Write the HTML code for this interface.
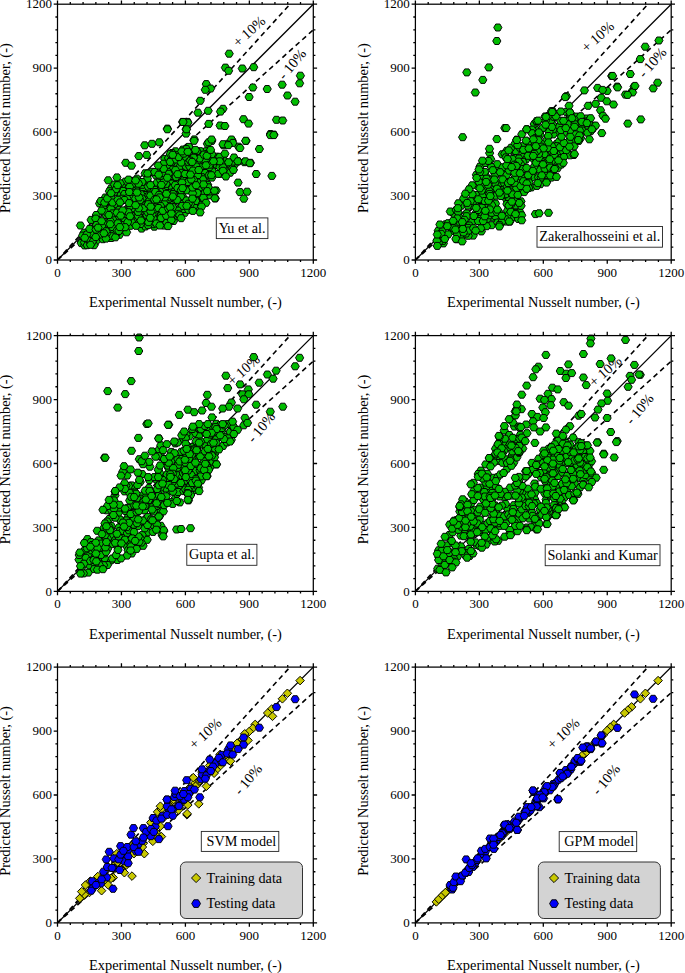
<!DOCTYPE html><html><head><meta charset="utf-8"><title>Predicted vs Experimental Nusselt number</title>
<style>html,body{margin:0;padding:0;background:#fff}svg{display:block}.t{font-family:"Liberation Serif",serif;font-size:13.0px;fill:#000}.l{font-family:"Liberation Serif",serif;font-size:14.4px;fill:#000}.b{font-family:"Liberation Serif",serif;font-size:14.2px;fill:#000}.g polygon{fill:#00bc00;stroke:#000;stroke-width:.95}.y polygon{fill:#c8c800;stroke:#000;stroke-width:.95}.u polygon{fill:#0000fa;stroke:#000;stroke-width:.95}</style></head><body>
<svg width="685" height="973" viewBox="0 0 685 973">
<rect width="685" height="973" fill="#fff"/>
<defs>
<clipPath id="c0"><rect x="57.5" y="4.2" width="255.8" height="255.8"/></clipPath>
<clipPath id="c1"><rect x="415.4" y="4.2" width="255.8" height="255.8"/></clipPath>
<clipPath id="c2"><rect x="57.5" y="335.6" width="255.8" height="255.8"/></clipPath>
<clipPath id="c3"><rect x="415.4" y="335.6" width="255.8" height="255.8"/></clipPath>
<clipPath id="c4"><rect x="57.5" y="667.1" width="255.8" height="255.8"/></clipPath>
<clipPath id="c5"><rect x="415.4" y="667.1" width="255.8" height="255.8"/></clipPath>
</defs>
<g>
<g clip-path="url(#c0)">
<line x1="57.5" y1="260.0" x2="313.3" y2="4.2" stroke="#000" stroke-width="1.3"/>
<line x1="57.5" y1="260.0" x2="290.0" y2="4.2" stroke="#000" stroke-width="1.6" stroke-dasharray="5.1 3.8"/>
<line x1="57.5" y1="260.0" x2="313.3" y2="29.8" stroke="#000" stroke-width="1.6" stroke-dasharray="5.1 3.8"/>
</g>
<text transform="translate(252.3 35.0) rotate(-42)" text-anchor="middle" class="l">+ 10%</text>
<text transform="translate(295.7 67.4) rotate(-50)" text-anchor="middle" class="l">- 10%</text>
<g class="g">
<polygon points="113.2,202.3 115.2,198.8 119.3,198.8 121.4,202.3 119.3,205.8 115.2,205.8"/>
<polygon points="133.6,208.4 135.6,204.9 139.8,204.9 141.8,208.4 139.8,211.9 135.6,211.9"/>
<polygon points="173.2,153.4 175.2,149.9 179.4,149.9 181.4,153.4 179.4,156.9 175.2,156.9"/>
<polygon points="205.8,195.4 207.8,191.9 212.0,191.9 214.0,195.4 212.0,198.9 207.8,198.9"/>
<polygon points="175.2,162.1 177.2,158.6 181.4,158.6 183.4,162.1 181.4,165.6 177.2,165.6"/>
<polygon points="157.3,222.5 159.3,219.0 163.5,219.0 165.5,222.5 163.5,226.0 159.3,226.0"/>
<polygon points="180.2,153.3 182.2,149.8 186.4,149.8 188.4,153.3 186.4,156.8 182.2,156.8"/>
<polygon points="193.7,207.1 195.8,203.6 199.9,203.6 201.9,207.1 199.9,210.6 195.8,210.6"/>
<polygon points="137.5,228.6 139.5,225.1 143.7,225.1 145.7,228.6 143.7,232.1 139.5,232.1"/>
<polygon points="212.3,156.7 214.3,153.2 218.5,153.2 220.5,156.7 218.5,160.2 214.3,160.2"/>
<polygon points="173.3,177.5 175.3,174.0 179.5,174.0 181.5,177.5 179.5,181.0 175.3,181.0"/>
<polygon points="154.8,186.1 156.8,182.6 161.0,182.6 163.0,186.1 161.0,189.6 156.8,189.6"/>
<polygon points="130.6,206.5 132.6,203.0 136.8,203.0 138.8,206.5 136.8,210.0 132.6,210.0"/>
<polygon points="180.2,163.4 182.2,159.9 186.4,159.9 188.4,163.4 186.4,166.9 182.2,166.9"/>
<polygon points="186.8,168.3 188.8,164.8 193.0,164.8 195.0,168.3 193.0,171.8 188.8,171.8"/>
<polygon points="90.0,228.5 92.0,225.0 96.1,225.0 98.2,228.5 96.1,232.0 92.0,232.0"/>
<polygon points="121.8,225.3 123.9,221.8 128.0,221.8 130.0,225.3 128.0,228.8 123.9,228.8"/>
<polygon points="171.4,151.3 173.4,147.8 177.6,147.8 179.6,151.3 177.6,154.8 173.4,154.8"/>
<polygon points="187.5,180.5 189.5,177.0 193.7,177.0 195.7,180.5 193.7,184.0 189.5,184.0"/>
<polygon points="106.9,188.4 109.0,184.9 113.0,184.9 115.1,188.4 113.0,191.9 109.0,191.9"/>
<polygon points="170.8,162.7 172.8,159.2 177.0,159.2 179.0,162.7 177.0,166.2 172.8,166.2"/>
<polygon points="82.9,235.4 85.0,231.9 89.0,231.9 91.1,235.4 89.0,238.9 85.0,238.9"/>
<polygon points="147.6,199.9 149.6,196.4 153.8,196.4 155.8,199.9 153.8,203.4 149.6,203.4"/>
<polygon points="176.0,207.6 178.0,204.1 182.2,204.1 184.2,207.6 182.2,211.1 178.0,211.1"/>
<polygon points="162.9,210.1 164.9,206.6 169.1,206.6 171.1,210.1 169.1,213.6 164.9,213.6"/>
<polygon points="143.1,220.3 145.1,216.8 149.2,216.8 151.3,220.3 149.2,223.8 145.1,223.8"/>
<polygon points="140.6,206.0 142.6,202.5 146.8,202.5 148.8,206.0 146.8,209.5 142.6,209.5"/>
<polygon points="173.4,194.4 175.4,190.9 179.6,190.9 181.6,194.4 179.6,197.9 175.4,197.9"/>
<polygon points="181.5,182.7 183.5,179.2 187.7,179.2 189.7,182.7 187.7,186.2 183.5,186.2"/>
<polygon points="115.2,193.3 117.2,189.8 121.3,189.8 123.4,193.3 121.3,196.8 117.2,196.8"/>
<polygon points="168.1,179.4 170.1,175.9 174.2,175.9 176.3,179.4 174.2,182.9 170.1,182.9"/>
<polygon points="132.7,178.7 134.8,175.2 138.9,175.2 140.9,178.7 138.9,182.2 134.8,182.2"/>
<polygon points="122.8,185.3 124.9,181.8 129.0,181.8 131.0,185.3 129.0,188.8 124.9,188.8"/>
<polygon points="164.4,221.8 166.4,218.3 170.6,218.3 172.6,221.8 170.6,225.3 166.4,225.3"/>
<polygon points="200.7,171.1 202.8,167.6 206.9,167.6 208.9,171.1 206.9,174.6 202.8,174.6"/>
<polygon points="105.3,191.2 107.4,187.7 111.5,187.7 113.5,191.2 111.5,194.7 107.4,194.7"/>
<polygon points="184.4,157.1 186.4,153.6 190.6,153.6 192.6,157.1 190.6,160.6 186.4,160.6"/>
<polygon points="126.2,180.8 128.2,177.3 132.4,177.3 134.4,180.8 132.4,184.3 128.2,184.3"/>
<polygon points="205.3,191.5 207.3,188.0 211.5,188.0 213.5,191.5 211.5,195.0 207.3,195.0"/>
<polygon points="208.7,164.0 210.8,160.5 214.9,160.5 216.9,164.0 214.9,167.5 210.8,167.5"/>
<polygon points="128.4,213.2 130.4,209.7 134.6,209.7 136.6,213.2 134.6,216.7 130.4,216.7"/>
<polygon points="158.3,166.2 160.3,162.7 164.5,162.7 166.5,166.2 164.5,169.7 160.3,169.7"/>
<polygon points="201.1,182.0 203.1,178.5 207.2,178.5 209.3,182.0 207.2,185.5 203.1,185.5"/>
<polygon points="199.2,174.4 201.2,170.9 205.4,170.9 207.4,174.4 205.4,177.9 201.2,177.9"/>
<polygon points="129.9,189.3 131.9,185.8 136.1,185.8 138.1,189.3 136.1,192.8 131.9,192.8"/>
<polygon points="141.3,188.6 143.3,185.1 147.5,185.1 149.5,188.6 147.5,192.1 143.3,192.1"/>
<polygon points="218.8,162.7 220.8,159.2 225.0,159.2 227.0,162.7 225.0,166.2 220.8,166.2"/>
<polygon points="77.1,243.1 79.2,239.6 83.2,239.6 85.3,243.1 83.2,246.6 79.2,246.6"/>
<polygon points="219.8,169.4 221.8,165.9 226.0,165.9 228.0,169.4 226.0,172.9 221.8,172.9"/>
<polygon points="178.9,199.8 180.9,196.3 185.1,196.3 187.1,199.8 185.1,203.3 180.9,203.3"/>
<polygon points="121.1,181.6 123.2,178.1 127.2,178.1 129.3,181.6 127.2,185.1 123.2,185.1"/>
<polygon points="167.4,176.0 169.4,172.5 173.6,172.5 175.6,176.0 173.6,179.5 169.4,179.5"/>
<polygon points="201.7,151.3 203.8,147.8 207.9,147.8 209.9,151.3 207.9,154.8 203.8,154.8"/>
<polygon points="171.1,181.6 173.1,178.1 177.2,178.1 179.3,181.6 177.2,185.1 173.1,185.1"/>
<polygon points="115.4,234.8 117.5,231.3 121.5,231.3 123.6,234.8 121.5,238.3 117.5,238.3"/>
<polygon points="150.2,226.7 152.2,223.2 156.4,223.2 158.4,226.7 156.4,230.2 152.2,230.2"/>
<polygon points="102.8,227.6 104.9,224.1 109.0,224.1 111.0,227.6 109.0,231.1 104.9,231.1"/>
<polygon points="117.9,200.6 120.0,197.1 124.0,197.1 126.1,200.6 124.0,204.1 120.0,204.1"/>
<polygon points="141.8,195.0 143.8,191.5 148.0,191.5 150.0,195.0 148.0,198.5 143.8,198.5"/>
<polygon points="130.7,212.8 132.8,209.3 136.9,209.3 138.9,212.8 136.9,216.3 132.8,216.3"/>
<polygon points="167.1,183.6 169.1,180.1 173.2,180.1 175.3,183.6 173.2,187.1 169.1,187.1"/>
<polygon points="95.5,203.5 97.5,200.0 101.6,200.0 103.7,203.5 101.6,207.0 97.5,207.0"/>
<polygon points="187.1,185.6 189.1,182.1 193.2,182.1 195.3,185.6 193.2,189.1 189.1,189.1"/>
<polygon points="197.4,185.6 199.4,182.1 203.6,182.1 205.6,185.6 203.6,189.1 199.4,189.1"/>
<polygon points="143.1,184.8 145.1,181.3 149.2,181.3 151.3,184.8 149.2,188.3 145.1,188.3"/>
<polygon points="153.1,218.5 155.1,215.0 159.2,215.0 161.3,218.5 159.2,222.0 155.1,222.0"/>
<polygon points="141.4,217.6 143.4,214.1 147.6,214.1 149.6,217.6 147.6,221.1 143.4,221.1"/>
<polygon points="147.7,171.8 149.8,168.3 153.9,168.3 155.9,171.8 153.9,175.3 149.8,175.3"/>
<polygon points="159.3,217.8 161.3,214.3 165.5,214.3 167.5,217.8 165.5,221.3 161.3,221.3"/>
<polygon points="116.9,194.1 119.0,190.6 123.0,190.6 125.1,194.1 123.0,197.6 119.0,197.6"/>
<polygon points="95.4,229.8 97.5,226.3 101.5,226.3 103.6,229.8 101.5,233.3 97.5,233.3"/>
<polygon points="189.9,204.3 191.9,200.8 196.1,200.8 198.1,204.3 196.1,207.8 191.9,207.8"/>
<polygon points="196.2,151.2 198.2,147.7 202.4,147.7 204.4,151.2 202.4,154.7 198.2,154.7"/>
<polygon points="212.6,165.0 214.6,161.5 218.8,161.5 220.8,165.0 218.8,168.5 214.6,168.5"/>
<polygon points="80.0,232.7 82.0,229.2 86.1,229.2 88.2,232.7 86.1,236.2 82.0,236.2"/>
<polygon points="95.1,233.0 97.2,229.5 101.2,229.5 103.3,233.0 101.2,236.5 97.2,236.5"/>
<polygon points="195.1,199.0 197.1,195.5 201.2,195.5 203.3,199.0 201.2,202.5 197.1,202.5"/>
<polygon points="187.0,157.6 189.0,154.1 193.2,154.1 195.2,157.6 193.2,161.1 189.0,161.1"/>
<polygon points="115.0,209.7 117.0,206.2 121.1,206.2 123.2,209.7 121.1,213.2 117.0,213.2"/>
<polygon points="192.9,187.0 194.9,183.5 199.1,183.5 201.1,187.0 199.1,190.5 194.9,190.5"/>
<polygon points="133.2,187.2 135.2,183.7 139.4,183.7 141.4,187.2 139.4,190.7 135.2,190.7"/>
<polygon points="192.0,163.1 194.0,159.6 198.2,159.6 200.2,163.1 198.2,166.6 194.0,166.6"/>
<polygon points="151.2,212.4 153.2,208.9 157.4,208.9 159.4,212.4 157.4,215.9 153.2,215.9"/>
<polygon points="215.2,162.0 217.2,158.5 221.4,158.5 223.4,162.0 221.4,165.5 217.2,165.5"/>
<polygon points="91.2,223.2 93.2,219.7 97.3,219.7 99.4,223.2 97.3,226.7 93.2,226.7"/>
<polygon points="107.2,206.6 109.2,203.1 113.3,203.1 115.4,206.6 113.3,210.1 109.2,210.1"/>
<polygon points="122.1,218.8 124.2,215.3 128.2,215.3 130.3,218.8 128.2,222.3 124.2,222.3"/>
<polygon points="166.8,174.0 168.8,170.5 173.0,170.5 175.0,174.0 173.0,177.5 168.8,177.5"/>
<polygon points="150.5,185.8 152.5,182.3 156.7,182.3 158.7,185.8 156.7,189.3 152.5,189.3"/>
<polygon points="126.2,225.8 128.2,222.3 132.4,222.3 134.4,225.8 132.4,229.3 128.2,229.3"/>
<polygon points="150.6,207.9 152.6,204.4 156.8,204.4 158.8,207.9 156.8,211.4 152.6,211.4"/>
<polygon points="150.8,220.4 152.8,216.9 157.0,216.9 159.0,220.4 157.0,223.9 152.8,223.9"/>
<polygon points="112.7,220.1 114.8,216.6 118.8,216.6 120.9,220.1 118.8,223.6 114.8,223.6"/>
<polygon points="208.5,171.5 210.5,168.0 214.7,168.0 216.7,171.5 214.7,175.0 210.5,175.0"/>
<polygon points="105.3,218.7 107.4,215.2 111.5,215.2 113.5,218.7 111.5,222.2 107.4,222.2"/>
<polygon points="124.8,190.0 126.9,186.5 131.0,186.5 133.0,190.0 131.0,193.5 126.9,193.5"/>
<polygon points="189.1,155.5 191.1,152.0 195.2,152.0 197.3,155.5 195.2,159.0 191.1,159.0"/>
<polygon points="90.7,231.9 92.8,228.4 96.8,228.4 98.9,231.9 96.8,235.4 92.8,235.4"/>
<polygon points="166.1,215.7 168.1,212.2 172.2,212.2 174.3,215.7 172.2,219.2 168.1,219.2"/>
<polygon points="143.8,196.4 145.8,192.9 150.0,192.9 152.0,196.4 150.0,199.9 145.8,199.9"/>
<polygon points="160.6,158.9 162.6,155.4 166.8,155.4 168.8,158.9 166.8,162.4 162.6,162.4"/>
<polygon points="118.9,214.7 121.0,211.2 125.0,211.2 127.1,214.7 125.0,218.2 121.0,218.2"/>
<polygon points="93.8,237.4 95.9,233.9 100.0,233.9 102.0,237.4 100.0,240.9 95.9,240.9"/>
<polygon points="122.1,215.8 124.2,212.3 128.2,212.3 130.3,215.8 128.2,219.3 124.2,219.3"/>
<polygon points="117.4,223.8 119.5,220.3 123.5,220.3 125.6,223.8 123.5,227.3 119.5,227.3"/>
<polygon points="152.8,182.7 154.8,179.2 159.0,179.2 161.0,182.7 159.0,186.2 154.8,186.2"/>
<polygon points="164.0,165.3 166.0,161.8 170.2,161.8 172.2,165.3 170.2,168.8 166.0,168.8"/>
<polygon points="176.3,211.2 178.3,207.7 182.5,207.7 184.5,211.2 182.5,214.7 178.3,214.7"/>
<polygon points="104.1,237.7 106.2,234.2 110.2,234.2 112.3,237.7 110.2,241.2 106.2,241.2"/>
<polygon points="177.8,159.3 179.8,155.8 184.0,155.8 186.0,159.3 184.0,162.8 179.8,162.8"/>
<polygon points="220.5,161.2 222.5,157.7 226.7,157.7 228.7,161.2 226.7,164.7 222.5,164.7"/>
<polygon points="127.6,220.3 129.6,216.8 133.8,216.8 135.8,220.3 133.8,223.8 129.6,223.8"/>
<polygon points="168.8,203.4 170.8,199.9 175.0,199.9 177.0,203.4 175.0,206.9 170.8,206.9"/>
<polygon points="176.5,193.5 178.5,190.0 182.7,190.0 184.7,193.5 182.7,197.0 178.5,197.0"/>
<polygon points="87.0,219.9 89.0,216.4 93.1,216.4 95.2,219.9 93.1,223.4 89.0,223.4"/>
<polygon points="193.1,202.2 195.1,198.7 199.2,198.7 201.3,202.2 199.2,205.7 195.1,205.7"/>
<polygon points="190.8,183.4 192.8,179.9 197.0,179.9 199.0,183.4 197.0,186.9 192.8,186.9"/>
<polygon points="117.5,185.9 119.5,182.4 123.6,182.4 125.7,185.9 123.6,189.4 119.5,189.4"/>
<polygon points="154.4,172.0 156.4,168.5 160.6,168.5 162.6,172.0 160.6,175.5 156.4,175.5"/>
<polygon points="195.3,182.9 197.3,179.4 201.5,179.4 203.5,182.9 201.5,186.4 197.3,186.4"/>
<polygon points="127.8,187.9 129.8,184.4 134.0,184.4 136.0,187.9 134.0,191.4 129.8,191.4"/>
<polygon points="160.1,225.6 162.1,222.1 166.2,222.1 168.3,225.6 166.2,229.1 162.1,229.1"/>
<polygon points="140.8,222.7 142.8,219.2 147.0,219.2 149.0,222.7 147.0,226.2 142.8,226.2"/>
<polygon points="167.9,161.7 169.9,158.2 174.1,158.2 176.1,161.7 174.1,165.2 169.9,165.2"/>
<polygon points="158.0,204.8 160.0,201.3 164.2,201.3 166.2,204.8 164.2,208.3 160.0,208.3"/>
<polygon points="161.9,206.3 163.9,202.8 168.1,202.8 170.1,206.3 168.1,209.8 163.9,209.8"/>
<polygon points="182.6,177.3 184.6,173.8 188.8,173.8 190.8,177.3 188.8,180.8 184.6,180.8"/>
<polygon points="169.4,221.0 171.4,217.5 175.6,217.5 177.6,221.0 175.6,224.5 171.4,224.5"/>
<polygon points="178.8,197.0 180.8,193.5 185.0,193.5 187.0,197.0 185.0,200.5 180.8,200.5"/>
<polygon points="157.4,193.8 159.4,190.3 163.6,190.3 165.6,193.8 163.6,197.3 159.4,197.3"/>
<polygon points="106.3,200.8 108.4,197.3 112.5,197.3 114.5,200.8 112.5,204.3 108.4,204.3"/>
<polygon points="183.8,160.4 185.8,156.9 190.0,156.9 192.0,160.4 190.0,163.9 185.8,163.9"/>
<polygon points="193.5,196.3 195.5,192.8 199.7,192.8 201.7,196.3 199.7,199.8 195.5,199.8"/>
<polygon points="101.2,197.5 103.2,194.0 107.3,194.0 109.4,197.5 107.3,201.0 103.2,201.0"/>
<polygon points="184.5,201.6 186.5,198.1 190.7,198.1 192.7,201.6 190.7,205.1 186.5,205.1"/>
<polygon points="141.7,213.1 143.8,209.6 147.9,209.6 149.9,213.1 147.9,216.6 143.8,216.6"/>
<polygon points="123.5,194.2 125.5,190.7 129.7,190.7 131.7,194.2 129.7,197.7 125.5,197.7"/>
<polygon points="133.7,200.8 135.8,197.3 139.9,197.3 141.9,200.8 139.9,204.3 135.8,204.3"/>
<polygon points="168.6,169.6 170.6,166.1 174.8,166.1 176.8,169.6 174.8,173.1 170.6,173.1"/>
<polygon points="197.5,161.4 199.5,157.9 203.7,157.9 205.7,161.4 203.7,164.9 199.5,164.9"/>
<polygon points="145.7,188.4 147.8,184.9 151.9,184.9 153.9,188.4 151.9,191.9 147.8,191.9"/>
<polygon points="185.2,151.9 187.2,148.4 191.4,148.4 193.4,151.9 191.4,155.4 187.2,155.4"/>
<polygon points="138.7,187.2 140.8,183.7 144.9,183.7 146.9,187.2 144.9,190.7 140.8,190.7"/>
<polygon points="80.5,245.4 82.5,241.9 86.6,241.9 88.7,245.4 86.6,248.9 82.5,248.9"/>
<polygon points="188.9,174.8 190.9,171.3 195.1,171.3 197.1,174.8 195.1,178.3 190.9,178.3"/>
<polygon points="198.3,194.3 200.3,190.8 204.5,190.8 206.5,194.3 204.5,197.8 200.3,197.8"/>
<polygon points="215.7,167.2 217.8,163.7 221.9,163.7 223.9,167.2 221.9,170.7 217.8,170.7"/>
<polygon points="123.5,208.7 125.5,205.2 129.7,205.2 131.7,208.7 129.7,212.2 125.5,212.2"/>
<polygon points="128.1,216.2 130.1,212.7 134.2,212.7 136.3,216.2 134.2,219.7 130.1,219.7"/>
<polygon points="220.0,164.6 222.0,161.1 226.2,161.1 228.2,164.6 226.2,168.1 222.0,168.1"/>
<polygon points="197.0,195.8 199.0,192.3 203.2,192.3 205.2,195.8 203.2,199.3 199.0,199.3"/>
<polygon points="187.9,208.6 189.9,205.1 194.1,205.1 196.1,208.6 194.1,212.1 189.9,212.1"/>
<polygon points="186.3,149.1 188.3,145.6 192.5,145.6 194.5,149.1 192.5,152.6 188.3,152.6"/>
<polygon points="148.6,224.2 150.6,220.7 154.8,220.7 156.8,224.2 154.8,227.7 150.6,227.7"/>
<polygon points="181.2,156.6 183.2,153.1 187.4,153.1 189.4,156.6 187.4,160.1 183.2,160.1"/>
<polygon points="113.0,232.9 115.0,229.4 119.1,229.4 121.2,232.9 119.1,236.4 115.0,236.4"/>
<polygon points="128.0,184.5 130.0,181.0 134.2,181.0 136.2,184.5 134.2,188.0 130.0,188.0"/>
<polygon points="164.4,158.0 166.4,154.5 170.6,154.5 172.6,158.0 170.6,161.5 166.4,161.5"/>
<polygon points="100.0,212.6 102.0,209.1 106.1,209.1 108.2,212.6 106.1,216.1 102.0,216.1"/>
<polygon points="110.4,204.2 112.5,200.7 116.5,200.7 118.6,204.2 116.5,207.7 112.5,207.7"/>
<polygon points="141.3,226.5 143.3,223.0 147.5,223.0 149.5,226.5 147.5,230.0 143.3,230.0"/>
<polygon points="204.1,158.2 206.1,154.7 210.2,154.7 212.3,158.2 210.2,161.7 206.1,161.7"/>
<polygon points="107.2,238.0 109.2,234.5 113.3,234.5 115.4,238.0 113.3,241.5 109.2,241.5"/>
<polygon points="110.8,231.5 112.9,228.0 117.0,228.0 119.0,231.5 117.0,235.0 112.9,235.0"/>
<polygon points="171.6,212.3 173.6,208.8 177.8,208.8 179.8,212.3 177.8,215.8 173.6,215.8"/>
<polygon points="129.9,208.3 131.9,204.8 136.1,204.8 138.1,208.3 136.1,211.8 131.9,211.8"/>
<polygon points="202.4,167.8 204.4,164.3 208.6,164.3 210.6,167.8 208.6,171.3 204.4,171.3"/>
<polygon points="159.8,194.1 161.8,190.6 166.0,190.6 168.0,194.1 166.0,197.6 161.8,197.6"/>
<polygon points="129.9,196.2 131.9,192.7 136.1,192.7 138.1,196.2 136.1,199.7 131.9,199.7"/>
<polygon points="190.1,189.9 192.1,186.4 196.2,186.4 198.3,189.9 196.2,193.4 192.1,193.4"/>
<polygon points="159.2,189.5 161.2,186.0 165.4,186.0 167.4,189.5 165.4,193.0 161.2,193.0"/>
<polygon points="196.0,188.3 198.0,184.8 202.2,184.8 204.2,188.3 202.2,191.8 198.0,191.8"/>
<polygon points="188.1,176.8 190.1,173.3 194.2,173.3 196.3,176.8 194.2,180.3 190.1,180.3"/>
<polygon points="156.7,212.0 158.8,208.5 162.9,208.5 164.9,212.0 162.9,215.5 158.8,215.5"/>
<polygon points="119.0,190.9 121.0,187.4 125.1,187.4 127.2,190.9 125.1,194.4 121.0,194.4"/>
<polygon points="129.7,222.5 131.8,219.0 135.9,219.0 137.9,222.5 135.9,226.0 131.8,226.0"/>
<polygon points="191.9,176.1 193.9,172.6 198.1,172.6 200.1,176.1 198.1,179.6 193.9,179.6"/>
<polygon points="100.0,224.7 102.0,221.2 106.1,221.2 108.2,224.7 106.1,228.2 102.0,228.2"/>
<polygon points="157.7,202.1 159.8,198.6 163.9,198.6 165.9,202.1 163.9,205.6 159.8,205.6"/>
<polygon points="120.5,194.0 122.5,190.5 126.6,190.5 128.7,194.0 126.6,197.5 122.5,197.5"/>
<polygon points="96.7,201.0 98.8,197.5 102.8,197.5 104.9,201.0 102.8,204.5 98.8,204.5"/>
<polygon points="159.3,163.7 161.3,160.2 165.5,160.2 167.5,163.7 165.5,167.2 161.3,167.2"/>
<polygon points="195.5,194.3 197.5,190.8 201.7,190.8 203.7,194.3 201.7,197.8 197.5,197.8"/>
<polygon points="143.2,181.3 145.2,177.8 149.4,177.8 151.4,181.3 149.4,184.8 145.2,184.8"/>
<polygon points="114.6,228.7 116.7,225.2 120.8,225.2 122.8,228.7 120.8,232.2 116.7,232.2"/>
<polygon points="141.1,173.3 143.1,169.8 147.2,169.8 149.3,173.3 147.2,176.8 143.1,176.8"/>
<polygon points="173.4,215.7 175.4,212.2 179.6,212.2 181.6,215.7 179.6,219.2 175.4,219.2"/>
<polygon points="161.7,175.3 163.8,171.8 167.9,171.8 169.9,175.3 167.9,178.8 163.8,178.8"/>
<polygon points="140.5,199.7 142.5,196.2 146.7,196.2 148.7,199.7 146.7,203.2 142.5,203.2"/>
<polygon points="161.0,188.4 163.0,184.9 167.2,184.9 169.2,188.4 167.2,191.9 163.0,191.9"/>
<polygon points="130.8,193.2 132.8,189.7 137.0,189.7 139.0,193.2 137.0,196.7 132.8,196.7"/>
<polygon points="200.6,193.0 202.6,189.5 206.8,189.5 208.8,193.0 206.8,196.5 202.6,196.5"/>
<polygon points="224.8,162.6 226.8,159.1 231.0,159.1 233.0,162.6 231.0,166.1 226.8,166.1"/>
<polygon points="125.1,200.1 127.1,196.6 131.2,196.6 133.3,200.1 131.2,203.6 127.1,203.6"/>
<polygon points="165.2,202.9 167.2,199.4 171.4,199.4 173.4,202.9 171.4,206.4 167.2,206.4"/>
<polygon points="151.8,175.3 153.8,171.8 158.0,171.8 160.0,175.3 158.0,178.8 153.8,178.8"/>
<polygon points="92.2,215.0 94.2,211.5 98.3,211.5 100.4,215.0 98.3,218.5 94.2,218.5"/>
<polygon points="175.9,166.7 177.9,163.2 182.1,163.2 184.1,166.7 182.1,170.2 177.9,170.2"/>
<polygon points="125.5,186.8 127.5,183.3 131.7,183.3 133.7,186.8 131.7,190.3 127.5,190.3"/>
<polygon points="98.7,239.2 100.8,235.7 104.8,235.7 106.9,239.2 104.8,242.7 100.8,242.7"/>
<polygon points="180.7,212.8 182.8,209.3 186.9,209.3 188.9,212.8 186.9,216.3 182.8,216.3"/>
<polygon points="193.9,164.7 195.9,161.2 200.1,161.2 202.1,164.7 200.1,168.2 195.9,168.2"/>
<polygon points="105.7,230.8 107.8,227.3 111.8,227.3 113.9,230.8 111.8,234.3 107.8,234.3"/>
<polygon points="197.3,204.8 199.3,201.3 203.5,201.3 205.5,204.8 203.5,208.3 199.3,208.3"/>
<polygon points="144.8,201.3 146.8,197.8 151.0,197.8 153.0,201.3 151.0,204.8 146.8,204.8"/>
<polygon points="205.2,167.2 207.2,163.7 211.4,163.7 213.4,167.2 211.4,170.7 207.2,170.7"/>
<polygon points="211.4,158.4 213.4,154.9 217.6,154.9 219.6,158.4 217.6,161.9 213.4,161.9"/>
<polygon points="78.5,235.6 80.5,232.1 84.6,232.1 86.7,235.6 84.6,239.1 80.5,239.1"/>
<polygon points="182.4,200.4 184.4,196.9 188.6,196.9 190.6,200.4 188.6,203.9 184.4,203.9"/>
<polygon points="194.9,156.2 196.9,152.7 201.1,152.7 203.1,156.2 201.1,159.7 196.9,159.7"/>
<polygon points="160.0,191.8 162.0,188.3 166.2,188.3 168.2,191.8 166.2,195.3 162.0,195.3"/>
<polygon points="99.0,208.1 101.0,204.6 105.1,204.6 107.2,208.1 105.1,211.6 101.0,211.6"/>
<polygon points="126.3,198.5 128.3,195.0 132.5,195.0 134.5,198.5 132.5,202.0 128.3,202.0"/>
<polygon points="153.8,221.5 155.8,218.0 160.0,218.0 162.0,221.5 160.0,225.0 155.8,225.0"/>
<polygon points="146.4,195.5 148.4,192.0 152.6,192.0 154.6,195.5 152.6,199.0 148.4,199.0"/>
<polygon points="144.7,209.8 146.8,206.3 150.9,206.3 152.9,209.8 150.9,213.3 146.8,213.3"/>
<polygon points="85.5,234.0 87.5,230.5 91.6,230.5 93.7,234.0 91.6,237.5 87.5,237.5"/>
<polygon points="186.4,183.7 188.4,180.2 192.6,180.2 194.6,183.7 192.6,187.2 188.4,187.2"/>
<polygon points="122.9,198.4 125.0,194.9 129.1,194.9 131.1,198.4 129.1,201.9 125.0,201.9"/>
<polygon points="138.1,184.8 140.1,181.3 144.2,181.3 146.3,184.8 144.2,188.3 140.1,188.3"/>
<polygon points="110.4,184.6 112.5,181.1 116.5,181.1 118.6,184.6 116.5,188.1 112.5,188.1"/>
<polygon points="181.9,159.1 183.9,155.6 188.1,155.6 190.1,159.1 188.1,162.6 183.9,162.6"/>
<polygon points="155.5,190.9 157.5,187.4 161.7,187.4 163.7,190.9 161.7,194.4 157.5,194.4"/>
<polygon points="150.6,189.8 152.6,186.3 156.8,186.3 158.8,189.8 156.8,193.3 152.6,193.3"/>
<polygon points="80.4,242.3 82.5,238.8 86.5,238.8 88.6,242.3 86.5,245.8 82.5,245.8"/>
<polygon points="159.8,175.8 161.8,172.3 166.0,172.3 168.0,175.8 166.0,179.3 161.8,179.3"/>
<polygon points="143.3,178.6 145.3,175.1 149.5,175.1 151.5,178.6 149.5,182.1 145.3,182.1"/>
<polygon points="106.3,235.8 108.4,232.3 112.5,232.3 114.5,235.8 112.5,239.3 108.4,239.3"/>
<polygon points="205.2,152.5 207.2,149.0 211.4,149.0 213.4,152.5 211.4,156.0 207.2,156.0"/>
<polygon points="117.1,217.6 119.2,214.1 123.2,214.1 125.3,217.6 123.2,221.1 119.2,221.1"/>
<polygon points="110.4,191.9 112.5,188.4 116.5,188.4 118.6,191.9 116.5,195.4 112.5,195.4"/>
<polygon points="163.7,171.8 165.8,168.3 169.9,168.3 171.9,171.8 169.9,175.3 165.8,175.3"/>
<polygon points="184.6,168.7 186.6,165.2 190.8,165.2 192.8,168.7 190.8,172.2 186.6,172.2"/>
<polygon points="180.1,209.0 182.1,205.5 186.2,205.5 188.3,209.0 186.2,212.5 182.1,212.5"/>
<polygon points="103.5,223.5 105.5,220.0 109.6,220.0 111.7,223.5 109.6,227.0 105.5,227.0"/>
<polygon points="137.3,201.9 139.3,198.4 143.5,198.4 145.5,201.9 143.5,205.4 139.3,205.4"/>
<polygon points="168.8,210.9 170.8,207.4 175.0,207.4 177.0,210.9 175.0,214.4 170.8,214.4"/>
<polygon points="152.2,205.9 154.2,202.4 158.4,202.4 160.4,205.9 158.4,209.4 154.2,209.4"/>
<polygon points="182.4,169.4 184.4,165.9 188.6,165.9 190.6,169.4 188.6,172.9 184.4,172.9"/>
<polygon points="189.7,206.3 191.8,202.8 195.9,202.8 197.9,206.3 195.9,209.8 191.8,209.8"/>
<polygon points="150.4,204.7 152.4,201.2 156.6,201.2 158.6,204.7 156.6,208.2 152.4,208.2"/>
<polygon points="115.0,218.0 117.0,214.5 121.1,214.5 123.2,218.0 121.1,221.5 117.0,221.5"/>
<polygon points="163.4,186.1 165.4,182.6 169.6,182.6 171.6,186.1 169.6,189.6 165.4,189.6"/>
<polygon points="107.5,198.3 109.5,194.8 113.6,194.8 115.7,198.3 113.6,201.8 109.5,201.8"/>
<polygon points="143.5,173.5 145.5,170.0 149.7,170.0 151.7,173.5 149.7,177.0 145.5,177.0"/>
<polygon points="225.3,165.7 227.3,162.2 231.5,162.2 233.5,165.7 231.5,169.2 227.3,169.2"/>
<polygon points="164.8,198.9 166.8,195.4 171.0,195.4 173.0,198.9 171.0,202.4 166.8,202.4"/>
<polygon points="91.6,218.6 93.7,215.1 97.8,215.1 99.8,218.6 97.8,222.1 93.7,222.1"/>
<polygon points="192.5,169.7 194.5,166.2 198.7,166.2 200.7,169.7 198.7,173.2 194.5,173.2"/>
<polygon points="101.9,214.9 104.0,211.4 108.0,211.4 110.1,214.9 108.0,218.4 104.0,218.4"/>
<polygon points="118.0,198.7 120.0,195.2 124.1,195.2 126.2,198.7 124.1,202.2 120.0,202.2"/>
<polygon points="191.6,198.2 193.6,194.7 197.8,194.7 199.8,198.2 197.8,201.7 193.6,201.7"/>
<polygon points="182.7,190.4 184.8,186.9 188.9,186.9 190.9,190.4 188.9,193.9 184.8,193.9"/>
<polygon points="200.8,173.0 202.8,169.5 207.0,169.5 209.0,173.0 207.0,176.5 202.8,176.5"/>
<polygon points="102.6,212.2 104.7,208.7 108.8,208.7 110.8,212.2 108.8,215.7 104.7,215.7"/>
<polygon points="109.0,224.2 111.0,220.7 115.1,220.7 117.2,224.2 115.1,227.7 111.0,227.7"/>
<polygon points="162.5,222.9 164.5,219.4 168.7,219.4 170.7,222.9 168.7,226.4 164.5,226.4"/>
<polygon points="218.9,167.4 220.9,163.9 225.1,163.9 227.1,167.4 225.1,170.9 220.9,170.9"/>
<polygon points="190.8,196.2 192.8,192.7 197.0,192.7 199.0,196.2 197.0,199.7 192.8,199.7"/>
<polygon points="160.5,215.0 162.5,211.5 166.7,211.5 168.7,215.0 166.7,218.5 162.5,218.5"/>
<polygon points="97.5,210.6 99.5,207.1 103.6,207.1 105.7,210.6 103.6,214.1 99.5,214.1"/>
<polygon points="213.2,160.8 215.2,157.3 219.4,157.3 221.4,160.8 219.4,164.3 215.2,164.3"/>
<polygon points="170.9,173.6 172.9,170.1 177.1,170.1 179.1,173.6 177.1,177.1 172.9,177.1"/>
<polygon points="184.8,146.9 186.8,143.4 191.0,143.4 193.0,146.9 191.0,150.4 186.8,150.4"/>
<polygon points="119.9,218.1 122.0,214.6 126.0,214.6 128.1,218.1 126.0,221.6 122.0,221.6"/>
<polygon points="156.5,180.2 158.5,176.7 162.7,176.7 164.7,180.2 162.7,183.7 158.5,183.7"/>
<polygon points="200.5,186.4 202.5,182.9 206.7,182.9 208.7,186.4 206.7,189.9 202.5,189.9"/>
<polygon points="179.6,180.1 181.6,176.6 185.8,176.6 187.8,180.1 185.8,183.6 181.6,183.6"/>
<polygon points="111.9,189.2 114.0,185.7 118.0,185.7 120.1,189.2 118.0,192.7 114.0,192.7"/>
<polygon points="164.4,173.8 166.4,170.3 170.6,170.3 172.6,173.8 170.6,177.3 166.4,177.3"/>
<polygon points="199.3,197.8 201.3,194.3 205.5,194.3 207.5,197.8 205.5,201.3 201.3,201.3"/>
<polygon points="91.8,241.4 93.9,237.9 98.0,237.9 100.0,241.4 98.0,244.9 93.9,244.9"/>
<polygon points="166.4,210.4 168.4,206.9 172.6,206.9 174.6,210.4 172.6,213.9 168.4,213.9"/>
<polygon points="231.0,163.9 233.0,160.4 237.2,160.4 239.2,163.9 237.2,167.4 233.0,167.4"/>
<polygon points="150.6,172.0 152.6,168.5 156.8,168.5 158.8,172.0 156.8,175.5 152.6,175.5"/>
<polygon points="90.0,245.2 92.0,241.7 96.1,241.7 98.2,245.2 96.1,248.7 92.0,248.7"/>
<polygon points="83.1,245.2 85.2,241.7 89.2,241.7 91.3,245.2 89.2,248.7 85.2,248.7"/>
<polygon points="191.6,201.0 193.6,197.5 197.8,197.5 199.8,201.0 197.8,204.5 193.6,204.5"/>
<polygon points="173.9,155.2 175.9,151.7 180.1,151.7 182.1,155.2 180.1,158.7 175.9,158.7"/>
<polygon points="186.4,204.0 188.4,200.5 192.6,200.5 194.6,204.0 192.6,207.5 188.4,207.5"/>
<polygon points="136.8,194.3 138.8,190.8 143.0,190.8 145.0,194.3 143.0,197.8 138.8,197.8"/>
<polygon points="123.6,222.1 125.7,218.6 129.8,218.6 131.8,222.1 129.8,225.6 125.7,225.6"/>
<polygon points="116.1,183.3 118.2,179.8 122.2,179.8 124.3,183.3 122.2,186.8 118.2,186.8"/>
<polygon points="106.8,208.6 108.9,205.1 113.0,205.1 115.0,208.6 113.0,212.1 108.9,212.1"/>
<polygon points="92.4,225.0 94.5,221.5 98.5,221.5 100.6,225.0 98.5,228.5 94.5,228.5"/>
<polygon points="97.7,226.1 99.8,222.6 103.8,222.6 105.9,226.1 103.8,229.6 99.8,229.6"/>
<polygon points="215.5,159.2 217.5,155.7 221.7,155.7 223.7,159.2 221.7,162.7 217.5,162.7"/>
<polygon points="125.2,192.0 127.3,188.5 131.4,188.5 133.4,192.0 131.4,195.5 127.3,195.5"/>
<polygon points="220.0,172.7 222.0,169.2 226.2,169.2 228.2,172.7 226.2,176.2 222.0,176.2"/>
<polygon points="89.6,237.4 91.7,233.9 95.8,233.9 97.8,237.4 95.8,240.9 91.7,240.9"/>
<polygon points="160.3,204.0 162.3,200.5 166.5,200.5 168.5,204.0 166.5,207.5 162.3,207.5"/>
<polygon points="138.0,198.6 140.0,195.1 144.2,195.1 146.2,198.6 144.2,202.1 140.0,202.1"/>
<polygon points="122.5,232.3 124.5,228.8 128.7,228.8 130.7,232.3 128.7,235.8 124.5,235.8"/>
<polygon points="203.2,153.9 205.2,150.4 209.4,150.4 211.4,153.9 209.4,157.4 205.2,157.4"/>
<polygon points="216.3,173.8 218.3,170.3 222.5,170.3 224.5,173.8 222.5,177.3 218.3,177.3"/>
<polygon points="124.5,214.7 126.5,211.2 130.7,211.2 132.7,214.7 130.7,218.2 126.5,218.2"/>
<polygon points="138.0,182.0 140.0,178.5 144.2,178.5 146.2,182.0 144.2,185.5 140.0,185.5"/>
<polygon points="144.1,225.2 146.1,221.7 150.2,221.7 152.3,225.2 150.2,228.7 146.1,228.7"/>
<polygon points="102.7,233.3 104.8,229.8 108.8,229.8 110.9,233.3 108.8,236.8 104.8,236.8"/>
<polygon points="134.4,183.7 136.4,180.2 140.6,180.2 142.6,183.7 140.6,187.2 136.4,187.2"/>
<polygon points="153.1,192.9 155.1,189.4 159.2,189.4 161.3,192.9 159.2,196.4 155.1,196.4"/>
<polygon points="94.1,235.2 96.2,231.7 100.2,231.7 102.3,235.2 100.2,238.7 96.2,238.7"/>
<polygon points="193.2,192.9 195.2,189.4 199.4,189.4 201.4,192.9 199.4,196.4 195.2,196.4"/>
<polygon points="204.8,175.4 206.8,171.9 211.0,171.9 213.0,175.4 211.0,178.9 206.8,178.9"/>
<polygon points="178.8,149.6 180.8,146.1 185.0,146.1 187.0,149.6 185.0,153.1 180.8,153.1"/>
<polygon points="109.0,219.9 111.0,216.4 115.1,216.4 117.2,219.9 115.1,223.4 111.0,223.4"/>
<polygon points="226.4,168.9 228.4,165.4 232.6,165.4 234.6,168.9 232.6,172.4 228.4,172.4"/>
<polygon points="167.2,159.8 169.2,156.3 173.4,156.3 175.4,159.8 173.4,163.3 169.2,163.3"/>
<polygon points="157.1,215.1 159.1,211.6 163.2,211.6 165.3,215.1 163.2,218.6 159.1,218.6"/>
<polygon points="97.5,221.2 99.5,217.7 103.6,217.7 105.7,221.2 103.6,224.7 99.5,224.7"/>
<polygon points="101.9,238.6 104.0,235.1 108.0,235.1 110.1,238.6 108.0,242.1 104.0,242.1"/>
<polygon points="144.1,186.6 146.1,183.1 150.2,183.1 152.3,186.6 150.2,190.1 146.1,190.1"/>
<polygon points="156.9,218.1 158.9,214.6 163.1,214.6 165.1,218.1 163.1,221.6 158.9,221.6"/>
<polygon points="168.3,188.1 170.3,184.6 174.5,184.6 176.5,188.1 174.5,191.6 170.3,191.6"/>
<polygon points="171.9,197.3 173.9,193.8 178.1,193.8 180.1,197.3 178.1,200.8 173.9,200.8"/>
<polygon points="157.3,196.9 159.3,193.4 163.5,193.4 165.5,196.9 163.5,200.4 159.3,200.4"/>
<polygon points="197.9,177.2 199.9,173.7 204.1,173.7 206.1,177.2 204.1,180.7 199.9,180.7"/>
<polygon points="207.7,154.2 209.8,150.7 213.9,150.7 215.9,154.2 213.9,157.7 209.8,157.7"/>
<polygon points="151.4,192.0 153.4,188.5 157.6,188.5 159.6,192.0 157.6,195.5 153.4,195.5"/>
<polygon points="146.7,204.5 148.8,201.0 152.9,201.0 154.9,204.5 152.9,208.0 148.8,208.0"/>
<polygon points="121.2,214.1 123.2,210.6 127.3,210.6 129.4,214.1 127.3,217.6 123.2,217.6"/>
<polygon points="198.6,179.3 200.6,175.8 204.8,175.8 206.8,179.3 204.8,182.8 200.6,182.8"/>
<polygon points="121.7,210.6 123.8,207.1 127.8,207.1 129.9,210.6 127.8,214.1 123.8,214.1"/>
<polygon points="166.8,197.4 168.8,193.9 173.0,193.9 175.0,197.4 173.0,200.9 168.8,200.9"/>
<polygon points="161.9,183.9 163.9,180.4 168.1,180.4 170.1,183.9 168.1,187.4 163.9,187.4"/>
<polygon points="159.4,182.2 161.4,178.7 165.6,178.7 167.6,182.2 165.6,185.7 161.4,185.7"/>
<polygon points="166.0,161.9 168.0,158.4 172.2,158.4 174.2,161.9 172.2,165.4 168.0,165.4"/>
<polygon points="85.3,240.8 87.4,237.3 91.5,237.3 93.5,240.8 91.5,244.3 87.4,244.3"/>
<polygon points="184.4,209.8 186.4,206.3 190.6,206.3 192.6,209.8 190.6,213.3 186.4,213.3"/>
<polygon points="142.8,215.2 144.8,211.7 149.0,211.7 151.0,215.2 149.0,218.7 144.8,218.7"/>
<polygon points="131.5,198.6 133.5,195.1 137.7,195.1 139.7,198.6 137.7,202.1 133.5,202.1"/>
<polygon points="171.4,170.1 173.4,166.6 177.6,166.6 179.6,170.1 177.6,173.6 173.4,173.6"/>
<polygon points="176.7,196.3 178.8,192.8 182.9,192.8 184.9,196.3 182.9,199.8 178.8,199.8"/>
<polygon points="101.9,231.3 104.0,227.8 108.0,227.8 110.1,231.3 108.0,234.8 104.0,234.8"/>
<polygon points="108.3,213.4 110.4,209.9 114.5,209.9 116.5,213.4 114.5,216.9 110.4,216.9"/>
<polygon points="134.9,204.0 136.9,200.5 141.1,200.5 143.1,204.0 141.1,207.5 136.9,207.5"/>
<polygon points="143.7,212.4 145.8,208.9 149.9,208.9 151.9,212.4 149.9,215.9 145.8,215.9"/>
<polygon points="156.3,175.9 158.3,172.4 162.5,172.4 164.5,175.9 162.5,179.4 158.3,179.4"/>
<polygon points="193.7,175.1 195.8,171.6 199.9,171.6 201.9,175.1 199.9,178.6 195.8,178.6"/>
<polygon points="106.4,221.4 108.5,217.9 112.5,217.9 114.6,221.4 112.5,224.9 108.5,224.9"/>
<polygon points="157.3,184.9 159.3,181.4 163.5,181.4 165.5,184.9 163.5,188.4 159.3,188.4"/>
<polygon points="167.5,192.6 169.5,189.1 173.7,189.1 175.7,192.6 173.7,196.1 169.5,196.1"/>
<polygon points="178.0,205.9 180.0,202.4 184.2,202.4 186.2,205.9 184.2,209.4 180.0,209.4"/>
<polygon points="172.2,159.5 174.2,156.0 178.4,156.0 180.4,159.5 178.4,163.0 174.2,163.0"/>
<polygon points="157.7,173.1 159.8,169.6 163.9,169.6 165.9,173.1 163.9,176.6 159.8,176.6"/>
<polygon points="135.9,200.2 137.9,196.7 142.1,196.7 144.1,200.2 142.1,203.7 137.9,203.7"/>
<polygon points="89.2,230.5 91.2,227.0 95.3,227.0 97.4,230.5 95.3,234.0 91.2,234.0"/>
<polygon points="195.7,158.5 197.8,155.0 201.9,155.0 203.9,158.5 201.9,162.0 197.8,162.0"/>
<polygon points="111.2,227.7 113.2,224.2 117.3,224.2 119.4,227.7 117.3,231.2 113.2,231.2"/>
<polygon points="108.4,227.0 110.5,223.5 114.5,223.5 116.6,227.0 114.5,230.5 110.5,230.5"/>
<polygon points="163.2,177.7 165.2,174.2 169.4,174.2 171.4,177.7 169.4,181.2 165.2,181.2"/>
<polygon points="112.9,212.6 115.0,209.1 119.0,209.1 121.1,212.6 119.0,216.1 115.0,216.1"/>
<polygon points="184.3,203.7 186.3,200.2 190.5,200.2 192.5,203.7 190.5,207.2 186.3,207.2"/>
<polygon points="111.3,237.3 113.4,233.8 117.5,233.8 119.5,237.3 117.5,240.8 113.4,240.8"/>
<polygon points="139.5,208.2 141.5,204.7 145.7,204.7 147.7,208.2 145.7,211.7 141.5,211.7"/>
<polygon points="113.0,230.4 115.0,226.9 119.1,226.9 121.2,230.4 119.1,233.9 115.0,233.9"/>
<polygon points="149.1,218.1 151.1,214.6 155.2,214.6 157.3,218.1 155.2,221.6 151.1,221.6"/>
<polygon points="168.0,153.0 170.0,149.5 174.2,149.5 176.2,153.0 174.2,156.5 170.0,156.5"/>
<polygon points="100.5,202.6 102.5,199.1 106.6,199.1 108.7,202.6 106.6,206.1 102.5,206.1"/>
<polygon points="125.9,205.9 128.0,202.4 132.1,202.4 134.1,205.9 132.1,209.4 128.0,209.4"/>
<polygon points="160.9,210.9 162.9,207.4 167.1,207.4 169.1,210.9 167.1,214.4 162.9,214.4"/>
<polygon points="182.0,166.7 184.0,163.2 188.2,163.2 190.2,166.7 188.2,170.2 184.0,170.2"/>
<polygon points="156.5,206.1 158.5,202.6 162.7,202.6 164.7,206.1 162.7,209.6 158.5,209.6"/>
<polygon points="148.1,214.2 150.1,210.7 154.2,210.7 156.3,214.2 154.2,217.7 150.1,217.7"/>
<polygon points="202.0,161.4 204.0,157.9 208.2,157.9 210.2,161.4 208.2,164.9 204.0,164.9"/>
<polygon points="134.0,218.8 136.0,215.3 140.2,215.3 142.2,218.8 140.2,222.3 136.0,222.3"/>
<polygon points="144.2,204.2 146.2,200.7 150.4,200.7 152.4,204.2 150.4,207.7 146.2,207.7"/>
<polygon points="135.0,197.4 137.0,193.9 141.2,193.9 143.2,197.4 141.2,200.9 137.0,200.9"/>
<polygon points="121.0,227.2 123.0,223.7 127.1,223.7 129.2,227.2 127.1,230.7 123.0,230.7"/>
<polygon points="150.4,199.8 152.4,196.3 156.6,196.3 158.6,199.8 156.6,203.3 152.4,203.3"/>
<polygon points="171.1,185.1 173.1,181.6 177.2,181.6 179.3,185.1 177.2,188.6 173.1,188.6"/>
<polygon points="184.7,164.8 186.8,161.3 190.9,161.3 192.9,164.8 190.9,168.3 186.8,168.3"/>
<polygon points="134.1,215.9 136.1,212.4 140.2,212.4 142.3,215.9 140.2,219.4 136.1,219.4"/>
<polygon points="173.6,210.6 175.6,207.1 179.8,207.1 181.8,210.6 179.8,214.1 175.6,214.1"/>
<polygon points="124.2,212.2 126.3,208.7 130.4,208.7 132.4,212.2 130.4,215.7 126.3,215.7"/>
<polygon points="152.3,223.5 154.3,220.0 158.5,220.0 160.5,223.5 158.5,227.0 154.3,227.0"/>
<polygon points="166.2,153.8 168.2,150.3 172.4,150.3 174.4,153.8 172.4,157.3 168.2,157.3"/>
<polygon points="207.8,177.6 209.8,174.1 214.0,174.1 216.0,177.6 214.0,181.1 209.8,181.1"/>
<polygon points="203.6,184.8 205.6,181.3 209.8,181.3 211.8,184.8 209.8,188.3 205.6,188.3"/>
<polygon points="173.0,199.9 175.0,196.4 179.2,196.4 181.2,199.9 179.2,203.4 175.0,203.4"/>
<polygon points="227.8,162.7 229.8,159.2 234.0,159.2 236.0,162.7 234.0,166.2 229.8,166.2"/>
<polygon points="88.1,233.8 90.2,230.3 94.2,230.3 96.3,233.8 94.2,237.3 90.2,237.3"/>
<polygon points="185.7,166.6 187.8,163.1 191.9,163.1 193.9,166.6 191.9,170.1 187.8,170.1"/>
<polygon points="182.6,205.8 184.6,202.3 188.8,202.3 190.8,205.8 188.8,209.3 184.6,209.3"/>
<polygon points="159.5,168.8 161.5,165.3 165.7,165.3 167.7,168.8 165.7,172.3 161.5,172.3"/>
<polygon points="124.4,179.6 126.5,176.1 130.6,176.1 132.6,179.6 130.6,183.1 126.5,183.1"/>
<polygon points="199.8,154.6 201.8,151.1 206.0,151.1 208.0,154.6 206.0,158.1 201.8,158.1"/>
<polygon points="118.6,210.4 120.7,206.9 124.8,206.9 126.8,210.4 124.8,213.9 120.7,213.9"/>
<polygon points="113.5,185.2 115.5,181.7 119.6,181.7 121.7,185.2 119.6,188.7 115.5,188.7"/>
<polygon points="154.6,174.7 156.6,171.2 160.8,171.2 162.8,174.7 160.8,178.2 156.6,178.2"/>
<polygon points="178.2,172.8 180.2,169.3 184.4,169.3 186.4,172.8 184.4,176.3 180.2,176.3"/>
<polygon points="113.7,223.3 115.8,219.8 119.8,219.8 121.9,223.3 119.8,226.8 115.8,226.8"/>
<polygon points="169.7,192.2 171.8,188.7 175.9,188.7 177.9,192.2 175.9,195.7 171.8,195.7"/>
<polygon points="149.3,209.4 151.3,205.9 155.5,205.9 157.5,209.4 155.5,212.9 151.3,212.9"/>
<polygon points="182.3,149.1 184.3,145.6 188.5,145.6 190.5,149.1 188.5,152.6 184.3,152.6"/>
<polygon points="193.4,182.5 195.4,179.0 199.6,179.0 201.6,182.5 199.6,186.0 195.4,186.0"/>
<polygon points="177.2,162.5 179.2,159.0 183.4,159.0 185.4,162.5 183.4,166.0 179.2,166.0"/>
<polygon points="134.0,211.9 136.0,208.4 140.2,208.4 142.2,211.9 140.2,215.4 136.0,215.4"/>
<polygon points="204.2,187.3 206.2,183.8 210.4,183.8 212.4,187.3 210.4,190.8 206.2,190.8"/>
<polygon points="146.6,211.6 148.6,208.1 152.8,208.1 154.8,211.6 152.8,215.1 148.6,215.1"/>
<polygon points="154.1,165.5 156.1,162.0 160.2,162.0 162.3,165.5 160.2,169.0 156.1,169.0"/>
<polygon points="114.8,230.9 116.9,227.4 121.0,227.4 123.0,230.9 121.0,234.4 116.9,234.4"/>
<polygon points="120.4,200.0 122.5,196.5 126.5,196.5 128.6,200.0 126.5,203.5 122.5,203.5"/>
<polygon points="154.4,208.0 156.4,204.5 160.6,204.5 162.6,208.0 160.6,211.5 156.4,211.5"/>
<polygon points="184.1,182.0 186.1,178.5 190.2,178.5 192.3,182.0 190.2,185.5 186.1,185.5"/>
<polygon points="162.3,215.8 164.3,212.3 168.5,212.3 170.5,215.8 168.5,219.3 164.3,219.3"/>
<polygon points="108.5,202.5 110.5,199.0 114.6,199.0 116.7,202.5 114.6,206.0 110.5,206.0"/>
<polygon points="169.1,194.1 171.1,190.6 175.2,190.6 177.3,194.1 175.2,197.6 171.1,197.6"/>
<polygon points="144.4,222.2 146.4,218.7 150.6,218.7 152.6,222.2 150.6,225.7 146.4,225.7"/>
<polygon points="167.2,220.1 169.2,216.6 173.4,216.6 175.4,220.1 173.4,223.6 169.2,223.6"/>
<polygon points="134.6,208.3 136.6,204.8 140.8,204.8 142.8,208.3 140.8,211.8 136.6,211.8"/>
<polygon points="196.6,167.3 198.6,163.8 202.8,163.8 204.8,167.3 202.8,170.8 198.6,170.8"/>
<polygon points="88.2,241.8 90.2,238.3 94.3,238.3 96.4,241.8 94.3,245.3 90.2,245.3"/>
<polygon points="174.1,213.8 176.1,210.3 180.2,210.3 182.3,213.8 180.2,217.3 176.1,217.3"/>
<polygon points="173.6,188.0 175.6,184.5 179.8,184.5 181.8,188.0 179.8,191.5 175.6,191.5"/>
<polygon points="188.5,193.3 190.5,189.8 194.7,189.8 196.7,193.3 194.7,196.8 190.5,196.8"/>
<polygon points="188.4,198.6 190.4,195.1 194.6,195.1 196.6,198.6 194.6,202.1 190.4,202.1"/>
<polygon points="134.4,223.9 136.4,220.4 140.6,220.4 142.6,223.9 140.6,227.4 136.4,227.4"/>
<polygon points="192.8,151.1 194.8,147.6 199.0,147.6 201.0,151.1 199.0,154.6 194.8,154.6"/>
<polygon points="160.7,197.4 162.8,193.9 166.9,193.9 168.9,197.4 166.9,200.9 162.8,200.9"/>
<polygon points="171.9,176.9 173.9,173.4 178.1,173.4 180.1,176.9 178.1,180.4 173.9,180.4"/>
<polygon points="215.6,156.8 217.6,153.3 221.8,153.3 223.8,156.8 221.8,160.3 217.6,160.3"/>
<polygon points="177.1,190.2 179.1,186.7 183.2,186.7 185.3,190.2 183.2,193.7 179.1,193.7"/>
<polygon points="184.6,162.2 186.6,158.7 190.8,158.7 192.8,162.2 190.8,165.7 186.6,165.7"/>
<polygon points="189.5,179.9 191.5,176.4 195.7,176.4 197.7,179.9 195.7,183.4 191.5,183.4"/>
<polygon points="174.6,157.1 176.6,153.6 180.8,153.6 182.8,157.1 180.8,160.6 176.6,160.6"/>
<polygon points="214.3,173.9 216.3,170.4 220.5,170.4 222.5,173.9 220.5,177.4 216.3,177.4"/>
<polygon points="113.8,199.7 115.9,196.2 120.0,196.2 122.0,199.7 120.0,203.2 115.9,203.2"/>
<polygon points="173.6,174.2 175.6,170.7 179.8,170.7 181.8,174.2 179.8,177.7 175.6,177.7"/>
<polygon points="158.7,210.8 160.8,207.3 164.9,207.3 166.9,210.8 164.9,214.3 160.8,214.3"/>
<polygon points="103.2,198.5 105.2,195.0 109.3,195.0 111.4,198.5 109.3,202.0 105.2,202.0"/>
<polygon points="168.7,196.5 170.8,193.0 174.9,193.0 176.9,196.5 174.9,200.0 170.8,200.0"/>
<polygon points="155.0,194.9 157.0,191.4 161.2,191.4 163.2,194.9 161.2,198.4 157.0,198.4"/>
<polygon points="107.0,193.2 109.0,189.7 113.1,189.7 115.2,193.2 113.1,196.7 109.0,196.7"/>
<polygon points="146.4,185.1 148.4,181.6 152.6,181.6 154.6,185.1 152.6,188.6 148.4,188.6"/>
<polygon points="86.4,244.8 88.5,241.3 92.5,241.3 94.6,244.8 92.5,248.3 88.5,248.3"/>
<polygon points="91.6,237.1 93.7,233.6 97.8,233.6 99.8,237.1 97.8,240.6 93.7,240.6"/>
<polygon points="82.6,238.4 84.7,234.9 88.8,234.9 90.8,238.4 88.8,241.9 84.7,241.9"/>
<polygon points="146.6,206.7 148.6,203.2 152.8,203.2 154.8,206.7 152.8,210.2 148.6,210.2"/>
<polygon points="136.4,224.0 138.4,220.5 142.6,220.5 144.6,224.0 142.6,227.5 138.4,227.5"/>
<polygon points="207.3,175.2 209.3,171.7 213.5,171.7 215.5,175.2 213.5,178.7 209.3,178.7"/>
<polygon points="168.6,207.1 170.6,203.6 174.8,203.6 176.8,207.1 174.8,210.6 170.6,210.6"/>
<polygon points="183.2,174.4 185.2,170.9 189.4,170.9 191.4,174.4 189.4,177.9 185.2,177.9"/>
<polygon points="125.0,203.1 127.0,199.6 131.2,199.6 133.2,203.1 131.2,206.6 127.0,206.6"/>
<polygon points="164.3,208.4 166.3,204.9 170.5,204.9 172.5,208.4 170.5,211.9 166.3,211.9"/>
<polygon points="104.8,215.0 106.9,211.5 111.0,211.5 113.0,215.0 111.0,218.5 106.9,218.5"/>
<polygon points="146.1,217.8 148.1,214.3 152.2,214.3 154.3,217.8 152.2,221.3 148.1,221.3"/>
<polygon points="82.7,234.5 84.8,231.0 88.8,231.0 90.9,234.5 88.8,238.0 84.8,238.0"/>
<polygon points="188.5,187.5 190.5,184.0 194.7,184.0 196.7,187.5 194.7,191.0 190.5,191.0"/>
<polygon points="106.1,224.2 108.2,220.7 112.2,220.7 114.3,224.2 112.2,227.7 108.2,227.7"/>
<polygon points="177.9,182.6 179.9,179.1 184.1,179.1 186.1,182.6 184.1,186.1 179.9,186.1"/>
<polygon points="179.5,153.6 181.5,150.1 185.7,150.1 187.7,153.6 185.7,157.1 181.5,157.1"/>
<polygon points="99.8,233.3 101.9,229.8 106.0,229.8 108.0,233.3 106.0,236.8 101.9,236.8"/>
<polygon points="116.6,215.6 118.7,212.1 122.8,212.1 124.8,215.6 122.8,219.1 118.7,219.1"/>
<polygon points="228.8,169.4 230.8,165.9 235.0,165.9 237.0,169.4 235.0,172.9 230.8,172.9"/>
<polygon points="132.0,225.8 134.0,222.3 138.2,222.3 140.2,225.8 138.2,229.3 134.0,229.3"/>
<polygon points="131.5,180.4 133.5,176.9 137.7,176.9 139.7,180.4 137.7,183.9 133.5,183.9"/>
<polygon points="162.3,193.8 164.3,190.3 168.5,190.3 170.5,193.8 168.5,197.3 164.3,197.3"/>
<polygon points="189.5,157.7 191.5,154.2 195.7,154.2 197.7,157.7 195.7,161.2 191.5,161.2"/>
<polygon points="168.6,154.8 170.6,151.3 174.8,151.3 176.8,154.8 174.8,158.3 170.6,158.3"/>
<polygon points="136.8,220.5 138.8,217.0 143.0,217.0 145.0,220.5 143.0,224.0 138.8,224.0"/>
<polygon points="192.2,166.5 194.2,163.0 198.4,163.0 200.4,166.5 198.4,170.0 194.2,170.0"/>
<polygon points="85.5,228.9 87.5,225.4 91.6,225.4 93.7,228.9 91.6,232.4 87.5,232.4"/>
<polygon points="166.0,207.2 168.0,203.7 172.2,203.7 174.2,207.2 172.2,210.7 168.0,210.7"/>
<polygon points="188.8,170.6 190.8,167.1 195.0,167.1 197.0,170.6 195.0,174.1 190.8,174.1"/>
<polygon points="91.9,229.6 94.0,226.1 98.0,226.1 100.1,229.6 98.0,233.1 94.0,233.1"/>
<polygon points="203.1,191.1 205.1,187.6 209.2,187.6 211.3,191.1 209.2,194.6 205.1,194.6"/>
<polygon points="94.0,227.7 96.0,224.2 100.1,224.2 102.2,227.7 100.1,231.2 96.0,231.2"/>
<polygon points="178.5,188.1 180.5,184.6 184.7,184.6 186.7,188.1 184.7,191.6 180.5,191.6"/>
<polygon points="199.4,184.4 201.4,180.9 205.6,180.9 207.6,184.4 205.6,187.9 201.4,187.9"/>
<polygon points="125.9,216.3 128.0,212.8 132.1,212.8 134.1,216.3 132.1,219.8 128.0,219.8"/>
<polygon points="155.5,197.4 157.5,193.9 161.7,193.9 163.7,197.4 161.7,200.9 157.5,200.9"/>
<polygon points="194.6,170.0 196.6,166.5 200.8,166.5 202.8,170.0 200.8,173.5 196.6,173.5"/>
<polygon points="152.4,199.4 154.4,195.9 158.6,195.9 160.6,199.4 158.6,202.9 154.4,202.9"/>
<polygon points="167.3,213.6 169.3,210.1 173.5,210.1 175.5,213.6 173.5,217.1 169.3,217.1"/>
<polygon points="186.2,160.7 188.2,157.2 192.4,157.2 194.4,160.7 192.4,164.2 188.2,164.2"/>
<polygon points="187.1,179.5 189.1,176.0 193.2,176.0 195.3,179.5 193.2,183.0 189.1,183.0"/>
<polygon points="205.5,164.7 207.5,161.2 211.7,161.2 213.7,164.7 211.7,168.2 207.5,168.2"/>
<polygon points="131.5,205.2 133.5,201.7 137.7,201.7 139.7,205.2 137.7,208.7 133.5,208.7"/>
<polygon points="202.8,155.8 204.8,152.3 209.0,152.3 211.0,155.8 209.0,159.3 204.8,159.3"/>
<polygon points="132.9,192.5 134.9,189.0 139.1,189.0 141.1,192.5 139.1,196.0 134.9,196.0"/>
<polygon points="180.9,174.0 182.9,170.5 187.1,170.5 189.1,174.0 187.1,177.5 182.9,177.5"/>
<polygon points="115.7,227.1 117.8,223.6 121.8,223.6 123.9,227.1 121.8,230.6 117.8,230.6"/>
<polygon points="115.9,202.4 118.0,198.9 122.0,198.9 124.1,202.4 122.0,205.9 118.0,205.9"/>
<polygon points="80.6,237.8 82.7,234.3 86.8,234.3 88.8,237.8 86.8,241.3 82.7,241.3"/>
<polygon points="201.9,165.3 203.9,161.8 208.1,161.8 210.1,165.3 208.1,168.8 203.9,168.8"/>
<polygon points="192.0,185.2 194.0,181.7 198.2,181.7 200.2,185.2 198.2,188.7 194.0,188.7"/>
<polygon points="177.6,151.4 179.6,147.9 183.8,147.9 185.8,151.4 183.8,154.9 179.6,154.9"/>
<polygon points="186.3,174.6 188.3,171.1 192.5,171.1 194.5,174.6 192.5,178.1 188.3,178.1"/>
<polygon points="188.0,161.9 190.0,158.4 194.2,158.4 196.2,161.9 194.2,165.4 190.0,165.4"/>
<polygon points="76.3,225.5 78.4,222.0 82.5,222.0 84.5,225.5 82.5,229.0 78.4,229.0"/>
<polygon points="104.1,180.3 106.2,176.8 110.2,176.8 112.3,180.3 110.2,183.8 106.2,183.8"/>
<polygon points="112.8,177.4 114.9,173.9 119.0,173.9 121.0,177.4 119.0,180.9 114.9,180.9"/>
<polygon points="121.6,162.8 123.7,159.3 127.8,159.3 129.8,162.8 127.8,166.3 123.7,166.3"/>
<polygon points="127.4,165.7 129.4,162.2 133.6,162.2 135.6,165.7 133.6,169.2 129.4,169.2"/>
<polygon points="134.7,156.1 136.8,152.6 140.9,152.6 142.9,156.1 140.9,159.6 136.8,159.6"/>
<polygon points="142.6,154.9 144.6,151.4 148.8,151.4 150.8,154.9 148.8,158.4 144.6,158.4"/>
<polygon points="140.6,145.3 142.6,141.8 146.8,141.8 148.8,145.3 146.8,148.8 142.6,148.8"/>
<polygon points="147.9,143.8 149.9,140.3 154.1,140.3 156.1,143.8 154.1,147.3 149.9,147.3"/>
<polygon points="155.2,142.3 157.2,138.8 161.4,138.8 163.4,142.3 161.4,145.8 157.2,145.8"/>
<polygon points="163.3,128.6 165.3,125.1 169.5,125.1 171.5,128.6 169.5,132.1 165.3,132.1"/>
<polygon points="178.5,121.9 180.5,118.4 184.7,118.4 186.7,121.9 184.7,125.4 180.5,125.4"/>
<polygon points="183.5,121.9 185.5,118.4 189.7,118.4 191.7,121.9 189.7,125.4 185.5,125.4"/>
<polygon points="182.0,129.2 184.0,125.7 188.2,125.7 190.2,129.2 188.2,132.7 184.0,132.7"/>
<polygon points="182.0,133.6 184.0,130.1 188.2,130.1 190.2,133.6 188.2,137.1 184.0,137.1"/>
<polygon points="190.2,139.4 192.2,135.9 196.4,135.9 198.4,139.4 196.4,142.9 192.2,142.9"/>
<polygon points="207.7,140.9 209.8,137.4 213.9,137.4 215.9,140.9 213.9,144.4 209.8,144.4"/>
<polygon points="203.3,143.8 205.3,140.3 209.5,140.3 211.5,143.8 209.5,147.3 205.3,147.3"/>
<polygon points="219.4,145.3 221.4,141.8 225.6,141.8 227.6,145.3 225.6,148.8 221.4,148.8"/>
<polygon points="223.8,143.8 225.8,140.3 230.0,140.3 232.0,143.8 230.0,147.3 225.8,147.3"/>
<polygon points="228.2,140.9 230.2,137.4 234.4,137.4 236.4,140.9 234.4,144.4 230.2,144.4"/>
<polygon points="234.6,146.7 236.6,143.2 240.8,143.2 242.8,146.7 240.8,150.2 236.6,150.2"/>
<polygon points="241.9,140.9 243.9,137.4 248.1,137.4 250.1,140.9 248.1,144.4 243.9,144.4"/>
<polygon points="234.0,161.3 236.0,157.8 240.2,157.8 242.2,161.3 240.2,164.8 236.0,164.8"/>
<polygon points="240.4,162.2 242.4,158.7 246.6,158.7 248.6,162.2 246.6,165.7 242.4,165.7"/>
<polygon points="246.3,162.8 248.3,159.3 252.5,159.3 254.5,162.8 252.5,166.3 248.3,166.3"/>
<polygon points="223.8,171.5 225.8,168.0 230.0,168.0 232.0,171.5 230.0,175.0 225.8,175.0"/>
<polygon points="228.2,168.6 230.2,165.1 234.4,165.1 236.4,168.6 234.4,172.1 230.2,172.1"/>
<polygon points="212.1,190.5 214.1,187.0 218.2,187.0 220.3,190.5 218.2,194.0 214.1,194.0"/>
<polygon points="211.2,198.4 213.2,194.9 217.4,194.9 219.4,198.4 217.4,201.9 213.2,201.9"/>
<polygon points="201.9,202.8 203.9,199.3 208.1,199.3 210.1,202.8 208.1,206.3 203.9,206.3"/>
<polygon points="197.5,206.6 199.5,203.1 203.7,203.1 205.7,206.6 203.7,210.1 199.5,210.1"/>
<polygon points="196.0,212.4 198.0,208.9 202.2,208.9 204.2,212.4 202.2,215.9 198.0,215.9"/>
<polygon points="188.7,210.9 190.8,207.4 194.9,207.4 196.9,210.9 194.9,214.4 190.8,214.4"/>
<polygon points="175.6,215.3 177.6,211.8 181.8,211.8 183.8,215.3 181.8,218.8 177.6,218.8"/>
<polygon points="177.1,218.2 179.1,214.7 183.2,214.7 185.3,218.2 183.2,221.7 179.1,221.7"/>
<polygon points="163.9,226.1 165.9,222.6 170.1,222.6 172.1,226.1 170.1,229.6 165.9,229.6"/>
<polygon points="155.8,225.5 157.8,222.0 162.0,222.0 164.0,225.5 162.0,229.0 157.8,229.0"/>
<polygon points="225.1,53.7 227.1,50.2 231.2,50.2 233.3,53.7 231.2,57.2 227.1,57.2"/>
<polygon points="221.3,67.6 223.3,64.1 227.5,64.1 229.5,67.6 227.5,71.1 223.3,71.1"/>
<polygon points="224.5,70.8 226.5,67.3 230.7,67.3 232.7,70.8 230.7,74.3 226.5,74.3"/>
<polygon points="238.2,68.5 240.2,65.0 244.4,65.0 246.4,68.5 244.4,72.0 240.2,72.0"/>
<polygon points="249.6,67.2 251.6,63.7 255.8,63.7 257.8,67.2 255.8,70.7 251.6,70.7"/>
<polygon points="202.2,84.1 204.2,80.6 208.4,80.6 210.4,84.1 208.4,87.6 204.2,87.6"/>
<polygon points="206.5,88.5 208.5,85.0 212.7,85.0 214.7,88.5 212.7,92.0 208.5,92.0"/>
<polygon points="201.2,89.8 203.2,86.3 207.4,86.3 209.4,89.8 207.4,93.3 203.2,93.3"/>
<polygon points="196.1,100.8 198.1,97.3 202.2,97.3 204.3,100.8 202.2,104.3 198.1,104.3"/>
<polygon points="193.8,112.7 195.8,109.2 200.0,109.2 202.0,112.7 200.0,116.2 195.8,116.2"/>
<polygon points="204.1,110.8 206.1,107.3 210.2,107.3 212.3,110.8 210.2,114.3 206.1,114.3"/>
<polygon points="218.9,108.8 220.9,105.3 225.1,105.3 227.1,108.8 225.1,112.3 220.9,112.3"/>
<polygon points="216.4,111.6 218.4,108.1 222.6,108.1 224.6,111.6 222.6,115.1 218.4,115.1"/>
<polygon points="248.7,87.5 250.8,84.0 254.9,84.0 256.9,87.5 254.9,91.0 250.8,91.0"/>
<polygon points="245.0,97.0 247.0,93.5 251.2,93.5 253.2,97.0 251.2,100.5 247.0,100.5"/>
<polygon points="263.1,89.0 265.1,85.5 269.2,85.5 271.3,89.0 269.2,92.5 265.1,92.5"/>
<polygon points="278.1,84.7 280.1,81.2 284.2,81.2 286.3,84.7 284.2,88.2 280.1,88.2"/>
<polygon points="283.4,95.5 285.4,92.0 289.6,92.0 291.6,95.5 289.6,99.0 285.4,99.0"/>
<polygon points="291.0,101.7 293.1,98.2 297.2,98.2 299.2,101.7 297.2,105.2 293.1,105.2"/>
<polygon points="296.3,75.7 298.3,72.2 302.4,72.2 304.5,75.7 302.4,79.2 298.3,79.2"/>
<polygon points="295.5,83.3 297.6,79.8 301.7,79.8 303.7,83.3 301.7,86.8 297.6,86.8"/>
<polygon points="239.4,119.2 241.4,115.7 245.6,115.7 247.6,119.2 245.6,122.7 241.4,122.7"/>
<polygon points="244.5,123.6 246.5,120.1 250.7,120.1 252.7,123.6 250.7,127.1 246.5,127.1"/>
<polygon points="204.6,123.9 206.6,120.4 210.8,120.4 212.8,123.9 210.8,127.4 206.6,127.4"/>
<polygon points="216.0,125.5 218.0,122.0 222.2,122.0 224.2,125.5 222.2,129.0 218.0,129.0"/>
<polygon points="220.8,126.0 222.8,122.5 227.0,122.5 229.0,126.0 227.0,129.5 222.8,129.5"/>
<polygon points="272.4,119.8 274.4,116.3 278.6,116.3 280.6,119.8 278.6,123.3 274.4,123.3"/>
<polygon points="278.6,120.5 280.6,117.0 284.8,117.0 286.8,120.5 284.8,124.0 280.6,124.0"/>
<polygon points="183.7,122.6 185.8,119.1 189.9,119.1 191.9,122.6 189.9,126.1 185.8,126.1"/>
<polygon points="182.4,129.3 184.4,125.8 188.6,125.8 190.6,129.3 188.6,132.8 184.4,132.8"/>
<polygon points="266.3,134.0 268.3,130.5 272.4,130.5 274.5,134.0 272.4,137.5 268.3,137.5"/>
<polygon points="269.7,134.6 271.8,131.1 275.9,131.1 277.9,134.6 275.9,138.1 271.8,138.1"/>
<polygon points="266.3,135.1 268.3,131.6 272.4,131.6 274.5,135.1 272.4,138.6 268.3,138.6"/>
<polygon points="269.7,135.1 271.8,131.6 275.9,131.6 277.9,135.1 275.9,138.6 271.8,138.6"/>
<polygon points="241.6,140.8 243.6,137.3 247.8,137.3 249.8,140.8 247.8,144.3 243.6,144.3"/>
<polygon points="255.3,149.0 257.3,145.5 261.4,145.5 263.5,149.0 261.4,152.5 257.3,152.5"/>
<polygon points="227.4,139.5 229.4,136.0 233.6,136.0 235.6,139.5 233.6,143.0 229.4,143.0"/>
<polygon points="228.7,142.9 230.8,139.4 234.9,139.4 236.9,142.9 234.9,146.4 230.8,146.4"/>
<polygon points="235.9,148.0 237.9,144.5 242.1,144.5 244.1,148.0 242.1,151.5 237.9,151.5"/>
<polygon points="218.9,144.2 220.9,140.7 225.1,140.7 227.1,144.2 225.1,147.7 220.9,147.7"/>
<polygon points="224.2,145.2 226.2,141.7 230.4,141.7 232.4,145.2 230.4,148.7 226.2,148.7"/>
<polygon points="220.8,153.7 222.8,150.2 227.0,150.2 229.0,153.7 227.0,157.2 222.8,157.2"/>
<polygon points="204.6,142.3 206.6,138.8 210.8,138.8 212.8,142.3 210.8,145.8 206.6,145.8"/>
<polygon points="207.5,139.5 209.5,136.0 213.7,136.0 215.7,139.5 213.7,143.0 209.5,143.0"/>
<polygon points="190.0,140.8 192.0,137.3 196.2,137.3 198.2,140.8 196.2,144.3 192.0,144.3"/>
<polygon points="206.5,149.9 208.5,146.4 212.7,146.4 214.7,149.9 212.7,153.4 208.5,153.4"/>
<polygon points="191.3,149.9 193.3,146.4 197.5,146.4 199.5,149.9 197.5,153.4 193.3,153.4"/>
<polygon points="183.7,151.8 185.8,148.3 189.9,148.3 191.9,151.8 189.9,155.3 185.8,155.3"/>
<polygon points="229.9,157.5 231.9,154.0 236.1,154.0 238.1,157.5 236.1,161.0 231.9,161.0"/>
<polygon points="233.7,161.3 235.8,157.8 239.9,157.8 241.9,161.3 239.9,164.8 235.8,164.8"/>
<polygon points="241.3,161.3 243.3,157.8 247.5,157.8 249.5,161.3 247.5,164.8 243.3,164.8"/>
<polygon points="245.8,163.2 247.8,159.7 252.0,159.7 254.0,163.2 252.0,166.7 247.8,166.7"/>
<polygon points="224.5,162.3 226.5,158.8 230.7,158.8 232.7,162.3 230.7,165.8 226.5,165.8"/>
<polygon points="215.6,161.3 217.6,157.8 221.8,157.8 223.8,161.3 221.8,164.8 217.6,164.8"/>
<polygon points="209.4,161.3 211.4,157.8 215.6,157.8 217.6,161.3 215.6,164.8 211.4,164.8"/>
<polygon points="252.1,174.0 254.1,170.5 258.2,170.5 260.3,174.0 258.2,177.5 254.1,177.5"/>
<polygon points="267.8,175.9 269.8,172.4 273.9,172.4 276.0,175.9 273.9,179.4 269.8,179.4"/>
<polygon points="234.0,182.6 236.0,179.1 240.2,179.1 242.2,182.6 240.2,186.1 236.0,186.1"/>
<polygon points="235.9,192.1 237.9,188.6 242.1,188.6 244.1,192.1 242.1,195.6 237.9,195.6"/>
<polygon points="243.0,191.7 245.0,188.2 249.2,188.2 251.2,191.7 249.2,195.2 245.0,195.2"/>
<polygon points="239.7,198.7 241.8,195.2 245.9,195.2 247.9,198.7 245.9,202.2 241.8,202.2"/>
<polygon points="226.1,172.7 228.1,169.2 232.2,169.2 234.3,172.7 232.2,176.2 228.1,176.2"/>
<polygon points="229.3,169.9 231.3,166.4 235.5,166.4 237.5,169.9 235.5,173.4 231.3,173.4"/>
<polygon points="218.9,170.8 220.9,167.3 225.1,167.3 227.1,170.8 225.1,174.3 220.9,174.3"/>
<polygon points="221.7,176.5 223.8,173.0 227.9,173.0 229.9,176.5 227.9,180.0 223.8,180.0"/>
<polygon points="210.3,190.7 212.3,187.2 216.5,187.2 218.5,190.7 216.5,194.2 212.3,194.2"/>
<polygon points="210.7,198.3 212.8,194.8 216.9,194.8 218.9,198.3 216.9,201.8 212.8,201.8"/>
<polygon points="163.3,129.3 165.3,125.8 169.5,125.8 171.5,129.3 169.5,132.8 165.3,132.8"/>
<polygon points="179.0,122.0 181.0,118.5 185.2,118.5 187.2,122.0 185.2,125.5 181.0,125.5"/>
</g>
<rect x="57.5" y="4.2" width="255.8" height="255.8" fill="none" stroke="#000" stroke-width="1.25"/>
<path d="M57.50 260.00v3.8M57.50 4.20v-3.8M57.50 260.00h-3.8M313.30 260.00h3.8M70.29 260.00v2.1M70.29 4.20v-2.1M57.50 247.21h-2.1M313.30 247.21h2.1M83.08 260.00v2.1M83.08 4.20v-2.1M57.50 234.42h-2.1M313.30 234.42h2.1M95.87 260.00v2.1M95.87 4.20v-2.1M57.50 221.63h-2.1M313.30 221.63h2.1M108.66 260.00v2.1M108.66 4.20v-2.1M57.50 208.84h-2.1M313.30 208.84h2.1M121.45 260.00v3.8M121.45 4.20v-3.8M57.50 196.05h-3.8M313.30 196.05h3.8M134.24 260.00v2.1M134.24 4.20v-2.1M57.50 183.26h-2.1M313.30 183.26h2.1M147.03 260.00v2.1M147.03 4.20v-2.1M57.50 170.47h-2.1M313.30 170.47h2.1M159.82 260.00v2.1M159.82 4.20v-2.1M57.50 157.68h-2.1M313.30 157.68h2.1M172.61 260.00v2.1M172.61 4.20v-2.1M57.50 144.89h-2.1M313.30 144.89h2.1M185.40 260.00v3.8M185.40 4.20v-3.8M57.50 132.10h-3.8M313.30 132.10h3.8M198.19 260.00v2.1M198.19 4.20v-2.1M57.50 119.31h-2.1M313.30 119.31h2.1M210.98 260.00v2.1M210.98 4.20v-2.1M57.50 106.52h-2.1M313.30 106.52h2.1M223.77 260.00v2.1M223.77 4.20v-2.1M57.50 93.73h-2.1M313.30 93.73h2.1M236.56 260.00v2.1M236.56 4.20v-2.1M57.50 80.94h-2.1M313.30 80.94h2.1M249.35 260.00v3.8M249.35 4.20v-3.8M57.50 68.15h-3.8M313.30 68.15h3.8M262.14 260.00v2.1M262.14 4.20v-2.1M57.50 55.36h-2.1M313.30 55.36h2.1M274.93 260.00v2.1M274.93 4.20v-2.1M57.50 42.57h-2.1M313.30 42.57h2.1M287.72 260.00v2.1M287.72 4.20v-2.1M57.50 29.78h-2.1M313.30 29.78h2.1M300.51 260.00v2.1M300.51 4.20v-2.1M57.50 16.99h-2.1M313.30 16.99h2.1M313.30 260.00v3.8M313.30 4.20v-3.8M57.50 4.20h-3.8M313.30 4.20h3.8" stroke="#000" stroke-width="1.3" fill="none"/>
<text x="57.5" y="276.6" text-anchor="middle" class="t">0</text>
<text x="51.9" y="264.2" text-anchor="end" class="t">0</text>
<text x="121.5" y="276.6" text-anchor="middle" class="t">300</text>
<text x="51.9" y="200.2" text-anchor="end" class="t">300</text>
<text x="185.4" y="276.6" text-anchor="middle" class="t">600</text>
<text x="51.9" y="136.3" text-anchor="end" class="t">600</text>
<text x="249.3" y="276.6" text-anchor="middle" class="t">900</text>
<text x="51.9" y="72.4" text-anchor="end" class="t">900</text>
<text x="313.3" y="276.6" text-anchor="middle" class="t">1200</text>
<text x="51.9" y="8.4" text-anchor="end" class="t">1200</text>
<text x="185.4" y="307.2" text-anchor="middle" class="l">Experimental Nusselt number, (-)</text>
<text transform="translate(10.3 128.1) rotate(-90)" text-anchor="middle" class="l">Predicted Nusselt number, (-)</text>
<rect x="216.3" y="217.9" width="51.6" height="20.7" fill="#fff" stroke="#222" stroke-width="0.9"/>
<text x="242.1" y="232.8" text-anchor="middle" class="b">Yu et al.</text>
</g>
<g>
<g clip-path="url(#c1)">
<line x1="415.4" y1="260.0" x2="671.2" y2="4.2" stroke="#000" stroke-width="1.3"/>
<line x1="415.4" y1="260.0" x2="647.9" y2="4.2" stroke="#000" stroke-width="1.6" stroke-dasharray="5.1 3.8"/>
<line x1="415.4" y1="260.0" x2="671.2" y2="29.8" stroke="#000" stroke-width="1.6" stroke-dasharray="5.1 3.8"/>
</g>
<text transform="translate(600.9 40.3) rotate(-42)" text-anchor="middle" class="l">+ 10%</text>
<text transform="translate(655.9 65.7) rotate(-49)" text-anchor="middle" class="l">- 10%</text>
<g class="g">
<polygon points="576.7,126.5 578.8,123.0 582.8,123.0 584.9,126.5 582.8,130.0 578.8,130.0"/>
<polygon points="518.8,188.8 520.9,185.3 524.9,185.3 527.0,188.8 524.9,192.3 520.9,192.3"/>
<polygon points="554.8,132.8 556.9,129.3 560.9,129.3 563.0,132.8 560.9,136.3 556.9,136.3"/>
<polygon points="559.9,130.0 562.0,126.5 566.0,126.5 568.1,130.0 566.0,133.5 562.0,133.5"/>
<polygon points="530.8,128.3 532.9,124.8 536.9,124.8 539.0,128.3 536.9,131.8 532.9,131.8"/>
<polygon points="479.6,192.7 481.6,189.2 485.8,189.2 487.8,192.7 485.8,196.2 481.6,196.2"/>
<polygon points="485.5,153.1 487.6,149.6 491.7,149.6 493.7,153.1 491.7,156.6 487.6,156.6"/>
<polygon points="481.9,176.3 483.9,172.8 488.1,172.8 490.1,176.3 488.1,179.8 483.9,179.8"/>
<polygon points="544.9,118.9 547.0,115.4 551.0,115.4 553.1,118.9 551.0,122.4 547.0,122.4"/>
<polygon points="490.1,189.4 492.1,185.9 496.2,185.9 498.3,189.4 496.2,192.9 492.1,192.9"/>
<polygon points="462.6,213.4 464.6,209.9 468.8,209.9 470.8,213.4 468.8,216.9 464.6,216.9"/>
<polygon points="486.6,159.2 488.6,155.7 492.8,155.7 494.8,159.2 492.8,162.7 488.6,162.7"/>
<polygon points="515.7,216.1 517.8,212.6 521.8,212.6 523.9,216.1 521.8,219.6 517.8,219.6"/>
<polygon points="448.3,212.4 450.3,208.9 454.4,208.9 456.5,212.4 454.4,215.9 450.3,215.9"/>
<polygon points="436.7,239.1 438.8,235.6 442.9,235.6 444.9,239.1 442.9,242.6 438.8,242.6"/>
<polygon points="519.1,153.4 521.2,149.9 525.2,149.9 527.3,153.4 525.2,156.9 521.2,156.9"/>
<polygon points="504.6,168.2 506.6,164.7 510.8,164.7 512.8,168.2 510.8,171.7 506.6,171.7"/>
<polygon points="439.8,235.1 441.8,231.6 445.9,231.6 448.0,235.1 445.9,238.6 441.8,238.6"/>
<polygon points="566.5,128.9 568.6,125.4 572.6,125.4 574.7,128.9 572.6,132.4 568.6,132.4"/>
<polygon points="455.0,225.4 457.1,221.9 461.2,221.9 463.2,225.4 461.2,228.9 457.1,228.9"/>
<polygon points="478.5,172.5 480.6,169.0 484.7,169.0 486.7,172.5 484.7,176.0 480.6,176.0"/>
<polygon points="509.8,209.8 511.8,206.3 515.9,206.3 518.0,209.8 515.9,213.3 511.8,213.3"/>
<polygon points="508.4,150.5 510.4,147.0 514.5,147.0 516.6,150.5 514.5,154.0 510.4,154.0"/>
<polygon points="511.6,157.0 513.7,153.5 517.8,153.5 519.8,157.0 517.8,160.5 513.7,160.5"/>
<polygon points="489.3,217.5 491.3,214.0 495.4,214.0 497.5,217.5 495.4,221.0 491.3,221.0"/>
<polygon points="489.6,206.4 491.6,202.9 495.8,202.9 497.8,206.4 495.8,209.9 491.6,209.9"/>
<polygon points="476.3,176.9 478.3,173.4 482.4,173.4 484.5,176.9 482.4,180.4 478.3,180.4"/>
<polygon points="471.4,202.0 473.4,198.5 477.6,198.5 479.6,202.0 477.6,205.5 473.4,205.5"/>
<polygon points="505.7,221.6 507.8,218.1 511.9,218.1 513.9,221.6 511.9,225.1 507.8,225.1"/>
<polygon points="487.1,198.3 489.1,194.8 493.2,194.8 495.3,198.3 493.2,201.8 489.1,201.8"/>
<polygon points="487.5,225.2 489.6,221.7 493.7,221.7 495.7,225.2 493.7,228.7 489.6,228.7"/>
<polygon points="514.7,182.8 516.8,179.3 520.8,179.3 522.9,182.8 520.8,186.3 516.8,186.3"/>
<polygon points="457.7,224.3 459.8,220.8 463.9,220.8 465.9,224.3 463.9,227.8 459.8,227.8"/>
<polygon points="549.0,134.4 551.1,130.9 555.1,130.9 557.2,134.4 555.1,137.9 551.1,137.9"/>
<polygon points="538.6,168.1 540.7,164.6 544.8,164.6 546.8,168.1 544.8,171.6 540.7,171.6"/>
<polygon points="502.2,199.1 504.2,195.6 508.4,195.6 510.4,199.1 508.4,202.6 504.2,202.6"/>
<polygon points="466.3,203.9 468.3,200.4 472.4,200.4 474.5,203.9 472.4,207.4 468.3,207.4"/>
<polygon points="506.1,162.6 508.1,159.1 512.2,159.1 514.3,162.6 512.2,166.1 508.1,166.1"/>
<polygon points="469.3,233.3 471.3,229.8 475.4,229.8 477.5,233.3 475.4,236.8 471.3,236.8"/>
<polygon points="475.9,166.6 477.9,163.1 482.1,163.1 484.1,166.6 482.1,170.1 477.9,170.1"/>
<polygon points="449.4,223.6 451.4,220.1 455.6,220.1 457.6,223.6 455.6,227.1 451.4,227.1"/>
<polygon points="530.1,124.0 532.2,120.5 536.2,120.5 538.3,124.0 536.2,127.5 532.2,127.5"/>
<polygon points="519.1,157.1 521.2,153.6 525.2,153.6 527.3,157.1 525.2,160.6 521.2,160.6"/>
<polygon points="527.3,187.4 529.4,183.9 533.4,183.9 535.5,187.4 533.4,190.9 529.4,190.9"/>
<polygon points="529.3,158.7 531.4,155.2 535.4,155.2 537.5,158.7 535.4,162.2 531.4,162.2"/>
<polygon points="491.6,169.6 493.6,166.1 497.8,166.1 499.8,169.6 497.8,173.1 493.6,173.1"/>
<polygon points="527.3,146.3 529.4,142.8 533.4,142.8 535.5,146.3 533.4,149.8 529.4,149.8"/>
<polygon points="498.1,154.3 500.1,150.8 504.2,150.8 506.3,154.3 504.2,157.8 500.1,157.8"/>
<polygon points="502.6,150.8 504.6,147.3 508.8,147.3 510.8,150.8 508.8,154.3 504.6,154.3"/>
<polygon points="557.4,144.4 559.5,140.9 563.5,140.9 565.6,144.4 563.5,147.9 559.5,147.9"/>
<polygon points="529.2,175.4 531.2,171.9 535.3,171.9 537.4,175.4 535.3,178.9 531.2,178.9"/>
<polygon points="551.2,127.2 553.2,123.7 557.3,123.7 559.4,127.2 557.3,130.7 553.2,130.7"/>
<polygon points="553.9,151.9 556.0,148.4 560.0,148.4 562.1,151.9 560.0,155.4 556.0,155.4"/>
<polygon points="478.9,182.8 480.9,179.3 485.1,179.3 487.1,182.8 485.1,186.3 480.9,186.3"/>
<polygon points="506.0,160.0 508.1,156.5 512.1,156.5 514.2,160.0 512.1,163.5 508.1,163.5"/>
<polygon points="500.0,189.0 502.1,185.5 506.2,185.5 508.2,189.0 506.2,192.5 502.1,192.5"/>
<polygon points="493.2,164.2 495.2,160.7 499.4,160.7 501.4,164.2 499.4,167.7 495.2,167.7"/>
<polygon points="568.7,137.8 570.8,134.3 574.8,134.3 576.9,137.8 574.8,141.3 570.8,141.3"/>
<polygon points="478.8,223.4 480.8,219.9 484.9,219.9 487.0,223.4 484.9,226.9 480.8,226.9"/>
<polygon points="441.5,224.3 443.6,220.8 447.7,220.8 449.7,224.3 447.7,227.8 443.6,227.8"/>
<polygon points="543.3,169.7 545.4,166.2 549.4,166.2 551.5,169.7 549.4,173.2 545.4,173.2"/>
<polygon points="477.2,216.8 479.2,213.3 483.4,213.3 485.4,216.8 483.4,220.3 479.2,220.3"/>
<polygon points="578.2,130.5 580.2,127.0 584.3,127.0 586.4,130.5 584.3,134.0 580.2,134.0"/>
<polygon points="508.3,185.4 510.3,181.9 514.4,181.9 516.5,185.4 514.4,188.9 510.3,188.9"/>
<polygon points="562.2,120.5 564.2,117.0 568.3,117.0 570.4,120.5 568.3,124.0 564.2,124.0"/>
<polygon points="468.0,222.0 470.1,218.5 474.2,218.5 476.2,222.0 474.2,225.5 470.1,225.5"/>
<polygon points="567.1,140.8 569.2,137.3 573.2,137.3 575.3,140.8 573.2,144.3 569.2,144.3"/>
<polygon points="546.1,129.4 548.2,125.9 552.2,125.9 554.3,129.4 552.2,132.9 548.2,132.9"/>
<polygon points="573.0,129.4 575.1,125.9 579.1,125.9 581.2,129.4 579.1,132.9 575.1,132.9"/>
<polygon points="500.7,153.7 502.8,150.2 506.9,150.2 508.9,153.7 506.9,157.2 502.8,157.2"/>
<polygon points="528.0,177.4 530.1,173.9 534.1,173.9 536.2,177.4 534.1,180.9 530.1,180.9"/>
<polygon points="473.4,185.8 475.4,182.3 479.6,182.3 481.6,185.8 479.6,189.3 475.4,189.3"/>
<polygon points="472.0,212.7 474.1,209.2 478.2,209.2 480.2,212.7 478.2,216.2 474.1,216.2"/>
<polygon points="527.0,143.5 529.1,140.0 533.1,140.0 535.2,143.5 533.1,147.0 529.1,147.0"/>
<polygon points="483.1,218.9 485.1,215.4 489.2,215.4 491.3,218.9 489.2,222.4 485.1,222.4"/>
<polygon points="563.7,130.1 565.8,126.6 569.8,126.6 571.9,130.1 569.8,133.6 565.8,133.6"/>
<polygon points="532.0,159.1 534.1,155.6 538.1,155.6 540.2,159.1 538.1,162.6 534.1,162.6"/>
<polygon points="550.6,164.7 552.7,161.2 556.8,161.2 558.8,164.7 556.8,168.2 552.7,168.2"/>
<polygon points="531.1,169.2 533.2,165.7 537.2,165.7 539.3,169.2 537.2,172.7 533.2,172.7"/>
<polygon points="573.3,131.8 575.4,128.3 579.4,128.3 581.5,131.8 579.4,135.3 575.4,135.3"/>
<polygon points="436.0,236.2 438.1,232.7 442.2,232.7 444.2,236.2 442.2,239.7 438.1,239.7"/>
<polygon points="477.9,202.4 479.9,198.9 484.1,198.9 486.1,202.4 484.1,205.9 479.9,205.9"/>
<polygon points="535.4,169.4 537.5,165.9 541.5,165.9 543.6,169.4 541.5,172.9 537.5,172.9"/>
<polygon points="514.8,158.5 516.9,155.0 520.9,155.0 523.0,158.5 520.9,162.0 516.9,162.0"/>
<polygon points="582.3,118.5 584.4,115.0 588.4,115.0 590.5,118.5 588.4,122.0 584.4,122.0"/>
<polygon points="436.9,242.6 438.9,239.1 443.1,239.1 445.1,242.6 443.1,246.1 438.9,246.1"/>
<polygon points="495.9,183.0 497.9,179.5 502.1,179.5 504.1,183.0 502.1,186.5 497.9,186.5"/>
<polygon points="569.5,140.2 571.6,136.7 575.6,136.7 577.7,140.2 575.6,143.7 571.6,143.7"/>
<polygon points="509.6,188.5 511.7,185.0 515.8,185.0 517.8,188.5 515.8,192.0 511.7,192.0"/>
<polygon points="491.8,195.7 493.8,192.2 497.9,192.2 500.0,195.7 497.9,199.2 493.8,199.2"/>
<polygon points="480.6,171.9 482.6,168.4 486.8,168.4 488.8,171.9 486.8,175.4 482.6,175.4"/>
<polygon points="564.6,141.5 566.7,138.0 570.8,138.0 572.8,141.5 570.8,145.0 566.7,145.0"/>
<polygon points="563.5,153.5 565.6,150.0 569.6,150.0 571.7,153.5 569.6,157.0 565.6,157.0"/>
<polygon points="502.4,221.6 504.4,218.1 508.6,218.1 510.6,221.6 508.6,225.1 504.4,225.1"/>
<polygon points="474.1,221.0 476.1,217.5 480.2,217.5 482.3,221.0 480.2,224.5 476.1,224.5"/>
<polygon points="529.9,142.4 532.0,138.9 536.0,138.9 538.1,142.4 536.0,145.9 532.0,145.9"/>
<polygon points="548.5,124.1 550.6,120.6 554.6,120.6 556.7,124.1 554.6,127.6 550.6,127.6"/>
<polygon points="545.7,171.5 547.8,168.0 551.8,168.0 553.9,171.5 551.8,175.0 547.8,175.0"/>
<polygon points="501.1,170.9 503.1,167.4 507.2,167.4 509.3,170.9 507.2,174.4 503.1,174.4"/>
<polygon points="439.3,243.4 441.3,239.9 445.4,239.9 447.5,243.4 445.4,246.9 441.3,246.9"/>
<polygon points="521.9,159.5 524.0,156.0 528.0,156.0 530.1,159.5 528.0,163.0 524.0,163.0"/>
<polygon points="552.4,143.9 554.5,140.4 558.5,140.4 560.6,143.9 558.5,147.4 554.5,147.4"/>
<polygon points="576.5,138.1 578.6,134.6 582.6,134.6 584.7,138.1 582.6,141.6 578.6,141.6"/>
<polygon points="559.8,155.0 561.9,151.5 565.9,151.5 568.0,155.0 565.9,158.5 561.9,158.5"/>
<polygon points="513.7,190.5 515.8,187.0 519.8,187.0 521.9,190.5 519.8,194.0 515.8,194.0"/>
<polygon points="481.3,163.0 483.3,159.5 487.4,159.5 489.5,163.0 487.4,166.5 483.3,166.5"/>
<polygon points="507.9,206.3 509.9,202.8 514.0,202.8 516.1,206.3 514.0,209.8 509.9,209.8"/>
<polygon points="540.8,181.8 542.9,178.3 546.9,178.3 549.0,181.8 546.9,185.3 542.9,185.3"/>
<polygon points="546.5,152.7 548.6,149.2 552.6,149.2 554.7,152.7 552.6,156.2 548.6,156.2"/>
<polygon points="546.7,120.9 548.8,117.4 552.8,117.4 554.9,120.9 552.8,124.4 548.8,124.4"/>
<polygon points="546.6,161.8 548.7,158.3 552.8,158.3 554.8,161.8 552.8,165.3 548.7,165.3"/>
<polygon points="574.4,140.0 576.5,136.5 580.5,136.5 582.6,140.0 580.5,143.5 576.5,143.5"/>
<polygon points="554.9,141.6 557.0,138.1 561.0,138.1 563.1,141.6 561.0,145.1 557.0,145.1"/>
<polygon points="548.7,167.6 550.8,164.1 554.8,164.1 556.9,167.6 554.8,171.1 550.8,171.1"/>
<polygon points="499.7,182.7 501.8,179.2 505.9,179.2 507.9,182.7 505.9,186.2 501.8,186.2"/>
<polygon points="476.3,193.0 478.3,189.5 482.4,189.5 484.5,193.0 482.4,196.5 478.3,196.5"/>
<polygon points="482.4,226.2 484.4,222.7 488.6,222.7 490.6,226.2 488.6,229.7 484.4,229.7"/>
<polygon points="467.9,205.4 469.9,201.9 474.1,201.9 476.1,205.4 474.1,208.9 469.9,208.9"/>
<polygon points="491.4,173.2 493.4,169.7 497.6,169.7 499.6,173.2 497.6,176.7 493.4,176.7"/>
<polygon points="518.8,161.9 520.9,158.4 524.9,158.4 527.0,161.9 524.9,165.4 520.9,165.4"/>
<polygon points="491.4,203.6 493.4,200.1 497.6,200.1 499.6,203.6 497.6,207.1 493.4,207.1"/>
<polygon points="583.8,121.0 585.9,117.5 589.9,117.5 592.0,121.0 589.9,124.5 585.9,124.5"/>
<polygon points="508.4,159.1 510.4,155.6 514.5,155.6 516.6,159.1 514.5,162.6 510.4,162.6"/>
<polygon points="511.5,205.4 513.6,201.9 517.6,201.9 519.7,205.4 517.6,208.9 513.6,208.9"/>
<polygon points="469.3,201.3 471.3,197.8 475.4,197.8 477.5,201.3 475.4,204.8 471.3,204.8"/>
<polygon points="562.1,111.9 564.2,108.4 568.2,108.4 570.3,111.9 568.2,115.4 564.2,115.4"/>
<polygon points="554.8,160.0 556.9,156.5 560.9,156.5 563.0,160.0 560.9,163.5 556.9,163.5"/>
<polygon points="502.5,175.0 504.6,171.5 508.7,171.5 510.7,175.0 508.7,178.5 504.6,178.5"/>
<polygon points="494.4,216.4 496.4,212.9 500.6,212.9 502.6,216.4 500.6,219.9 496.4,219.9"/>
<polygon points="501.2,191.4 503.2,187.9 507.4,187.9 509.4,191.4 507.4,194.9 503.2,194.9"/>
<polygon points="454.8,216.8 456.8,213.3 460.9,213.3 463.0,216.8 460.9,220.3 456.8,220.3"/>
<polygon points="538.7,127.9 540.8,124.4 544.8,124.4 546.9,127.9 544.8,131.4 540.8,131.4"/>
<polygon points="527.8,129.6 529.9,126.1 533.9,126.1 536.0,129.6 533.9,133.1 529.9,133.1"/>
<polygon points="469.1,235.6 471.1,232.1 475.2,232.1 477.3,235.6 475.2,239.1 471.1,239.1"/>
<polygon points="491.2,216.0 493.2,212.5 497.4,212.5 499.4,216.0 497.4,219.5 493.2,219.5"/>
<polygon points="535.0,161.9 537.1,158.4 541.1,158.4 543.2,161.9 541.1,165.4 537.1,165.4"/>
<polygon points="490.5,175.8 492.6,172.3 496.7,172.3 498.7,175.8 496.7,179.3 492.6,179.3"/>
<polygon points="549.2,129.3 551.2,125.8 555.3,125.8 557.4,129.3 555.3,132.8 551.2,132.8"/>
<polygon points="498.6,179.4 500.6,175.9 504.8,175.9 506.8,179.4 504.8,182.9 500.6,182.9"/>
<polygon points="490.8,182.9 492.8,179.4 496.9,179.4 499.0,182.9 496.9,186.4 492.8,186.4"/>
<polygon points="581.7,121.7 583.8,118.2 587.8,118.2 589.9,121.7 587.8,125.2 583.8,125.2"/>
<polygon points="503.4,210.7 505.4,207.2 509.6,207.2 511.6,210.7 509.6,214.2 505.4,214.2"/>
<polygon points="516.4,163.8 518.5,160.3 522.5,160.3 524.6,163.8 522.5,167.3 518.5,167.3"/>
<polygon points="550.8,146.6 552.9,143.1 556.9,143.1 559.0,146.6 556.9,150.1 552.9,150.1"/>
<polygon points="576.1,135.1 578.2,131.6 582.2,131.6 584.3,135.1 582.2,138.6 578.2,138.6"/>
<polygon points="571.9,116.6 574.0,113.1 578.0,113.1 580.1,116.6 578.0,120.1 574.0,120.1"/>
<polygon points="584.4,126.2 586.5,122.7 590.5,122.7 592.6,126.2 590.5,129.7 586.5,129.7"/>
<polygon points="505.3,198.9 507.3,195.4 511.4,195.4 513.5,198.9 511.4,202.4 507.3,202.4"/>
<polygon points="553.0,146.2 555.1,142.7 559.1,142.7 561.2,146.2 559.1,149.7 555.1,149.7"/>
<polygon points="499.6,195.2 501.6,191.7 505.8,191.7 507.8,195.2 505.8,198.7 501.6,198.7"/>
<polygon points="536.1,134.8 538.2,131.3 542.2,131.3 544.3,134.8 542.2,138.3 538.2,138.3"/>
<polygon points="542.1,171.7 544.2,168.2 548.2,168.2 550.3,171.7 548.2,175.2 544.2,175.2"/>
<polygon points="510.7,183.7 512.8,180.2 516.8,180.2 518.9,183.7 516.8,187.2 512.8,187.2"/>
<polygon points="555.4,156.7 557.5,153.2 561.5,153.2 563.6,156.7 561.5,160.2 557.5,160.2"/>
<polygon points="548.0,146.4 550.1,142.9 554.1,142.9 556.2,146.4 554.1,149.9 550.1,149.9"/>
<polygon points="571.6,119.7 573.7,116.2 577.8,116.2 579.8,119.7 577.8,123.2 573.7,123.2"/>
<polygon points="522.3,150.4 524.4,146.9 528.4,146.9 530.5,150.4 528.4,153.9 524.4,153.9"/>
<polygon points="555.3,126.7 557.4,123.2 561.4,123.2 563.5,126.7 561.4,130.2 557.4,130.2"/>
<polygon points="523.7,178.8 525.8,175.3 529.8,175.3 531.9,178.8 529.8,182.3 525.8,182.3"/>
<polygon points="476.8,211.8 478.8,208.3 482.9,208.3 485.0,211.8 482.9,215.3 478.8,215.3"/>
<polygon points="472.3,174.8 474.3,171.3 478.4,171.3 480.5,174.8 478.4,178.3 474.3,178.3"/>
<polygon points="457.2,205.7 459.2,202.2 463.4,202.2 465.4,205.7 463.4,209.2 459.2,209.2"/>
<polygon points="450.6,214.5 452.6,211.0 456.8,211.0 458.8,214.5 456.8,218.0 452.6,218.0"/>
<polygon points="485.3,191.2 487.3,187.7 491.4,187.7 493.5,191.2 491.4,194.7 487.3,194.7"/>
<polygon points="534.3,177.3 536.4,173.8 540.4,173.8 542.5,177.3 540.4,180.8 536.4,180.8"/>
<polygon points="498.8,167.3 500.8,163.8 504.9,163.8 507.0,167.3 504.9,170.8 500.8,170.8"/>
<polygon points="588.9,128.5 591.0,125.0 595.0,125.0 597.1,128.5 595.0,132.0 591.0,132.0"/>
<polygon points="548.7,111.3 550.8,107.8 554.8,107.8 556.9,111.3 554.8,114.8 550.8,114.8"/>
<polygon points="540.2,157.1 542.2,153.6 546.3,153.6 548.4,157.1 546.3,160.6 542.2,160.6"/>
<polygon points="559.7,132.7 561.8,129.2 565.8,129.2 567.9,132.7 565.8,136.2 561.8,136.2"/>
<polygon points="566.3,117.0 568.4,113.5 572.4,113.5 574.5,117.0 572.4,120.5 568.4,120.5"/>
<polygon points="517.5,175.9 519.6,172.4 523.6,172.4 525.7,175.9 523.6,179.4 519.6,179.4"/>
<polygon points="535.2,142.2 537.2,138.7 541.3,138.7 543.4,142.2 541.3,145.7 537.2,145.7"/>
<polygon points="549.8,161.6 551.9,158.1 555.9,158.1 558.0,161.6 555.9,165.1 551.9,165.1"/>
<polygon points="502.8,204.0 504.8,200.5 508.9,200.5 511.0,204.0 508.9,207.5 504.8,207.5"/>
<polygon points="566.9,131.1 569.0,127.6 573.0,127.6 575.1,131.1 573.0,134.6 569.0,134.6"/>
<polygon points="505.0,170.5 507.1,167.0 511.2,167.0 513.2,170.5 511.2,174.0 507.1,174.0"/>
<polygon points="434.1,230.8 436.1,227.3 440.2,227.3 442.3,230.8 440.2,234.3 436.1,234.3"/>
<polygon points="479.4,209.7 481.4,206.2 485.6,206.2 487.6,209.7 485.6,213.2 481.4,213.2"/>
<polygon points="542.4,140.5 544.5,137.0 548.5,137.0 550.6,140.5 548.5,144.0 544.5,144.0"/>
<polygon points="496.0,172.2 498.1,168.7 502.2,168.7 504.2,172.2 502.2,175.7 498.1,175.7"/>
<polygon points="504.6,215.0 506.6,211.5 510.8,211.5 512.8,215.0 510.8,218.5 506.6,218.5"/>
<polygon points="565.8,155.3 567.9,151.8 571.9,151.8 574.0,155.3 571.9,158.8 567.9,158.8"/>
<polygon points="517.7,134.3 519.8,130.8 523.8,130.8 525.9,134.3 523.8,137.8 519.8,137.8"/>
<polygon points="466.4,201.1 468.4,197.6 472.6,197.6 474.6,201.1 472.6,204.6 468.4,204.6"/>
<polygon points="556.9,153.0 559.0,149.5 563.0,149.5 565.1,153.0 563.0,156.5 559.0,156.5"/>
<polygon points="513.9,174.7 516.0,171.2 520.0,171.2 522.1,174.7 520.0,178.2 516.0,178.2"/>
<polygon points="475.8,172.0 477.8,168.5 481.9,168.5 484.0,172.0 481.9,175.5 477.8,175.5"/>
<polygon points="446.7,227.8 448.8,224.3 452.9,224.3 454.9,227.8 452.9,231.3 448.8,231.3"/>
<polygon points="483.9,204.0 485.9,200.5 490.1,200.5 492.1,204.0 490.1,207.5 485.9,207.5"/>
<polygon points="486.9,179.7 488.9,176.2 493.1,176.2 495.1,179.7 493.1,183.2 488.9,183.2"/>
<polygon points="530.4,166.0 532.5,162.5 536.5,162.5 538.6,166.0 536.5,169.5 532.5,169.5"/>
<polygon points="549.6,116.8 551.7,113.3 555.8,113.3 557.8,116.8 555.8,120.3 551.7,120.3"/>
<polygon points="577.4,120.3 579.5,116.8 583.5,116.8 585.6,120.3 583.5,123.8 579.5,123.8"/>
<polygon points="476.9,200.0 478.9,196.5 483.1,196.5 485.1,200.0 483.1,203.5 478.9,203.5"/>
<polygon points="543.1,180.2 545.2,176.7 549.2,176.7 551.3,180.2 549.2,183.7 545.2,183.7"/>
<polygon points="482.5,195.7 484.6,192.2 488.7,192.2 490.7,195.7 488.7,199.2 484.6,199.2"/>
<polygon points="448.8,230.9 450.8,227.4 454.9,227.4 457.0,230.9 454.9,234.4 450.8,234.4"/>
<polygon points="472.1,194.9 474.1,191.4 478.2,191.4 480.3,194.9 478.2,198.4 474.1,198.4"/>
<polygon points="501.6,194.2 503.6,190.7 507.8,190.7 509.8,194.2 507.8,197.7 503.6,197.7"/>
<polygon points="537.5,144.1 539.6,140.6 543.6,140.6 545.7,144.1 543.6,147.6 539.6,147.6"/>
<polygon points="511.6,189.7 513.7,186.2 517.8,186.2 519.8,189.7 517.8,193.2 513.7,193.2"/>
<polygon points="485.6,193.9 487.6,190.4 491.8,190.4 493.8,193.9 491.8,197.4 487.6,197.4"/>
<polygon points="457.1,237.5 459.1,234.0 463.2,234.0 465.3,237.5 463.2,241.0 459.1,241.0"/>
<polygon points="475.1,182.3 477.1,178.8 481.2,178.8 483.3,182.3 481.2,185.8 477.1,185.8"/>
<polygon points="547.3,177.6 549.4,174.1 553.4,174.1 555.5,177.6 553.4,181.1 549.4,181.1"/>
<polygon points="492.9,188.7 494.9,185.2 499.1,185.2 501.1,188.7 499.1,192.2 494.9,192.2"/>
<polygon points="526.7,154.8 528.8,151.3 532.8,151.3 534.9,154.8 532.8,158.3 528.8,158.3"/>
<polygon points="558.8,151.1 560.9,147.6 564.9,147.6 567.0,151.1 564.9,154.6 560.9,154.6"/>
<polygon points="464.2,235.8 466.2,232.3 470.4,232.3 472.4,235.8 470.4,239.3 466.2,239.3"/>
<polygon points="446.2,211.5 448.2,208.0 452.4,208.0 454.4,211.5 452.4,215.0 448.2,215.0"/>
<polygon points="479.7,186.9 481.8,183.4 485.9,183.4 487.9,186.9 485.9,190.4 481.8,190.4"/>
<polygon points="507.0,192.5 509.1,189.0 513.1,189.0 515.2,192.5 513.1,196.0 509.1,196.0"/>
<polygon points="503.0,186.9 505.1,183.4 509.2,183.4 511.2,186.9 509.2,190.4 505.1,190.4"/>
<polygon points="511.5,151.0 513.6,147.5 517.6,147.5 519.7,151.0 517.6,154.5 513.6,154.5"/>
<polygon points="487.7,205.2 489.8,201.7 493.9,201.7 495.9,205.2 493.9,208.7 489.8,208.7"/>
<polygon points="512.6,200.7 514.7,197.2 518.8,197.2 520.8,200.7 518.8,204.2 514.7,204.2"/>
<polygon points="468.1,194.2 470.1,190.7 474.2,190.7 476.3,194.2 474.2,197.7 470.1,197.7"/>
<polygon points="536.3,184.2 538.4,180.7 542.4,180.7 544.5,184.2 542.4,187.7 538.4,187.7"/>
<polygon points="564.9,119.9 567.0,116.4 571.0,116.4 573.1,119.9 571.0,123.4 567.0,123.4"/>
<polygon points="484.8,215.3 486.8,211.8 490.9,211.8 493.0,215.3 490.9,218.8 486.8,218.8"/>
<polygon points="516.9,201.4 519.0,197.9 523.0,197.9 525.1,201.4 523.0,204.9 519.0,204.9"/>
<polygon points="510.7,177.9 512.8,174.4 516.8,174.4 518.9,177.9 516.8,181.4 512.8,181.4"/>
<polygon points="438.7,240.9 440.8,237.4 444.9,237.4 446.9,240.9 444.9,244.4 440.8,244.4"/>
<polygon points="482.4,178.7 484.4,175.2 488.6,175.2 490.6,178.7 488.6,182.2 484.4,182.2"/>
<polygon points="479.1,221.0 481.1,217.5 485.2,217.5 487.3,221.0 485.2,224.5 481.1,224.5"/>
<polygon points="478.3,196.2 480.3,192.7 484.4,192.7 486.5,196.2 484.4,199.7 480.3,199.7"/>
<polygon points="515.6,147.6 517.7,144.1 521.8,144.1 523.8,147.6 521.8,151.1 517.7,151.1"/>
<polygon points="480.6,216.3 482.6,212.8 486.8,212.8 488.8,216.3 486.8,219.8 482.6,219.8"/>
<polygon points="478.0,207.6 480.1,204.1 484.2,204.1 486.2,207.6 484.2,211.1 480.1,211.1"/>
<polygon points="438.2,231.4 440.2,227.9 444.4,227.9 446.4,231.4 444.4,234.9 440.2,234.9"/>
<polygon points="510.4,217.2 512.5,213.7 516.5,213.7 518.6,217.2 516.5,220.7 512.5,220.7"/>
<polygon points="452.5,239.3 454.6,235.8 458.7,235.8 460.7,239.3 458.7,242.8 454.6,242.8"/>
<polygon points="541.0,116.5 543.1,113.0 547.1,113.0 549.2,116.5 547.1,120.0 543.1,120.0"/>
<polygon points="514.4,161.6 516.5,158.1 520.5,158.1 522.6,161.6 520.5,165.1 516.5,165.1"/>
<polygon points="487.2,167.0 489.2,163.5 493.4,163.5 495.4,167.0 493.4,170.5 489.2,170.5"/>
<polygon points="541.0,175.2 543.1,171.7 547.1,171.7 549.2,175.2 547.1,178.7 543.1,178.7"/>
<polygon points="542.1,155.7 544.2,152.2 548.2,152.2 550.3,155.7 548.2,159.2 544.2,159.2"/>
<polygon points="488.7,170.2 490.8,166.7 494.9,166.7 496.9,170.2 494.9,173.7 490.8,173.7"/>
<polygon points="477.3,231.4 479.3,227.9 483.4,227.9 485.5,231.4 483.4,234.9 479.3,234.9"/>
<polygon points="453.2,223.7 455.2,220.2 459.4,220.2 461.4,223.7 459.4,227.2 455.2,227.2"/>
<polygon points="550.1,154.8 552.2,151.3 556.2,151.3 558.3,154.8 556.2,158.3 552.2,158.3"/>
<polygon points="537.0,146.6 539.1,143.1 543.1,143.1 545.2,146.6 543.1,150.1 539.1,150.1"/>
<polygon points="511.2,168.2 513.2,164.7 517.3,164.7 519.4,168.2 517.3,171.7 513.2,171.7"/>
<polygon points="516.0,212.4 518.1,208.9 522.1,208.9 524.2,212.4 522.1,215.9 518.1,215.9"/>
<polygon points="452.0,210.0 454.1,206.5 458.2,206.5 460.2,210.0 458.2,213.5 454.1,213.5"/>
<polygon points="554.5,163.5 556.6,160.0 560.6,160.0 562.7,163.5 560.6,167.0 556.6,167.0"/>
<polygon points="543.6,148.2 545.7,144.7 549.8,144.7 551.8,148.2 549.8,151.7 545.7,151.7"/>
<polygon points="549.2,170.1 551.2,166.6 555.3,166.6 557.4,170.1 555.3,173.6 551.2,173.6"/>
<polygon points="524.7,152.1 526.8,148.6 530.8,148.6 532.9,152.1 530.8,155.6 526.8,155.6"/>
<polygon points="468.1,185.3 470.1,181.8 474.2,181.8 476.3,185.3 474.2,188.8 470.1,188.8"/>
<polygon points="541.3,163.5 543.4,160.0 547.4,160.0 549.5,163.5 547.4,167.0 543.4,167.0"/>
<polygon points="537.0,177.5 539.1,174.0 543.1,174.0 545.2,177.5 543.1,181.0 539.1,181.0"/>
<polygon points="487.6,212.8 489.6,209.3 493.8,209.3 495.8,212.8 493.8,216.3 489.6,216.3"/>
<polygon points="540.8,168.8 542.9,165.3 546.9,165.3 549.0,168.8 546.9,172.3 542.9,172.3"/>
<polygon points="573.1,137.3 575.2,133.8 579.2,133.8 581.3,137.3 579.2,140.8 575.2,140.8"/>
<polygon points="541.5,120.7 543.6,117.2 547.6,117.2 549.7,120.7 547.6,124.2 543.6,124.2"/>
<polygon points="511.5,213.2 513.6,209.7 517.6,209.7 519.7,213.2 517.6,216.7 513.6,216.7"/>
<polygon points="461.9,233.5 463.9,230.0 468.1,230.0 470.1,233.5 468.1,237.0 463.9,237.0"/>
<polygon points="473.8,210.0 475.8,206.5 479.9,206.5 482.0,210.0 479.9,213.5 475.8,213.5"/>
<polygon points="472.5,177.9 474.6,174.4 478.7,174.4 480.7,177.9 478.7,181.4 474.6,181.4"/>
<polygon points="540.2,154.1 542.2,150.6 546.3,150.6 548.4,154.1 546.3,157.6 542.2,157.6"/>
<polygon points="525.0,182.5 527.1,179.0 531.1,179.0 533.2,182.5 531.1,186.0 527.1,186.0"/>
<polygon points="564.0,124.2 566.1,120.7 570.1,120.7 572.2,124.2 570.1,127.7 566.1,127.7"/>
<polygon points="449.3,228.2 451.3,224.7 455.4,224.7 457.5,228.2 455.4,231.7 451.3,231.7"/>
<polygon points="565.8,112.3 567.9,108.8 571.9,108.8 574.0,112.3 571.9,115.8 567.9,115.8"/>
<polygon points="506.9,147.8 508.9,144.3 513.0,144.3 515.1,147.8 513.0,151.3 508.9,151.3"/>
<polygon points="507.5,203.7 509.6,200.2 513.6,200.2 515.7,203.7 513.6,207.2 509.6,207.2"/>
<polygon points="519.1,169.0 521.2,165.5 525.2,165.5 527.3,169.0 525.2,172.5 521.2,172.5"/>
<polygon points="575.6,130.6 577.7,127.1 581.8,127.1 583.8,130.6 581.8,134.1 577.7,134.1"/>
<polygon points="555.8,147.3 557.9,143.8 561.9,143.8 564.0,147.3 561.9,150.8 557.9,150.8"/>
<polygon points="518.4,146.2 520.5,142.7 524.5,142.7 526.6,146.2 524.5,149.7 520.5,149.7"/>
<polygon points="520.1,192.1 522.2,188.6 526.2,188.6 528.3,192.1 526.2,195.6 522.2,195.6"/>
<polygon points="480.6,201.0 482.6,197.5 486.8,197.5 488.8,201.0 486.8,204.5 482.6,204.5"/>
<polygon points="454.0,211.9 456.1,208.4 460.2,208.4 462.2,211.9 460.2,215.4 456.1,215.4"/>
<polygon points="501.4,219.2 503.4,215.7 507.6,215.7 509.6,219.2 507.6,222.7 503.4,222.7"/>
<polygon points="532.9,122.4 535.0,118.9 539.0,118.9 541.1,122.4 539.0,125.9 535.0,125.9"/>
<polygon points="464.9,189.3 466.9,185.8 471.1,185.8 473.1,189.3 471.1,192.8 466.9,192.8"/>
<polygon points="518.3,178.4 520.4,174.9 524.4,174.9 526.5,178.4 524.4,181.9 520.4,181.9"/>
<polygon points="532.8,185.9 534.9,182.4 538.9,182.4 541.0,185.9 538.9,189.4 534.9,189.4"/>
<polygon points="496.7,196.0 498.8,192.5 502.9,192.5 504.9,196.0 502.9,199.5 498.8,199.5"/>
<polygon points="454.3,203.3 456.3,199.8 460.4,199.8 462.5,203.3 460.4,206.8 456.3,206.8"/>
<polygon points="462.4,216.2 464.4,212.7 468.6,212.7 470.6,216.2 468.6,219.7 464.4,219.7"/>
<polygon points="545.3,164.8 547.4,161.3 551.4,161.3 553.5,164.8 551.4,168.3 547.4,168.3"/>
<polygon points="545.0,131.9 547.1,128.4 551.1,128.4 553.2,131.9 551.1,135.4 547.1,135.4"/>
<polygon points="510.3,164.7 512.4,161.2 516.4,161.2 518.5,164.7 516.4,168.2 512.4,168.2"/>
<polygon points="532.0,162.7 534.1,159.2 538.1,159.2 540.2,162.7 538.1,166.2 534.1,166.2"/>
<polygon points="460.3,219.8 462.3,216.3 466.4,216.3 468.5,219.8 466.4,223.3 462.3,223.3"/>
<polygon points="524.3,141.7 526.4,138.2 530.4,138.2 532.5,141.7 530.4,145.2 526.4,145.2"/>
<polygon points="483.7,184.7 485.8,181.2 489.9,181.2 491.9,184.7 489.9,188.2 485.8,188.2"/>
<polygon points="519.3,149.8 521.4,146.3 525.4,146.3 527.5,149.8 525.4,153.3 521.4,153.3"/>
<polygon points="493.6,222.6 495.6,219.1 499.8,219.1 501.8,222.6 499.8,226.1 495.6,226.1"/>
<polygon points="528.7,151.9 530.8,148.4 534.8,148.4 536.9,151.9 534.8,155.4 530.8,155.4"/>
<polygon points="539.3,148.4 541.4,144.9 545.4,144.9 547.5,148.4 545.4,151.9 541.4,151.9"/>
<polygon points="571.8,134.4 573.9,130.9 577.9,130.9 580.0,134.4 577.9,137.9 573.9,137.9"/>
<polygon points="485.8,209.4 487.8,205.9 491.9,205.9 494.0,209.4 491.9,212.9 487.8,212.9"/>
<polygon points="549.7,151.0 551.8,147.5 555.8,147.5 557.9,151.0 555.8,154.5 551.8,154.5"/>
<polygon points="510.5,172.8 512.6,169.3 516.6,169.3 518.7,172.8 516.6,176.3 512.6,176.3"/>
<polygon points="459.5,198.5 461.6,195.0 465.7,195.0 467.7,198.5 465.7,202.0 461.6,202.0"/>
<polygon points="545.6,159.2 547.7,155.7 551.8,155.7 553.8,159.2 551.8,162.7 547.7,162.7"/>
<polygon points="527.8,133.2 529.9,129.7 533.9,129.7 536.0,133.2 533.9,136.7 529.9,136.7"/>
<polygon points="455.4,221.8 457.4,218.3 461.6,218.3 463.6,221.8 461.6,225.3 457.4,225.3"/>
<polygon points="534.9,157.7 537.0,154.2 541.0,154.2 543.1,157.7 541.0,161.2 537.0,161.2"/>
<polygon points="547.8,126.9 549.9,123.4 553.9,123.4 556.0,126.9 553.9,130.4 549.9,130.4"/>
<polygon points="434.4,242.9 436.4,239.4 440.6,239.4 442.6,242.9 440.6,246.4 436.4,246.4"/>
<polygon points="531.4,137.9 533.5,134.4 537.5,134.4 539.6,137.9 537.5,141.4 533.5,141.4"/>
<polygon points="508.4,194.4 510.4,190.9 514.5,190.9 516.6,194.4 514.5,197.9 510.4,197.9"/>
<polygon points="504.8,205.6 506.8,202.1 510.9,202.1 513.0,205.6 510.9,209.1 506.8,209.1"/>
<polygon points="512.2,165.9 514.2,162.4 518.3,162.4 520.4,165.9 518.3,169.4 514.2,169.4"/>
<polygon points="524.8,148.4 526.9,144.9 530.9,144.9 533.0,148.4 530.9,151.9 526.9,151.9"/>
<polygon points="534.2,137.7 536.2,134.2 540.3,134.2 542.4,137.7 540.3,141.2 536.2,141.2"/>
<polygon points="453.2,218.4 455.2,214.9 459.4,214.9 461.4,218.4 459.4,221.9 455.2,221.9"/>
<polygon points="453.2,234.1 455.2,230.6 459.4,230.6 461.4,234.1 459.4,237.6 455.2,237.6"/>
<polygon points="516.6,186.1 518.7,182.6 522.8,182.6 524.8,186.1 522.8,189.6 518.7,189.6"/>
<polygon points="514.3,219.0 516.4,215.5 520.4,215.5 522.5,219.0 520.4,222.5 516.4,222.5"/>
<polygon points="501.8,157.4 503.8,153.9 507.9,153.9 510.0,157.4 507.9,160.9 503.8,160.9"/>
<polygon points="469.8,216.0 471.8,212.5 475.9,212.5 478.0,216.0 475.9,219.5 471.8,219.5"/>
<polygon points="497.6,222.1 499.6,218.6 503.8,218.6 505.8,222.1 503.8,225.6 499.6,225.6"/>
<polygon points="566.0,114.7 568.1,111.2 572.1,111.2 574.2,114.7 572.1,118.2 568.1,118.2"/>
<polygon points="504.1,183.0 506.1,179.5 510.2,179.5 512.3,183.0 510.2,186.5 506.1,186.5"/>
<polygon points="590.3,125.8 592.4,122.3 596.4,122.3 598.5,125.8 596.4,129.3 592.4,129.3"/>
<polygon points="546.2,167.6 548.2,164.1 552.3,164.1 554.4,167.6 552.3,171.1 548.2,171.1"/>
<polygon points="477.5,190.6 479.6,187.1 483.7,187.1 485.7,190.6 483.7,194.1 479.6,194.1"/>
<polygon points="444.0,234.4 446.1,230.9 450.2,230.9 452.2,234.4 450.2,237.9 446.1,237.9"/>
<polygon points="556.4,120.8 558.5,117.3 562.5,117.3 564.6,120.8 562.5,124.3 558.5,124.3"/>
<polygon points="453.7,208.2 455.8,204.7 459.9,204.7 461.9,208.2 459.9,211.7 455.8,211.7"/>
<polygon points="511.0,143.5 513.1,140.0 517.1,140.0 519.2,143.5 517.1,147.0 513.1,147.0"/>
<polygon points="517.0,205.8 519.1,202.3 523.1,202.3 525.2,205.8 523.1,209.3 519.1,209.3"/>
<polygon points="495.4,224.9 497.4,221.4 501.6,221.4 503.6,224.9 501.6,228.4 497.4,228.4"/>
<polygon points="465.2,225.5 467.2,222.0 471.4,222.0 473.4,225.5 471.4,229.0 467.2,229.0"/>
<polygon points="475.8,188.3 477.8,184.8 481.9,184.8 484.0,188.3 481.9,191.8 477.8,191.8"/>
<polygon points="463.7,205.7 465.8,202.2 469.9,202.2 471.9,205.7 469.9,209.2 465.8,209.2"/>
<polygon points="484.3,160.9 486.3,157.4 490.4,157.4 492.5,160.9 490.4,164.4 486.3,164.4"/>
<polygon points="437.0,233.8 439.1,230.3 443.2,230.3 445.2,233.8 443.2,237.3 439.1,237.3"/>
<polygon points="503.3,190.6 505.3,187.1 509.4,187.1 511.5,190.6 509.4,194.1 505.3,194.1"/>
<polygon points="586.6,131.1 588.7,127.6 592.8,127.6 594.8,131.1 592.8,134.6 588.7,134.6"/>
<polygon points="472.0,207.9 474.1,204.4 478.2,204.4 480.2,207.9 478.2,211.4 474.1,211.4"/>
<polygon points="534.7,153.9 536.8,150.4 540.8,150.4 542.9,153.9 540.8,157.4 536.8,157.4"/>
<polygon points="524.0,175.3 526.1,171.8 530.1,171.8 532.2,175.3 530.1,178.8 526.1,178.8"/>
<polygon points="495.1,212.4 497.1,208.9 501.2,208.9 503.3,212.4 501.2,215.9 497.1,215.9"/>
<polygon points="502.5,165.3 504.6,161.8 508.7,161.8 510.7,165.3 508.7,168.8 504.6,168.8"/>
<polygon points="464.1,227.9 466.1,224.4 470.2,224.4 472.3,227.9 470.2,231.4 466.1,231.4"/>
<polygon points="481.3,210.8 483.3,207.3 487.4,207.3 489.5,210.8 487.4,214.3 483.3,214.3"/>
<polygon points="506.7,211.8 508.8,208.3 512.9,208.3 514.9,211.8 512.9,215.3 508.8,215.3"/>
<polygon points="562.2,150.3 564.2,146.8 568.3,146.8 570.4,150.3 568.3,153.8 564.2,153.8"/>
<polygon points="566.3,136.8 568.4,133.3 572.4,133.3 574.5,136.8 572.4,140.3 568.4,140.3"/>
<polygon points="522.5,167.9 524.6,164.4 528.6,164.4 530.7,167.9 528.6,171.4 524.6,171.4"/>
<polygon points="492.7,212.1 494.8,208.6 498.9,208.6 500.9,212.1 498.9,215.6 494.8,215.6"/>
<polygon points="432.8,240.8 434.8,237.3 438.9,237.3 441.0,240.8 438.9,244.3 434.8,244.3"/>
<polygon points="464.4,230.5 466.4,227.0 470.6,227.0 472.6,230.5 470.6,234.0 466.4,234.0"/>
<polygon points="533.0,150.9 535.1,147.4 539.1,147.4 541.2,150.9 539.1,154.4 535.1,154.4"/>
<polygon points="523.9,155.8 526.0,152.3 530.0,152.3 532.1,155.8 530.0,159.3 526.0,159.3"/>
<polygon points="551.8,116.4 553.9,112.9 557.9,112.9 560.0,116.4 557.9,119.9 553.9,119.9"/>
<polygon points="584.8,123.1 586.9,119.6 590.9,119.6 593.0,123.1 590.9,126.6 586.9,126.6"/>
<polygon points="530.2,153.8 532.2,150.3 536.3,150.3 538.4,153.8 536.3,157.3 532.2,157.3"/>
<polygon points="435.8,224.5 437.8,221.0 441.9,221.0 444.0,224.5 441.9,228.0 437.8,228.0"/>
<polygon points="537.7,175.4 539.8,171.9 543.8,171.9 545.9,175.4 543.8,178.9 539.8,178.9"/>
<polygon points="444.1,223.2 446.1,219.7 450.2,219.7 452.3,223.2 450.2,226.7 446.1,226.7"/>
<polygon points="519.3,181.2 521.4,177.7 525.4,177.7 527.5,181.2 525.4,184.7 521.4,184.7"/>
<polygon points="493.3,209.6 495.3,206.1 499.4,206.1 501.5,209.6 499.4,213.1 495.3,213.1"/>
<polygon points="557.6,163.0 559.7,159.5 563.8,159.5 565.8,163.0 563.8,166.5 559.7,166.5"/>
<polygon points="528.8,170.8 530.9,167.3 534.9,167.3 537.0,170.8 534.9,174.3 530.9,174.3"/>
<polygon points="570.1,146.3 572.2,142.8 576.2,142.8 578.3,146.3 576.2,149.8 572.2,149.8"/>
<polygon points="559.4,120.8 561.5,117.3 565.5,117.3 567.6,120.8 565.5,124.3 561.5,124.3"/>
<polygon points="553.4,168.3 555.5,164.8 559.5,164.8 561.6,168.3 559.5,171.8 555.5,171.8"/>
<polygon points="513.5,145.2 515.6,141.7 519.6,141.7 521.7,145.2 519.6,148.7 515.6,148.7"/>
<polygon points="570.7,124.3 572.8,120.8 576.8,120.8 578.9,124.3 576.8,127.8 572.8,127.8"/>
<polygon points="524.6,187.9 526.7,184.4 530.8,184.4 532.8,187.9 530.8,191.4 526.7,191.4"/>
<polygon points="544.2,136.0 546.2,132.5 550.3,132.5 552.4,136.0 550.3,139.5 546.2,139.5"/>
<polygon points="529.2,155.9 531.2,152.4 535.3,152.4 537.4,155.9 535.3,159.4 531.2,159.4"/>
<polygon points="451.4,229.6 453.4,226.1 457.6,226.1 459.6,229.6 457.6,233.1 453.4,233.1"/>
<polygon points="538.9,164.4 541.0,160.9 545.0,160.9 547.1,164.4 545.0,167.9 541.0,167.9"/>
<polygon points="495.3,192.6 497.3,189.1 501.4,189.1 503.5,192.6 501.4,196.1 497.3,196.1"/>
<polygon points="534.2,140.2 536.2,136.7 540.3,136.7 542.4,140.2 540.3,143.7 536.2,143.7"/>
<polygon points="583.5,132.8 585.6,129.3 589.6,129.3 591.7,132.8 589.6,136.3 585.6,136.3"/>
<polygon points="463.0,202.9 465.1,199.4 469.2,199.4 471.2,202.9 469.2,206.4 465.1,206.4"/>
<polygon points="534.8,132.4 536.9,128.9 540.9,128.9 543.0,132.4 540.9,135.9 536.9,135.9"/>
<polygon points="482.0,181.9 484.1,178.4 488.2,178.4 490.2,181.9 488.2,185.4 484.1,185.4"/>
<polygon points="507.5,167.1 509.6,163.6 513.6,163.6 515.7,167.1 513.6,170.6 509.6,170.6"/>
<polygon points="476.6,228.3 478.6,224.8 482.8,224.8 484.8,228.3 482.8,231.8 478.6,231.8"/>
<polygon points="544.4,142.4 546.5,138.9 550.5,138.9 552.6,142.4 550.5,145.9 546.5,145.9"/>
<polygon points="529.2,139.4 531.2,135.9 535.3,135.9 537.4,139.4 535.3,142.9 531.2,142.9"/>
<polygon points="559.8,143.0 561.9,139.5 565.9,139.5 568.0,143.0 565.9,146.5 561.9,146.5"/>
<polygon points="557.3,136.7 559.4,133.2 563.4,133.2 565.5,136.7 563.4,140.2 559.4,140.2"/>
<polygon points="484.4,200.8 486.4,197.3 490.6,197.3 492.6,200.8 490.6,204.3 486.4,204.3"/>
<polygon points="469.4,228.2 471.4,224.7 475.6,224.7 477.6,228.2 475.6,231.7 471.4,231.7"/>
<polygon points="506.9,181.2 508.9,177.7 513.0,177.7 515.1,181.2 513.0,184.7 508.9,184.7"/>
<polygon points="546.1,175.5 548.2,172.0 552.2,172.0 554.3,175.5 552.2,179.0 548.2,179.0"/>
<polygon points="557.2,158.0 559.2,154.5 563.3,154.5 565.4,158.0 563.3,161.5 559.2,161.5"/>
<polygon points="458.2,222.1 460.2,218.6 464.4,218.6 466.4,222.1 464.4,225.6 460.2,225.6"/>
<polygon points="459.4,232.4 461.4,228.9 465.6,228.9 467.6,232.4 465.6,235.9 461.4,235.9"/>
<polygon points="474.2,199.3 476.2,195.8 480.4,195.8 482.4,199.3 480.4,202.8 476.2,202.8"/>
<polygon points="556.7,130.1 558.8,126.6 562.8,126.6 564.9,130.1 562.8,133.6 558.8,133.6"/>
<polygon points="543.9,116.1 546.0,112.6 550.0,112.6 552.1,116.1 550.0,119.6 546.0,119.6"/>
<polygon points="521.9,140.6 524.0,137.1 528.0,137.1 530.1,140.6 528.0,144.1 524.0,144.1"/>
<polygon points="522.7,183.4 524.8,179.9 528.8,179.9 530.9,183.4 528.8,186.9 524.8,186.9"/>
<polygon points="461.3,193.7 463.3,190.2 467.4,190.2 469.5,193.7 467.4,197.2 463.3,197.2"/>
<polygon points="541.5,124.7 543.6,121.2 547.6,121.2 549.7,124.7 547.6,128.2 543.6,128.2"/>
<polygon points="497.8,215.8 499.8,212.3 503.9,212.3 506.0,215.8 503.9,219.3 499.8,219.3"/>
<polygon points="513.7,194.9 515.8,191.4 519.8,191.4 521.9,194.9 519.8,198.4 515.8,198.4"/>
<polygon points="449.0,220.8 451.1,217.3 455.2,217.3 457.2,220.8 455.2,224.3 451.1,224.3"/>
<polygon points="433.2,234.5 435.2,231.0 439.4,231.0 441.4,234.5 439.4,238.0 435.2,238.0"/>
<polygon points="458.7,228.9 460.8,225.4 464.9,225.4 466.9,228.9 464.9,232.4 460.8,232.4"/>
<polygon points="443.2,226.2 445.2,222.7 449.4,222.7 451.4,226.2 449.4,229.7 445.2,229.7"/>
<polygon points="531.7,146.2 533.8,142.7 537.8,142.7 539.9,146.2 537.8,149.7 533.8,149.7"/>
<polygon points="515.9,173.2 518.0,169.7 522.0,169.7 524.1,173.2 522.0,176.7 518.0,176.7"/>
<polygon points="486.2,196.1 488.2,192.6 492.4,192.6 494.4,196.1 492.4,199.6 488.2,199.6"/>
<polygon points="490.3,179.5 492.3,176.0 496.4,176.0 498.5,179.5 496.4,183.0 492.3,183.0"/>
<polygon points="471.6,230.6 473.6,227.1 477.8,227.1 479.8,230.6 477.8,234.1 473.6,234.1"/>
<polygon points="471.2,92.5 473.2,89.0 477.4,89.0 479.4,92.5 477.4,96.0 473.2,96.0"/>
<polygon points="458.5,137.2 460.6,133.7 464.7,133.7 466.7,137.2 464.7,140.7 460.6,140.7"/>
<polygon points="492.8,139.1 494.8,135.6 498.9,135.6 501.0,139.1 498.9,142.6 494.8,142.6"/>
<polygon points="500.7,128.0 502.8,124.5 506.9,124.5 508.9,128.0 506.9,131.5 502.8,131.5"/>
<polygon points="522.6,129.2 524.7,125.7 528.8,125.7 530.8,129.2 528.8,132.7 524.7,132.7"/>
<polygon points="562.3,96.2 564.4,92.7 568.4,92.7 570.5,96.2 568.4,99.7 564.4,99.7"/>
<polygon points="485.4,148.8 487.4,145.3 491.6,145.3 493.6,148.8 491.6,152.3 487.4,152.3"/>
<polygon points="478.4,160.7 480.4,157.2 484.6,157.2 486.6,160.7 484.6,164.2 480.4,164.2"/>
<polygon points="474.9,169.4 476.9,165.9 481.1,165.9 483.1,169.4 481.1,172.9 476.9,172.9"/>
<polygon points="512.7,139.6 514.8,136.1 518.8,136.1 520.9,139.6 518.8,143.1 514.8,143.1"/>
<polygon points="532.5,121.0 534.6,117.5 538.6,117.5 540.7,121.0 538.6,124.5 534.6,124.5"/>
<polygon points="547.4,111.1 549.5,107.6 553.5,107.6 555.6,111.1 553.5,114.6 549.5,114.6"/>
<polygon points="531.3,214.1 533.4,210.6 537.4,210.6 539.5,214.1 537.4,217.6 533.4,217.6"/>
<polygon points="535.0,213.3 537.1,209.8 541.1,209.8 543.2,213.3 541.1,216.8 537.1,216.8"/>
<polygon points="544.4,212.8 546.5,209.3 550.5,209.3 552.6,212.8 550.5,216.3 546.5,216.3"/>
<polygon points="517.6,215.3 519.7,211.8 523.8,211.8 525.8,215.3 523.8,218.8 519.7,218.8"/>
<polygon points="511.4,214.1 513.5,210.6 517.5,210.6 519.6,214.1 517.5,217.6 513.5,217.6"/>
<polygon points="517.6,220.3 519.7,216.8 523.8,216.8 525.8,220.3 523.8,223.8 519.7,223.8"/>
<polygon points="505.2,221.5 507.2,218.0 511.4,218.0 513.4,221.5 511.4,225.0 507.2,225.0"/>
<polygon points="495.3,226.5 497.3,223.0 501.4,223.0 503.5,226.5 501.4,230.0 497.3,230.0"/>
<polygon points="552.4,176.9 554.5,173.4 558.5,173.4 560.6,176.9 558.5,180.4 554.5,180.4"/>
<polygon points="542.4,182.6 544.5,179.1 548.5,179.1 550.6,182.6 548.5,186.1 544.5,186.1"/>
<polygon points="533.7,183.1 535.8,179.6 539.8,179.6 541.9,183.1 539.8,186.6 535.8,186.6"/>
<polygon points="522.6,188.8 524.7,185.3 528.8,185.3 530.8,188.8 528.8,192.3 524.7,192.3"/>
<polygon points="557.3,164.5 559.4,161.0 563.4,161.0 565.5,164.5 563.4,168.0 559.4,168.0"/>
<polygon points="549.9,169.4 552.0,165.9 556.0,165.9 558.1,169.4 556.0,172.9 552.0,172.9"/>
<polygon points="515.1,202.9 517.2,199.4 521.2,199.4 523.3,202.9 521.2,206.4 517.2,206.4"/>
<polygon points="507.7,201.7 509.8,198.2 513.9,198.2 515.9,201.7 513.9,205.2 509.8,205.2"/>
<polygon points="569.7,155.0 571.8,151.5 575.8,151.5 577.9,155.0 575.8,158.5 571.8,158.5"/>
<polygon points="574.7,140.9 576.8,137.4 580.8,137.4 582.9,140.9 580.8,144.4 576.8,144.4"/>
<polygon points="559.8,157.0 561.9,153.5 565.9,153.5 568.0,157.0 565.9,160.5 561.9,160.5"/>
<polygon points="433.2,245.9 435.2,242.4 439.4,242.4 441.4,245.9 439.4,249.4 435.2,249.4"/>
<polygon points="440.7,238.9 442.8,235.4 446.9,235.4 448.9,238.9 446.9,242.4 442.8,242.4"/>
<polygon points="451.8,238.9 453.8,235.4 457.9,235.4 460.0,238.9 457.9,242.4 453.8,242.4"/>
<polygon points="458.1,241.4 460.1,237.9 464.2,237.9 466.3,241.4 464.2,244.9 460.1,244.9"/>
<polygon points="654.8,40.5 656.9,37.0 660.9,37.0 663.0,40.5 660.9,44.0 656.9,44.0"/>
<polygon points="641.1,46.7 643.2,43.2 647.2,43.2 649.3,46.7 647.2,50.2 643.2,50.2"/>
<polygon points="636.2,59.1 638.2,55.6 642.3,55.6 644.4,59.1 642.3,62.6 638.2,62.6"/>
<polygon points="626.2,74.0 628.2,70.5 632.3,70.5 634.4,74.0 632.3,77.5 628.2,77.5"/>
<polygon points="607.6,76.0 609.7,72.5 613.8,72.5 615.8,76.0 613.8,79.5 609.7,79.5"/>
<polygon points="653.5,82.7 655.6,79.2 659.6,79.2 661.7,82.7 659.6,86.2 655.6,86.2"/>
<polygon points="649.1,88.4 651.2,84.9 655.2,84.9 657.3,88.4 655.2,91.9 651.2,91.9"/>
<polygon points="630.0,86.6 632.1,83.1 636.1,83.1 638.2,86.6 636.1,90.1 632.1,90.1"/>
<polygon points="627.5,92.1 629.6,88.6 633.6,88.6 635.7,92.1 633.6,95.6 629.6,95.6"/>
<polygon points="621.3,94.6 623.4,91.1 627.4,91.1 629.5,94.6 627.4,98.1 623.4,98.1"/>
<polygon points="613.1,86.6 615.2,83.1 619.2,83.1 621.3,86.6 619.2,90.1 615.2,90.1"/>
<polygon points="603.1,90.9 605.2,87.4 609.2,87.4 611.3,90.9 609.2,94.4 605.2,94.4"/>
<polygon points="593.5,87.9 595.6,84.4 599.6,84.4 601.7,87.9 599.6,91.4 595.6,91.4"/>
<polygon points="580.3,90.4 582.4,86.9 586.4,86.9 588.5,90.4 586.4,93.9 582.4,93.9"/>
<polygon points="561.2,97.1 563.2,93.6 567.3,93.6 569.4,97.1 567.3,100.6 563.2,100.6"/>
<polygon points="597.2,97.8 599.2,94.3 603.3,94.3 605.4,97.8 603.3,101.3 599.2,101.3"/>
<polygon points="602.7,101.3 604.8,97.8 608.8,97.8 610.9,101.3 608.8,104.8 604.8,104.8"/>
<polygon points="609.4,104.5 611.5,101.0 615.5,101.0 617.6,104.5 615.5,108.0 611.5,108.0"/>
<polygon points="591.5,103.8 593.6,100.3 597.6,100.3 599.7,103.8 597.6,107.3 593.6,107.3"/>
<polygon points="584.0,105.8 586.1,102.3 590.1,102.3 592.2,105.8 590.1,109.3 586.1,109.3"/>
<polygon points="596.4,110.2 598.5,106.7 602.5,106.7 604.6,110.2 602.5,113.7 598.5,113.7"/>
<polygon points="598.9,115.7 601.0,112.2 605.0,112.2 607.1,115.7 605.0,119.2 601.0,119.2"/>
<polygon points="601.4,118.7 603.5,115.2 607.5,115.2 609.6,118.7 607.5,122.2 603.5,122.2"/>
<polygon points="564.9,105.8 567.0,102.3 571.0,102.3 573.1,105.8 571.0,109.3 567.0,109.3"/>
<polygon points="548.1,112.0 550.2,108.5 554.2,108.5 556.3,112.0 554.2,115.5 550.2,115.5"/>
<polygon points="556.7,111.5 558.8,108.0 562.8,108.0 564.9,111.5 562.8,115.0 558.8,115.0"/>
<polygon points="565.9,112.5 568.0,109.0 572.0,109.0 574.1,112.5 572.0,116.0 568.0,116.0"/>
<polygon points="541.8,116.9 543.9,113.4 547.9,113.4 550.0,116.9 547.9,120.4 543.9,120.4"/>
<polygon points="533.9,120.6 536.0,117.1 540.0,117.1 542.1,120.6 540.0,124.1 536.0,124.1"/>
<polygon points="522.5,129.3 524.6,125.8 528.6,125.8 530.7,129.3 528.6,132.8 524.6,132.8"/>
<polygon points="512.6,140.0 514.7,136.5 518.8,136.5 520.8,140.0 518.8,143.5 514.7,143.5"/>
<polygon points="502.1,128.1 504.1,124.6 508.2,124.6 510.3,128.1 508.2,131.6 504.1,131.6"/>
<polygon points="623.7,123.6 625.8,120.1 629.8,120.1 631.9,123.6 629.8,127.1 625.8,127.1"/>
<polygon points="636.7,119.4 638.8,115.9 642.8,115.9 644.9,119.4 642.8,122.9 638.8,122.9"/>
<polygon points="597.7,133.1 599.8,129.6 603.8,129.6 605.9,133.1 603.8,136.6 599.8,136.6"/>
<polygon points="586.5,118.2 588.6,114.7 592.6,114.7 594.7,118.2 592.6,121.7 588.6,121.7"/>
<polygon points="591.5,125.6 593.6,122.1 597.6,122.1 599.7,125.6 597.6,129.1 593.6,129.1"/>
<polygon points="587.8,129.3 589.9,125.8 593.9,125.8 596.0,129.3 593.9,132.8 589.9,132.8"/>
<polygon points="576.6,116.2 578.7,112.7 582.8,112.7 584.8,116.2 582.8,119.7 578.7,119.7"/>
<polygon points="577.8,121.9 579.9,118.4 583.9,118.4 586.0,121.9 583.9,125.4 579.9,125.4"/>
<polygon points="582.8,123.1 584.9,119.6 588.9,119.6 591.0,123.1 588.9,126.6 584.9,126.6"/>
<polygon points="567.9,118.2 570.0,114.7 574.0,114.7 576.1,118.2 574.0,121.7 570.0,121.7"/>
<polygon points="570.4,126.8 572.5,123.3 576.5,123.3 578.6,126.8 576.5,130.3 572.5,130.3"/>
<polygon points="561.7,128.1 563.8,124.6 567.8,124.6 569.9,128.1 567.8,131.6 563.8,131.6"/>
<polygon points="575.4,135.5 577.5,132.0 581.5,132.0 583.6,135.5 581.5,139.0 577.5,139.0"/>
<polygon points="585.3,139.3 587.4,135.8 591.4,135.8 593.5,139.3 591.4,142.8 587.4,142.8"/>
<polygon points="574.1,140.0 576.2,136.5 580.2,136.5 582.3,140.0 580.2,143.5 576.2,143.5"/>
<polygon points="570.4,154.1 572.5,150.6 576.5,150.6 578.6,154.1 576.5,157.6 572.5,157.6"/>
<polygon points="565.4,146.7 567.5,143.2 571.5,143.2 573.6,146.7 571.5,150.2 567.5,150.2"/>
<polygon points="559.2,162.8 561.2,159.3 565.3,159.3 567.4,162.8 565.3,166.3 561.2,166.3"/>
<polygon points="550.5,169.0 552.6,165.5 556.6,165.5 558.7,169.0 556.6,172.5 552.6,172.5"/>
<polygon points="554.3,160.4 556.4,156.9 560.4,156.9 562.5,160.4 560.4,163.9 556.4,163.9"/>
<polygon points="504.6,150.4 506.6,146.9 510.8,146.9 512.8,150.4 510.8,153.9 506.6,153.9"/>
<polygon points="503.4,159.1 505.4,155.6 509.6,155.6 511.6,159.1 509.6,162.6 505.4,162.6"/>
<polygon points="493.7,27.5 495.8,24.0 499.9,24.0 501.9,27.5 499.9,31.0 495.8,31.0"/>
<polygon points="492.7,41.0 494.8,37.5 498.9,37.5 500.9,41.0 498.9,44.5 494.8,44.5"/>
<polygon points="462.7,72.4 464.8,68.9 468.9,68.9 470.9,72.4 468.9,75.9 464.8,75.9"/>
<polygon points="484.7,67.4 486.8,63.9 490.9,63.9 492.9,67.4 490.9,70.9 486.8,70.9"/>
<polygon points="478.7,79.9 480.8,76.4 484.9,76.4 486.9,79.9 484.9,83.4 480.8,83.4"/>
<polygon points="613.5,87.4 615.6,83.9 619.6,83.9 621.7,87.4 619.6,90.9 615.6,90.9"/>
<polygon points="608.5,75.9 610.6,72.4 614.6,72.4 616.7,75.9 614.6,79.4 610.6,79.4"/>
<polygon points="598.5,89.9 600.6,86.4 604.6,86.4 606.7,89.9 604.6,93.4 600.6,93.4"/>
<polygon points="628.5,92.4 630.6,88.9 634.6,88.9 636.7,92.4 634.6,95.9 630.6,95.9"/>
<polygon points="623.5,94.9 625.6,91.4 629.6,91.4 631.7,94.9 629.6,98.4 625.6,98.4"/>
<polygon points="630.9,85.9 633.0,82.4 637.0,82.4 639.1,85.9 637.0,89.4 633.0,89.4"/>
</g>
<rect x="415.4" y="4.2" width="255.8" height="255.8" fill="none" stroke="#000" stroke-width="1.25"/>
<path d="M415.40 260.00v3.8M415.40 4.20v-3.8M415.40 260.00h-3.8M671.20 260.00h3.8M428.19 260.00v2.1M428.19 4.20v-2.1M415.40 247.21h-2.1M671.20 247.21h2.1M440.98 260.00v2.1M440.98 4.20v-2.1M415.40 234.42h-2.1M671.20 234.42h2.1M453.77 260.00v2.1M453.77 4.20v-2.1M415.40 221.63h-2.1M671.20 221.63h2.1M466.56 260.00v2.1M466.56 4.20v-2.1M415.40 208.84h-2.1M671.20 208.84h2.1M479.35 260.00v3.8M479.35 4.20v-3.8M415.40 196.05h-3.8M671.20 196.05h3.8M492.14 260.00v2.1M492.14 4.20v-2.1M415.40 183.26h-2.1M671.20 183.26h2.1M504.93 260.00v2.1M504.93 4.20v-2.1M415.40 170.47h-2.1M671.20 170.47h2.1M517.72 260.00v2.1M517.72 4.20v-2.1M415.40 157.68h-2.1M671.20 157.68h2.1M530.51 260.00v2.1M530.51 4.20v-2.1M415.40 144.89h-2.1M671.20 144.89h2.1M543.30 260.00v3.8M543.30 4.20v-3.8M415.40 132.10h-3.8M671.20 132.10h3.8M556.09 260.00v2.1M556.09 4.20v-2.1M415.40 119.31h-2.1M671.20 119.31h2.1M568.88 260.00v2.1M568.88 4.20v-2.1M415.40 106.52h-2.1M671.20 106.52h2.1M581.67 260.00v2.1M581.67 4.20v-2.1M415.40 93.73h-2.1M671.20 93.73h2.1M594.46 260.00v2.1M594.46 4.20v-2.1M415.40 80.94h-2.1M671.20 80.94h2.1M607.25 260.00v3.8M607.25 4.20v-3.8M415.40 68.15h-3.8M671.20 68.15h3.8M620.04 260.00v2.1M620.04 4.20v-2.1M415.40 55.36h-2.1M671.20 55.36h2.1M632.83 260.00v2.1M632.83 4.20v-2.1M415.40 42.57h-2.1M671.20 42.57h2.1M645.62 260.00v2.1M645.62 4.20v-2.1M415.40 29.78h-2.1M671.20 29.78h2.1M658.41 260.00v2.1M658.41 4.20v-2.1M415.40 16.99h-2.1M671.20 16.99h2.1M671.20 260.00v3.8M671.20 4.20v-3.8M415.40 4.20h-3.8M671.20 4.20h3.8" stroke="#000" stroke-width="1.3" fill="none"/>
<text x="415.4" y="276.6" text-anchor="middle" class="t">0</text>
<text x="409.8" y="264.2" text-anchor="end" class="t">0</text>
<text x="479.3" y="276.6" text-anchor="middle" class="t">300</text>
<text x="409.8" y="200.2" text-anchor="end" class="t">300</text>
<text x="543.3" y="276.6" text-anchor="middle" class="t">600</text>
<text x="409.8" y="136.3" text-anchor="end" class="t">600</text>
<text x="607.2" y="276.6" text-anchor="middle" class="t">900</text>
<text x="409.8" y="72.4" text-anchor="end" class="t">900</text>
<text x="671.2" y="276.6" text-anchor="middle" class="t">1200</text>
<text x="409.8" y="8.4" text-anchor="end" class="t">1200</text>
<text x="543.3" y="307.2" text-anchor="middle" class="l">Experimental Nusselt number, (-)</text>
<text transform="translate(368.2 128.1) rotate(-90)" text-anchor="middle" class="l">Predicted Nusselt number, (-)</text>
<rect x="537.0" y="226.5" width="125.5" height="20.7" fill="#fff" stroke="#222" stroke-width="0.9"/>
<text x="599.8" y="241.4" text-anchor="middle" class="b">Zakeralhosseini et al.</text>
</g>
<g>
<g clip-path="url(#c2)">
<line x1="57.5" y1="591.4" x2="313.3" y2="335.6" stroke="#000" stroke-width="1.3"/>
<line x1="57.5" y1="591.4" x2="290.0" y2="335.6" stroke="#000" stroke-width="1.6" stroke-dasharray="5.1 3.8"/>
<line x1="57.5" y1="591.4" x2="313.3" y2="361.2" stroke="#000" stroke-width="1.6" stroke-dasharray="5.1 3.8"/>
</g>
<text transform="translate(246.7 373.5) rotate(-42)" text-anchor="middle" class="l">+ 10%</text>
<text transform="translate(264.9 430.5) rotate(-50)" text-anchor="middle" class="l">- 10%</text>
<g class="g">
<polygon points="158.8,476.9 160.8,473.4 165.0,473.4 167.0,476.9 165.0,480.4 160.8,480.4"/>
<polygon points="165.4,481.7 167.4,478.2 171.6,478.2 173.6,481.7 171.6,485.2 167.4,485.2"/>
<polygon points="228.5,427.6 230.5,424.1 234.7,424.1 236.7,427.6 234.7,431.1 230.5,431.1"/>
<polygon points="122.8,546.5 124.9,543.0 129.0,543.0 131.0,546.5 129.0,550.0 124.9,550.0"/>
<polygon points="102.6,510.3 104.7,506.8 108.8,506.8 110.8,510.3 108.8,513.8 104.7,513.8"/>
<polygon points="175.1,477.9 177.1,474.4 181.2,474.4 183.3,477.9 181.2,481.4 177.1,481.4"/>
<polygon points="181.7,486.5 183.8,483.0 187.9,483.0 189.9,486.5 187.9,490.0 183.8,490.0"/>
<polygon points="123.7,510.9 125.8,507.4 129.8,507.4 131.9,510.9 129.8,514.4 125.8,514.4"/>
<polygon points="145.7,466.7 147.8,463.2 151.9,463.2 153.9,466.7 151.9,470.2 147.8,470.2"/>
<polygon points="189.5,464.9 191.5,461.4 195.7,461.4 197.7,464.9 195.7,468.4 191.5,468.4"/>
<polygon points="140.2,537.4 142.2,533.9 146.4,533.9 148.4,537.4 146.4,540.9 142.2,540.9"/>
<polygon points="165.8,490.9 167.8,487.4 172.0,487.4 174.0,490.9 172.0,494.4 167.8,494.4"/>
<polygon points="149.0,523.0 151.0,519.5 155.2,519.5 157.2,523.0 155.2,526.5 151.0,526.5"/>
<polygon points="204.1,464.4 206.1,460.9 210.2,460.9 212.3,464.4 210.2,467.9 206.1,467.9"/>
<polygon points="135.1,523.7 137.1,520.2 141.2,520.2 143.3,523.7 141.2,527.2 137.1,527.2"/>
<polygon points="83.3,539.1 85.4,535.6 89.5,535.6 91.5,539.1 89.5,542.6 85.4,542.6"/>
<polygon points="110.9,495.3 113.0,491.8 117.0,491.8 119.1,495.3 117.0,498.8 113.0,498.8"/>
<polygon points="167.3,461.0 169.3,457.5 173.5,457.5 175.5,461.0 173.5,464.5 169.3,464.5"/>
<polygon points="132.5,507.9 134.5,504.4 138.7,504.4 140.7,507.9 138.7,511.4 134.5,511.4"/>
<polygon points="155.6,515.8 157.6,512.3 161.8,512.3 163.8,515.8 161.8,519.3 157.6,519.3"/>
<polygon points="136.1,482.0 138.1,478.5 142.2,478.5 144.3,482.0 142.2,485.5 138.1,485.5"/>
<polygon points="78.0,555.5 80.0,552.0 84.1,552.0 86.2,555.5 84.1,559.0 80.0,559.0"/>
<polygon points="171.2,443.4 173.2,439.9 177.4,439.9 179.4,443.4 177.4,446.9 173.2,446.9"/>
<polygon points="147.8,495.2 149.8,491.7 154.0,491.7 156.0,495.2 154.0,498.7 149.8,498.7"/>
<polygon points="205.2,445.3 207.2,441.8 211.4,441.8 213.4,445.3 211.4,448.8 207.2,448.8"/>
<polygon points="77.7,567.3 79.8,563.8 83.8,563.8 85.9,567.3 83.8,570.8 79.8,570.8"/>
<polygon points="100.4,539.7 102.5,536.2 106.5,536.2 108.6,539.7 106.5,543.2 102.5,543.2"/>
<polygon points="109.9,500.4 112.0,496.9 116.0,496.9 118.1,500.4 116.0,503.9 112.0,503.9"/>
<polygon points="115.0,527.4 117.0,523.9 121.1,523.9 123.2,527.4 121.1,530.9 117.0,530.9"/>
<polygon points="102.3,542.3 104.4,538.8 108.5,538.8 110.5,542.3 108.5,545.8 104.4,545.8"/>
<polygon points="126.6,544.1 128.6,540.6 132.8,540.6 134.8,544.1 132.8,547.6 128.6,547.6"/>
<polygon points="188.7,446.7 190.8,443.2 194.9,443.2 196.9,446.7 194.9,450.2 190.8,450.2"/>
<polygon points="97.1,548.1 99.2,544.6 103.2,544.6 105.3,548.1 103.2,551.6 99.2,551.6"/>
<polygon points="129.5,505.2 131.5,501.7 135.7,501.7 137.7,505.2 135.7,508.7 131.5,508.7"/>
<polygon points="204.8,453.0 206.8,449.5 211.0,449.5 213.0,453.0 211.0,456.5 206.8,456.5"/>
<polygon points="94.7,561.0 96.8,557.5 100.8,557.5 102.9,561.0 100.8,564.5 96.8,564.5"/>
<polygon points="130.0,491.2 132.0,487.7 136.2,487.7 138.2,491.2 136.2,494.7 132.0,494.7"/>
<polygon points="153.4,502.6 155.4,499.1 159.6,499.1 161.6,502.6 159.6,506.1 155.4,506.1"/>
<polygon points="125.6,500.5 127.6,497.0 131.8,497.0 133.8,500.5 131.8,504.0 127.6,504.0"/>
<polygon points="171.0,498.5 173.0,495.0 177.2,495.0 179.2,498.5 177.2,502.0 173.0,502.0"/>
<polygon points="155.1,527.4 157.1,523.9 161.2,523.9 163.3,527.4 161.2,530.9 157.1,530.9"/>
<polygon points="145.6,502.8 147.6,499.3 151.8,499.3 153.8,502.8 151.8,506.3 147.6,506.3"/>
<polygon points="207.0,441.6 209.0,438.1 213.2,438.1 215.2,441.6 213.2,445.1 209.0,445.1"/>
<polygon points="98.4,531.0 100.5,527.5 104.5,527.5 106.6,531.0 104.5,534.5 100.5,534.5"/>
<polygon points="137.0,495.7 139.0,492.2 143.2,492.2 145.2,495.7 143.2,499.2 139.0,499.2"/>
<polygon points="155.6,472.8 157.6,469.3 161.8,469.3 163.8,472.8 161.8,476.3 157.6,476.3"/>
<polygon points="161.7,488.5 163.8,485.0 167.9,485.0 169.9,488.5 167.9,492.0 163.8,492.0"/>
<polygon points="84.2,572.6 86.2,569.1 90.3,569.1 92.4,572.6 90.3,576.1 86.2,576.1"/>
<polygon points="203.6,460.4 205.6,456.9 209.8,456.9 211.8,460.4 209.8,463.9 205.6,463.9"/>
<polygon points="97.6,562.4 99.7,558.9 103.8,558.9 105.8,562.4 103.8,565.9 99.7,565.9"/>
<polygon points="85.5,565.4 87.5,561.9 91.6,561.9 93.7,565.4 91.6,568.9 87.5,568.9"/>
<polygon points="87.3,552.7 89.4,549.2 93.5,549.2 95.5,552.7 93.5,556.2 89.4,556.2"/>
<polygon points="84.5,553.7 86.5,550.2 90.6,550.2 92.7,553.7 90.6,557.2 86.5,557.2"/>
<polygon points="157.4,457.2 159.4,453.7 163.6,453.7 165.6,457.2 163.6,460.7 159.4,460.7"/>
<polygon points="194.2,465.2 196.2,461.7 200.4,461.7 202.4,465.2 200.4,468.7 196.2,468.7"/>
<polygon points="222.0,436.8 224.0,433.3 228.2,433.3 230.2,436.8 228.2,440.3 224.0,440.3"/>
<polygon points="136.2,498.7 138.2,495.2 142.4,495.2 144.4,498.7 142.4,502.2 138.2,502.2"/>
<polygon points="128.3,549.0 130.3,545.5 134.5,545.5 136.5,549.0 134.5,552.5 130.3,552.5"/>
<polygon points="138.1,474.1 140.1,470.6 144.2,470.6 146.3,474.1 144.2,477.6 140.1,477.6"/>
<polygon points="87.4,550.4 89.5,546.9 93.5,546.9 95.6,550.4 93.5,553.9 89.5,553.9"/>
<polygon points="120.4,491.4 122.5,487.9 126.5,487.9 128.6,491.4 126.5,494.9 122.5,494.9"/>
<polygon points="123.0,475.5 125.0,472.0 129.2,472.0 131.2,475.5 129.2,479.0 125.0,479.0"/>
<polygon points="149.1,498.1 151.1,494.6 155.2,494.6 157.3,498.1 155.2,501.6 151.1,501.6"/>
<polygon points="166.7,502.2 168.8,498.7 172.9,498.7 174.9,502.2 172.9,505.7 168.8,505.7"/>
<polygon points="80.9,549.5 83.0,546.0 87.0,546.0 89.1,549.5 87.0,553.0 83.0,553.0"/>
<polygon points="90.6,549.5 92.7,546.0 96.8,546.0 98.8,549.5 96.8,553.0 92.7,553.0"/>
<polygon points="190.6,459.4 192.6,455.9 196.8,455.9 198.8,459.4 196.8,462.9 192.6,462.9"/>
<polygon points="189.5,452.1 191.5,448.6 195.7,448.6 197.7,452.1 195.7,455.6 191.5,455.6"/>
<polygon points="152.2,479.5 154.2,476.0 158.4,476.0 160.4,479.5 158.4,483.0 154.2,483.0"/>
<polygon points="149.8,526.0 151.8,522.5 156.0,522.5 158.0,526.0 156.0,529.5 151.8,529.5"/>
<polygon points="191.7,467.4 193.8,463.9 197.9,463.9 199.9,467.4 197.9,470.9 193.8,470.9"/>
<polygon points="181.0,465.3 183.0,461.8 187.2,461.8 189.2,465.3 187.2,468.8 183.0,468.8"/>
<polygon points="155.8,492.2 157.8,488.7 162.0,488.7 164.0,492.2 162.0,495.7 157.8,495.7"/>
<polygon points="145.1,461.9 147.1,458.4 151.2,458.4 153.3,461.9 151.2,465.4 147.1,465.4"/>
<polygon points="107.4,510.2 109.5,506.7 113.5,506.7 115.6,510.2 113.5,513.7 109.5,513.7"/>
<polygon points="224.8,440.9 226.8,437.4 231.0,437.4 233.0,440.9 231.0,444.4 226.8,444.4"/>
<polygon points="110.6,559.1 112.7,555.6 116.8,555.6 118.8,559.1 116.8,562.6 112.7,562.6"/>
<polygon points="124.0,550.2 126.0,546.7 130.2,546.7 132.2,550.2 130.2,553.7 126.0,553.7"/>
<polygon points="206.8,438.9 208.8,435.4 213.0,435.4 215.0,438.9 213.0,442.4 208.8,442.4"/>
<polygon points="131.1,486.5 133.1,483.0 137.2,483.0 139.3,486.5 137.2,490.0 133.1,490.0"/>
<polygon points="154.9,449.7 156.9,446.2 161.1,446.2 163.1,449.7 161.1,453.2 156.9,453.2"/>
<polygon points="189.9,490.1 191.9,486.6 196.1,486.6 198.1,490.1 196.1,493.6 191.9,493.6"/>
<polygon points="220.7,440.1 222.8,436.6 226.9,436.6 228.9,440.1 226.9,443.6 222.8,443.6"/>
<polygon points="121.1,534.6 123.2,531.1 127.2,531.1 129.3,534.6 127.2,538.1 123.2,538.1"/>
<polygon points="177.8,466.9 179.8,463.4 184.0,463.4 186.0,466.9 184.0,470.4 179.8,470.4"/>
<polygon points="162.2,481.3 164.2,477.8 168.4,477.8 170.4,481.3 168.4,484.8 164.2,484.8"/>
<polygon points="106.9,560.4 109.0,556.9 113.0,556.9 115.1,560.4 113.0,563.9 109.0,563.9"/>
<polygon points="192.7,484.2 194.8,480.7 198.9,480.7 200.9,484.2 198.9,487.7 194.8,487.7"/>
<polygon points="139.5,501.4 141.5,497.9 145.7,497.9 147.7,501.4 145.7,504.9 141.5,504.9"/>
<polygon points="133.7,472.7 135.8,469.2 139.9,469.2 141.9,472.7 139.9,476.2 135.8,476.2"/>
<polygon points="227.2,439.8 229.2,436.3 233.4,436.3 235.4,439.8 233.4,443.3 229.2,443.3"/>
<polygon points="153.7,517.7 155.8,514.2 159.9,514.2 161.9,517.7 159.9,521.2 155.8,521.2"/>
<polygon points="210.6,453.8 212.6,450.3 216.8,450.3 218.8,453.8 216.8,457.3 212.6,457.3"/>
<polygon points="212.2,423.8 214.2,420.3 218.4,420.3 220.4,423.8 218.4,427.3 214.2,427.3"/>
<polygon points="156.7,525.8 158.8,522.3 162.9,522.3 164.9,525.8 162.9,529.3 158.8,529.3"/>
<polygon points="146.4,505.6 148.4,502.1 152.6,502.1 154.6,505.6 152.6,509.1 148.4,509.1"/>
<polygon points="157.0,510.5 159.0,507.0 163.2,507.0 165.2,510.5 163.2,514.0 159.0,514.0"/>
<polygon points="152.9,524.6 154.9,521.1 159.1,521.1 161.1,524.6 159.1,528.1 154.9,528.1"/>
<polygon points="127.5,485.4 129.5,481.9 133.7,481.9 135.7,485.4 133.7,488.9 129.5,488.9"/>
<polygon points="182.1,451.0 184.1,447.5 188.2,447.5 190.3,451.0 188.2,454.5 184.1,454.5"/>
<polygon points="203.8,456.1 205.8,452.6 210.0,452.6 212.0,456.1 210.0,459.6 205.8,459.6"/>
<polygon points="109.1,537.9 111.2,534.4 115.2,534.4 117.3,537.9 115.2,541.4 111.2,541.4"/>
<polygon points="103.4,565.0 105.5,561.5 109.5,561.5 111.6,565.0 109.5,568.5 105.5,568.5"/>
<polygon points="179.2,478.9 181.2,475.4 185.4,475.4 187.4,478.9 185.4,482.4 181.2,482.4"/>
<polygon points="130.5,547.3 132.5,543.8 136.7,543.8 138.7,547.3 136.7,550.8 132.5,550.8"/>
<polygon points="216.0,425.1 218.0,421.6 222.2,421.6 224.2,425.1 222.2,428.6 218.0,428.6"/>
<polygon points="139.0,545.8 141.0,542.3 145.2,542.3 147.2,545.8 145.2,549.3 141.0,549.3"/>
<polygon points="115.5,531.1 117.5,527.6 121.6,527.6 123.7,531.1 121.6,534.6 117.5,534.6"/>
<polygon points="223.3,424.1 225.3,420.6 229.5,420.6 231.5,424.1 229.5,427.6 225.3,427.6"/>
<polygon points="135.2,459.2 137.2,455.7 141.4,455.7 143.4,459.2 141.4,462.7 137.2,462.7"/>
<polygon points="142.1,496.6 144.1,493.1 148.2,493.1 150.3,496.6 148.2,500.1 144.1,500.1"/>
<polygon points="170.1,471.0 172.1,467.5 176.2,467.5 178.3,471.0 176.2,474.5 172.1,474.5"/>
<polygon points="197.8,432.6 199.8,429.1 204.0,429.1 206.0,432.6 204.0,436.1 199.8,436.1"/>
<polygon points="105.2,536.7 107.2,533.2 111.3,533.2 113.4,536.7 111.3,540.2 107.2,540.2"/>
<polygon points="186.4,489.5 188.4,486.0 192.6,486.0 194.6,489.5 192.6,493.0 188.4,493.0"/>
<polygon points="179.2,439.1 181.2,435.6 185.4,435.6 187.4,439.1 185.4,442.6 181.2,442.6"/>
<polygon points="207.1,465.8 209.1,462.3 213.2,462.3 215.3,465.8 213.2,469.3 209.1,469.3"/>
<polygon points="163.7,478.0 165.8,474.5 169.9,474.5 171.9,478.0 169.9,481.5 165.8,481.5"/>
<polygon points="98.3,557.0 100.4,553.5 104.5,553.5 106.5,557.0 104.5,560.5 100.4,560.5"/>
<polygon points="165.5,470.8 167.5,467.3 171.7,467.3 173.7,470.8 171.7,474.3 167.5,474.3"/>
<polygon points="154.3,456.1 156.3,452.6 160.5,452.6 162.5,456.1 160.5,459.6 156.3,459.6"/>
<polygon points="115.1,540.6 117.2,537.1 121.2,537.1 123.3,540.6 121.2,544.1 117.2,544.1"/>
<polygon points="114.4,513.0 116.5,509.5 120.5,509.5 122.6,513.0 120.5,516.5 116.5,516.5"/>
<polygon points="177.2,451.8 179.2,448.3 183.4,448.3 185.4,451.8 183.4,455.3 179.2,455.3"/>
<polygon points="136.6,505.4 138.6,501.9 142.8,501.9 144.8,505.4 142.8,508.9 138.6,508.9"/>
<polygon points="99.9,527.8 102.0,524.3 106.0,524.3 108.1,527.8 106.0,531.3 102.0,531.3"/>
<polygon points="138.9,464.2 140.9,460.7 145.1,460.7 147.1,464.2 145.1,467.7 140.9,467.7"/>
<polygon points="123.4,507.9 125.5,504.4 129.6,504.4 131.6,507.9 129.6,511.4 125.5,511.4"/>
<polygon points="74.9,559.7 77.0,556.2 81.0,556.2 83.1,559.7 81.0,563.2 77.0,563.2"/>
<polygon points="132.7,498.3 134.8,494.8 138.9,494.8 140.9,498.3 138.9,501.8 134.8,501.8"/>
<polygon points="198.4,454.7 200.4,451.2 204.6,451.2 206.6,454.7 204.6,458.2 200.4,458.2"/>
<polygon points="205.3,448.7 207.3,445.2 211.5,445.2 213.5,448.7 211.5,452.2 207.3,452.2"/>
<polygon points="156.0,479.7 158.0,476.2 162.2,476.2 164.2,479.7 162.2,483.2 158.0,483.2"/>
<polygon points="173.3,467.7 175.3,464.2 179.5,464.2 181.5,467.7 179.5,471.2 175.3,471.2"/>
<polygon points="140.5,510.4 142.5,506.9 146.7,506.9 148.7,510.4 146.7,513.9 142.5,513.9"/>
<polygon points="141.4,522.2 143.4,518.7 147.6,518.7 149.6,522.2 147.6,525.7 143.4,525.7"/>
<polygon points="144.7,488.1 146.8,484.6 150.9,484.6 152.9,488.1 150.9,491.6 146.8,491.6"/>
<polygon points="151.5,456.7 153.5,453.2 157.7,453.2 159.7,456.7 157.7,460.2 153.5,460.2"/>
<polygon points="219.0,445.9 221.0,442.4 225.2,442.4 227.2,445.9 225.2,449.4 221.0,449.4"/>
<polygon points="193.7,444.9 195.8,441.4 199.9,441.4 201.9,444.9 199.9,448.4 195.8,448.4"/>
<polygon points="203.1,442.6 205.1,439.1 209.2,439.1 211.3,442.6 209.2,446.1 205.1,446.1"/>
<polygon points="154.1,469.7 156.1,466.2 160.2,466.2 162.3,469.7 160.2,473.2 156.1,473.2"/>
<polygon points="99.5,565.1 101.5,561.6 105.6,561.6 107.7,565.1 105.6,568.6 101.5,568.6"/>
<polygon points="173.7,481.3 175.8,477.8 179.9,477.8 181.9,481.3 179.9,484.8 175.8,484.8"/>
<polygon points="200.3,461.3 202.3,457.8 206.5,457.8 208.5,461.3 206.5,464.8 202.3,464.8"/>
<polygon points="131.0,538.5 133.0,535.0 137.2,535.0 139.2,538.5 137.2,542.0 133.0,542.0"/>
<polygon points="191.7,427.9 193.8,424.4 197.9,424.4 199.9,427.9 197.9,431.4 193.8,431.4"/>
<polygon points="171.5,487.2 173.5,483.7 177.7,483.7 179.7,487.2 177.7,490.7 173.5,490.7"/>
<polygon points="167.3,451.9 169.3,448.4 173.5,448.4 175.5,451.9 173.5,455.4 169.3,455.4"/>
<polygon points="172.8,493.8 174.8,490.3 179.0,490.3 181.0,493.8 179.0,497.3 174.8,497.3"/>
<polygon points="95.3,565.1 97.4,561.6 101.5,561.6 103.5,565.1 101.5,568.6 97.4,568.6"/>
<polygon points="137.6,461.2 139.6,457.7 143.8,457.7 145.8,461.2 143.8,464.7 139.6,464.7"/>
<polygon points="163.0,474.5 165.0,471.0 169.2,471.0 171.2,474.5 169.2,478.0 165.0,478.0"/>
<polygon points="176.2,489.0 178.2,485.5 182.4,485.5 184.4,489.0 182.4,492.5 178.2,492.5"/>
<polygon points="113.3,560.0 115.4,556.5 119.5,556.5 121.5,560.0 119.5,563.5 115.4,563.5"/>
<polygon points="222.9,442.4 224.9,438.9 229.1,438.9 231.1,442.4 229.1,445.9 224.9,445.9"/>
<polygon points="202.8,447.4 204.8,443.9 209.0,443.9 211.0,447.4 209.0,450.9 204.8,450.9"/>
<polygon points="81.7,557.8 83.8,554.3 87.8,554.3 89.9,557.8 87.8,561.3 83.8,561.3"/>
<polygon points="127.1,536.2 129.1,532.7 133.2,532.7 135.3,536.2 133.2,539.7 129.1,539.7"/>
<polygon points="186.7,461.5 188.8,458.0 192.9,458.0 194.9,461.5 192.9,465.0 188.8,465.0"/>
<polygon points="116.0,519.6 118.0,516.1 122.1,516.1 124.2,519.6 122.1,523.1 118.0,523.1"/>
<polygon points="192.1,470.9 194.1,467.4 198.2,467.4 200.3,470.9 198.2,474.4 194.1,474.4"/>
<polygon points="143.2,532.4 145.2,528.9 149.4,528.9 151.4,532.4 149.4,535.9 145.2,535.9"/>
<polygon points="164.3,467.9 166.3,464.4 170.5,464.4 172.5,467.9 170.5,471.4 166.3,471.4"/>
<polygon points="107.6,516.6 109.7,513.1 113.8,513.1 115.8,516.6 113.8,520.1 109.7,520.1"/>
<polygon points="86.3,561.1 88.4,557.6 92.5,557.6 94.5,561.1 92.5,564.6 88.4,564.6"/>
<polygon points="90.9,563.9 93.0,560.4 97.0,560.4 99.1,563.9 97.0,567.4 93.0,567.4"/>
<polygon points="174.0,464.8 176.0,461.3 180.2,461.3 182.2,464.8 180.2,468.3 176.0,468.3"/>
<polygon points="193.9,452.1 195.9,448.6 200.1,448.6 202.1,452.1 200.1,455.6 195.9,455.6"/>
<polygon points="124.5,485.9 126.5,482.4 130.7,482.4 132.7,485.9 130.7,489.4 126.5,489.4"/>
<polygon points="118.7,531.0 120.8,527.5 124.8,527.5 126.9,531.0 124.8,534.5 120.8,534.5"/>
<polygon points="143.1,539.8 145.1,536.3 149.2,536.3 151.3,539.8 149.2,543.3 145.1,543.3"/>
<polygon points="128.9,529.3 130.9,525.8 135.1,525.8 137.1,529.3 135.1,532.8 130.9,532.8"/>
<polygon points="210.5,434.4 212.5,430.9 216.7,430.9 218.7,434.4 216.7,437.9 212.5,437.9"/>
<polygon points="184.7,497.4 186.8,493.9 190.9,493.9 192.9,497.4 190.9,500.9 186.8,500.9"/>
<polygon points="86.8,542.1 88.9,538.6 93.0,538.6 95.0,542.1 93.0,545.6 88.9,545.6"/>
<polygon points="173.4,475.3 175.4,471.8 179.6,471.8 181.6,475.3 179.6,478.8 175.4,478.8"/>
<polygon points="215.0,433.7 217.0,430.2 221.2,430.2 223.2,433.7 221.2,437.2 217.0,437.2"/>
<polygon points="111.0,491.6 113.0,488.1 117.1,488.1 119.2,491.6 117.1,495.1 113.0,495.1"/>
<polygon points="98.6,550.7 100.7,547.2 104.8,547.2 106.8,550.7 104.8,554.2 100.7,554.2"/>
<polygon points="156.7,445.3 158.8,441.8 162.9,441.8 164.9,445.3 162.9,448.8 158.8,448.8"/>
<polygon points="90.1,569.1 92.2,565.6 96.2,565.6 98.3,569.1 96.2,572.6 92.2,572.6"/>
<polygon points="190.1,487.6 192.1,484.1 196.2,484.1 198.3,487.6 196.2,491.1 192.1,491.1"/>
<polygon points="105.1,519.0 107.2,515.5 111.2,515.5 113.3,519.0 111.2,522.5 107.2,522.5"/>
<polygon points="137.2,542.6 139.2,539.1 143.4,539.1 145.4,542.6 143.4,546.1 139.2,546.1"/>
<polygon points="174.1,492.0 176.1,488.5 180.2,488.5 182.3,492.0 180.2,495.5 176.1,495.5"/>
<polygon points="138.1,534.9 140.1,531.4 144.2,531.4 146.3,534.9 144.2,538.4 140.1,538.4"/>
<polygon points="140.7,455.7 142.8,452.2 146.9,452.2 148.9,455.7 146.9,459.2 142.8,459.2"/>
<polygon points="123.6,517.5 125.7,514.0 129.8,514.0 131.8,517.5 129.8,521.0 125.7,521.0"/>
<polygon points="173.7,459.0 175.8,455.5 179.9,455.5 181.9,459.0 179.9,462.5 175.8,462.5"/>
<polygon points="141.1,490.7 143.1,487.2 147.2,487.2 149.3,490.7 147.2,494.2 143.1,494.2"/>
<polygon points="172.4,483.6 174.4,480.1 178.6,480.1 180.6,483.6 178.6,487.1 174.4,487.1"/>
<polygon points="103.0,521.5 105.0,518.0 109.1,518.0 111.2,521.5 109.1,525.0 105.0,525.0"/>
<polygon points="197.2,480.5 199.2,477.0 203.4,477.0 205.4,480.5 203.4,484.0 199.2,484.0"/>
<polygon points="159.6,531.2 161.6,527.7 165.8,527.7 167.8,531.2 165.8,534.7 161.6,534.7"/>
<polygon points="107.3,526.1 109.4,522.6 113.5,522.6 115.5,526.1 113.5,529.6 109.4,529.6"/>
<polygon points="136.1,538.2 138.1,534.7 142.2,534.7 144.3,538.2 142.2,541.7 138.1,541.7"/>
<polygon points="140.6,528.3 142.6,524.8 146.8,524.8 148.8,528.3 146.8,531.8 142.6,531.8"/>
<polygon points="109.5,535.0 111.5,531.5 115.6,531.5 117.7,535.0 115.6,538.5 111.5,538.5"/>
<polygon points="108.7,544.2 110.8,540.7 114.8,540.7 116.9,544.2 114.8,547.7 110.8,547.7"/>
<polygon points="94.5,540.4 96.5,536.9 100.6,536.9 102.7,540.4 100.6,543.9 96.5,543.9"/>
<polygon points="148.3,507.2 150.3,503.7 154.5,503.7 156.5,507.2 154.5,510.7 150.3,510.7"/>
<polygon points="129.9,519.1 131.9,515.6 136.1,515.6 138.1,519.1 136.1,522.6 131.9,522.6"/>
<polygon points="208.7,461.7 210.8,458.2 214.9,458.2 216.9,461.7 214.9,465.2 210.8,465.2"/>
<polygon points="141.8,518.9 143.8,515.4 148.0,515.4 150.0,518.9 148.0,522.4 143.8,522.4"/>
<polygon points="178.4,476.4 180.4,472.9 184.6,472.9 186.6,476.4 184.6,479.9 180.4,479.9"/>
<polygon points="83.0,548.3 85.0,544.8 89.1,544.8 91.2,548.3 89.1,551.8 85.0,551.8"/>
<polygon points="177.8,459.0 179.8,455.5 184.0,455.5 186.0,459.0 184.0,462.5 179.8,462.5"/>
<polygon points="111.0,540.3 113.0,536.8 117.1,536.8 119.2,540.3 117.1,543.8 113.0,543.8"/>
<polygon points="100.6,558.1 102.7,554.6 106.8,554.6 108.8,558.1 106.8,561.6 102.7,561.6"/>
<polygon points="105.2,527.4 107.2,523.9 111.3,523.9 113.4,527.4 111.3,530.9 107.2,530.9"/>
<polygon points="158.0,535.0 160.0,531.5 164.2,531.5 166.2,535.0 164.2,538.5 160.0,538.5"/>
<polygon points="161.9,461.3 163.9,457.8 168.1,457.8 170.1,461.3 168.1,464.8 163.9,464.8"/>
<polygon points="151.8,497.4 153.8,493.9 158.0,493.9 160.0,497.4 158.0,500.9 153.8,500.9"/>
<polygon points="133.4,485.1 135.4,481.6 139.6,481.6 141.6,485.1 139.6,488.6 135.4,488.6"/>
<polygon points="226.1,432.0 228.1,428.5 232.2,428.5 234.3,432.0 232.2,435.5 228.1,435.5"/>
<polygon points="154.8,495.3 156.8,491.8 161.0,491.8 163.0,495.3 161.0,498.8 156.8,498.8"/>
<polygon points="127.6,553.5 129.6,550.0 133.8,550.0 135.8,553.5 133.8,557.0 129.6,557.0"/>
<polygon points="132.0,493.7 134.0,490.2 138.2,490.2 140.2,493.7 138.2,497.2 134.0,497.2"/>
<polygon points="140.9,506.0 142.9,502.5 147.1,502.5 149.1,506.0 147.1,509.5 142.9,509.5"/>
<polygon points="126.4,469.4 128.4,465.9 132.6,465.9 134.6,469.4 132.6,472.9 128.4,472.9"/>
<polygon points="121.4,511.0 123.5,507.5 127.5,507.5 129.6,511.0 127.5,514.5 123.5,514.5"/>
<polygon points="181.8,453.2 183.8,449.7 188.0,449.7 190.0,453.2 188.0,456.7 183.8,456.7"/>
<polygon points="179.6,491.1 181.6,487.6 185.8,487.6 187.8,491.1 185.8,494.6 181.6,494.6"/>
<polygon points="194.7,436.1 196.8,432.6 200.9,432.6 202.9,436.1 200.9,439.6 196.8,439.6"/>
<polygon points="121.8,485.6 123.9,482.1 128.0,482.1 130.0,485.6 128.0,489.1 123.9,489.1"/>
<polygon points="93.3,569.7 95.4,566.2 99.5,566.2 101.5,569.7 99.5,573.2 95.4,573.2"/>
<polygon points="187.9,457.8 189.9,454.3 194.1,454.3 196.1,457.8 194.1,461.3 189.9,461.3"/>
<polygon points="190.1,449.4 192.1,445.9 196.2,445.9 198.3,449.4 196.2,452.9 192.1,452.9"/>
<polygon points="189.5,433.4 191.5,429.9 195.7,429.9 197.7,433.4 195.7,436.9 191.5,436.9"/>
<polygon points="203.4,432.7 205.4,429.2 209.6,429.2 211.6,432.7 209.6,436.2 205.4,436.2"/>
<polygon points="123.2,533.1 125.2,529.6 129.3,529.6 131.4,533.1 129.3,536.6 125.2,536.6"/>
<polygon points="100.3,553.4 102.4,549.9 106.5,549.9 108.5,553.4 106.5,556.9 102.4,556.9"/>
<polygon points="143.4,525.0 145.4,521.5 149.6,521.5 151.6,525.0 149.6,528.5 145.4,528.5"/>
<polygon points="96.9,543.6 99.0,540.1 103.0,540.1 105.1,543.6 103.0,547.1 99.0,547.1"/>
<polygon points="135.1,541.9 137.1,538.4 141.2,538.4 143.3,541.9 141.2,545.4 137.1,545.4"/>
<polygon points="163.7,465.6 165.8,462.1 169.9,462.1 171.9,465.6 169.9,469.1 165.8,469.1"/>
<polygon points="126.6,514.0 128.6,510.5 132.8,510.5 134.8,514.0 132.8,517.5 128.6,517.5"/>
<polygon points="169.2,468.1 171.2,464.6 175.4,464.6 177.4,468.1 175.4,471.6 171.2,471.6"/>
<polygon points="133.6,526.2 135.6,522.7 139.8,522.7 141.8,526.2 139.8,529.7 135.6,529.7"/>
<polygon points="201.8,464.2 203.8,460.7 208.0,460.7 210.0,464.2 208.0,467.7 203.8,467.7"/>
<polygon points="164.5,462.7 166.5,459.2 170.7,459.2 172.7,462.7 170.7,466.2 166.5,466.2"/>
<polygon points="114.3,536.5 116.4,533.0 120.5,533.0 122.5,536.5 120.5,540.0 116.4,540.0"/>
<polygon points="87.9,545.0 90.0,541.5 94.0,541.5 96.1,545.0 94.0,548.5 90.0,548.5"/>
<polygon points="196.2,456.4 198.2,452.9 202.4,452.9 204.4,456.4 202.4,459.9 198.2,459.9"/>
<polygon points="149.4,511.5 151.4,508.0 155.6,508.0 157.6,511.5 155.6,515.0 151.4,515.0"/>
<polygon points="102.6,528.7 104.7,525.2 108.8,525.2 110.8,528.7 108.8,532.2 104.7,532.2"/>
<polygon points="198.6,444.5 200.6,441.0 204.8,441.0 206.8,444.5 204.8,448.0 200.6,448.0"/>
<polygon points="168.5,473.7 170.5,470.2 174.7,470.2 176.7,473.7 174.7,477.2 170.5,477.2"/>
<polygon points="79.3,573.4 81.4,569.9 85.5,569.9 87.5,573.4 85.5,576.9 81.4,576.9"/>
<polygon points="218.0,430.3 220.0,426.8 224.2,426.8 226.2,430.3 224.2,433.8 220.0,433.8"/>
<polygon points="168.7,481.8 170.8,478.3 174.9,478.3 176.9,481.8 174.9,485.3 170.8,485.3"/>
<polygon points="114.7,507.6 116.8,504.1 120.8,504.1 122.9,507.6 120.8,511.1 116.8,511.1"/>
<polygon points="180.0,481.1 182.0,477.6 186.2,477.6 188.2,481.1 186.2,484.6 182.0,484.6"/>
<polygon points="206.5,427.7 208.5,424.2 212.7,424.2 214.7,427.7 212.7,431.2 208.5,431.2"/>
<polygon points="187.5,450.5 189.5,447.0 193.7,447.0 195.7,450.5 193.7,454.0 189.5,454.0"/>
<polygon points="79.7,563.7 81.8,560.2 85.8,560.2 87.9,563.7 85.8,567.2 81.8,567.2"/>
<polygon points="173.4,442.5 175.4,439.0 179.6,439.0 181.6,442.5 179.6,446.0 175.4,446.0"/>
<polygon points="96.9,554.9 99.0,551.4 103.0,551.4 105.1,554.9 103.0,558.4 99.0,558.4"/>
<polygon points="215.9,429.3 217.9,425.8 222.1,425.8 224.1,429.3 222.1,432.8 217.9,432.8"/>
<polygon points="201.8,473.1 203.8,469.6 208.0,469.6 210.0,473.1 208.0,476.6 203.8,476.6"/>
<polygon points="190.0,483.5 192.0,480.0 196.2,480.0 198.2,483.5 196.2,487.0 192.0,487.0"/>
<polygon points="188.2,429.0 190.2,425.5 194.4,425.5 196.4,429.0 194.4,432.5 190.2,432.5"/>
<polygon points="103.5,548.9 105.5,545.4 109.6,545.4 111.7,548.9 109.6,552.4 105.5,552.4"/>
<polygon points="132.8,512.3 134.8,508.8 139.0,508.8 141.0,512.3 139.0,515.8 134.8,515.8"/>
<polygon points="144.6,500.1 146.6,496.6 150.8,496.6 152.8,500.1 150.8,503.6 146.6,503.6"/>
<polygon points="93.1,530.8 95.2,527.3 99.2,527.3 101.3,530.8 99.2,534.3 95.2,534.3"/>
<polygon points="124.8,530.3 126.9,526.8 131.0,526.8 133.0,530.3 131.0,533.8 126.9,533.8"/>
<polygon points="134.4,536.5 136.4,533.0 140.6,533.0 142.6,536.5 140.6,540.0 136.4,540.0"/>
<polygon points="113.6,546.7 115.7,543.2 119.8,543.2 121.8,546.7 119.8,550.2 115.7,550.2"/>
<polygon points="184.6,450.5 186.6,447.0 190.8,447.0 192.8,450.5 190.8,454.0 186.6,454.0"/>
<polygon points="185.2,436.3 187.2,432.8 191.4,432.8 193.4,436.3 191.4,439.8 187.2,439.8"/>
<polygon points="197.0,472.7 199.0,469.2 203.2,469.2 205.2,472.7 203.2,476.2 199.0,476.2"/>
<polygon points="175.6,461.5 177.6,458.0 181.8,458.0 183.8,461.5 181.8,465.0 177.6,465.0"/>
<polygon points="181.4,462.6 183.4,459.1 187.6,459.1 189.6,462.6 187.6,466.1 183.4,466.1"/>
<polygon points="156.4,487.4 158.4,483.9 162.6,483.9 164.6,487.4 162.6,490.9 158.4,490.9"/>
<polygon points="122.3,520.4 124.4,516.9 128.5,516.9 130.5,520.4 128.5,523.9 124.4,523.9"/>
<polygon points="120.5,483.2 122.5,479.7 126.6,479.7 128.7,483.2 126.6,486.7 122.5,486.7"/>
<polygon points="105.8,530.2 107.9,526.7 112.0,526.7 114.0,530.2 112.0,533.7 107.9,533.7"/>
<polygon points="134.7,510.9 136.8,507.4 140.9,507.4 142.9,510.9 140.9,514.4 136.8,514.4"/>
<polygon points="210.4,457.3 212.4,453.8 216.6,453.8 218.6,457.3 216.6,460.8 212.4,460.8"/>
<polygon points="162.1,496.3 164.1,492.8 168.2,492.8 170.3,496.3 168.2,499.8 164.1,499.8"/>
<polygon points="120.8,539.7 122.9,536.2 127.0,536.2 129.0,539.7 127.0,543.2 122.9,543.2"/>
<polygon points="129.8,524.7 131.8,521.2 136.0,521.2 138.0,524.7 136.0,528.2 131.8,528.2"/>
<polygon points="164.5,485.0 166.5,481.5 170.7,481.5 172.7,485.0 170.7,488.5 166.5,488.5"/>
<polygon points="170.1,479.0 172.1,475.5 176.2,475.5 178.3,479.0 176.2,482.5 172.1,482.5"/>
<polygon points="145.6,491.1 147.6,487.6 151.8,487.6 153.8,491.1 151.8,494.6 147.6,494.6"/>
<polygon points="153.1,489.0 155.1,485.5 159.2,485.5 161.3,489.0 159.2,492.5 155.1,492.5"/>
<polygon points="155.9,500.3 157.9,496.8 162.1,496.8 164.1,500.3 162.1,503.8 157.9,503.8"/>
<polygon points="182.5,480.6 184.5,477.1 188.7,477.1 190.7,480.6 188.7,484.1 184.5,484.1"/>
<polygon points="143.7,516.9 145.8,513.4 149.9,513.4 151.9,516.9 149.9,520.4 145.8,520.4"/>
<polygon points="122.6,527.1 124.7,523.6 128.8,523.6 130.8,527.1 128.8,530.6 124.7,530.6"/>
<polygon points="179.8,450.8 181.8,447.3 186.0,447.3 188.0,450.8 186.0,454.3 181.8,454.3"/>
<polygon points="152.8,505.9 154.8,502.4 159.0,502.4 161.0,505.9 159.0,509.4 154.8,509.4"/>
<polygon points="196.0,470.3 198.0,466.8 202.2,466.8 204.2,470.3 202.2,473.8 198.0,473.8"/>
<polygon points="187.3,475.1 189.3,471.6 193.5,471.6 195.5,475.1 193.5,478.6 189.3,478.6"/>
<polygon points="89.7,560.0 91.8,556.5 95.8,556.5 97.9,560.0 95.8,563.5 91.8,563.5"/>
<polygon points="166.2,474.3 168.2,470.8 172.4,470.8 174.4,474.3 172.4,477.8 168.2,477.8"/>
<polygon points="145.2,480.0 147.2,476.5 151.4,476.5 153.4,480.0 151.4,483.5 147.2,483.5"/>
<polygon points="203.2,467.3 205.2,463.8 209.4,463.8 211.4,467.3 209.4,470.8 205.2,470.8"/>
<polygon points="187.7,454.6 189.8,451.1 193.9,451.1 195.9,454.6 193.9,458.1 189.8,458.1"/>
<polygon points="122.9,555.6 125.0,552.1 129.1,552.1 131.1,555.6 129.1,559.1 125.0,559.1"/>
<polygon points="158.5,480.0 160.5,476.5 164.7,476.5 166.7,480.0 164.7,483.5 160.5,483.5"/>
<polygon points="93.5,548.0 95.5,544.5 99.6,544.5 101.7,548.0 99.6,551.5 95.5,551.5"/>
<polygon points="179.2,473.1 181.2,469.6 185.4,469.6 187.4,473.1 185.4,476.6 181.2,476.6"/>
<polygon points="201.4,445.0 203.4,441.5 207.6,441.5 209.6,445.0 207.6,448.5 203.4,448.5"/>
<polygon points="129.9,532.0 131.9,528.5 136.1,528.5 138.1,532.0 136.1,535.5 131.9,535.5"/>
<polygon points="170.3,453.2 172.3,449.7 176.5,449.7 178.5,453.2 176.5,456.7 172.3,456.7"/>
<polygon points="212.1,439.4 214.1,435.9 218.2,435.9 220.3,439.4 218.2,442.9 214.1,442.9"/>
<polygon points="155.2,504.2 157.2,500.7 161.4,500.7 163.4,504.2 161.4,507.7 157.2,507.7"/>
<polygon points="102.0,551.9 104.0,548.4 108.1,548.4 110.2,551.9 108.1,555.4 104.0,555.4"/>
<polygon points="124.8,522.8 126.9,519.3 131.0,519.3 133.0,522.8 131.0,526.3 126.9,526.3"/>
<polygon points="184.7,458.8 186.8,455.3 190.9,455.3 192.9,458.8 190.9,462.3 186.8,462.3"/>
<polygon points="92.2,561.4 94.2,557.9 98.3,557.9 100.4,561.4 98.3,564.9 94.2,564.9"/>
<polygon points="91.6,542.7 93.7,539.2 97.8,539.2 99.8,542.7 97.8,546.2 93.7,546.2"/>
<polygon points="141.8,499.5 143.8,496.0 148.0,496.0 150.0,499.5 148.0,503.0 143.8,503.0"/>
<polygon points="115.3,504.8 117.4,501.3 121.5,501.3 123.5,504.8 121.5,508.3 117.4,508.3"/>
<polygon points="160.1,459.0 162.1,455.5 166.2,455.5 168.3,459.0 166.2,462.5 162.1,462.5"/>
<polygon points="126.8,546.4 128.8,542.9 133.0,542.9 135.0,546.4 133.0,549.9 128.8,549.9"/>
<polygon points="100.8,523.4 102.9,519.9 107.0,519.9 109.0,523.4 107.0,526.9 102.9,526.9"/>
<polygon points="168.8,491.7 170.8,488.2 175.0,488.2 177.0,491.7 175.0,495.2 170.8,495.2"/>
<polygon points="125.4,492.8 127.5,489.3 131.6,489.3 133.6,492.8 131.6,496.3 127.5,496.3"/>
<polygon points="204.6,469.9 206.6,466.4 210.8,466.4 212.8,469.9 210.8,473.4 206.6,473.4"/>
<polygon points="132.3,505.6 134.3,502.1 138.5,502.1 140.5,505.6 138.5,509.1 134.3,509.1"/>
<polygon points="132.5,548.9 134.5,545.4 138.7,545.4 140.7,548.9 138.7,552.4 134.5,552.4"/>
<polygon points="182.9,445.7 184.9,442.2 189.1,442.2 191.1,445.7 189.1,449.2 184.9,449.2"/>
<polygon points="118.8,522.6 120.9,519.1 125.0,519.1 127.0,522.6 125.0,526.1 120.9,526.1"/>
<polygon points="120.8,488.9 122.9,485.4 127.0,485.4 129.0,488.9 127.0,492.4 122.9,492.4"/>
<polygon points="202.4,429.7 204.4,426.2 208.6,426.2 210.6,429.7 208.6,433.2 204.4,433.2"/>
<polygon points="121.0,508.6 123.0,505.1 127.1,505.1 129.2,508.6 127.1,512.1 123.0,512.1"/>
<polygon points="181.4,489.5 183.4,486.0 187.6,486.0 189.6,489.5 187.6,493.0 183.4,493.0"/>
<polygon points="91.8,553.6 93.9,550.1 98.0,550.1 100.0,553.6 98.0,557.1 93.9,557.1"/>
<polygon points="109.9,508.9 112.0,505.4 116.0,505.4 118.1,508.9 116.0,512.4 112.0,512.4"/>
<polygon points="196.7,441.5 198.8,438.0 202.9,438.0 204.9,441.5 202.9,445.0 198.8,445.0"/>
<polygon points="196.9,429.3 198.9,425.8 203.1,425.8 205.1,429.3 203.1,432.8 198.9,432.8"/>
<polygon points="186.0,486.2 188.0,482.7 192.2,482.7 194.2,486.2 192.2,489.7 188.0,489.7"/>
<polygon points="100.6,535.6 102.7,532.1 106.8,532.1 108.8,535.6 106.8,539.1 102.7,539.1"/>
<polygon points="128.0,538.4 130.0,534.9 134.2,534.9 136.2,538.4 134.2,541.9 130.0,541.9"/>
<polygon points="180.9,459.7 182.9,456.2 187.1,456.2 189.1,459.7 187.1,463.2 182.9,463.2"/>
<polygon points="103.3,506.0 105.4,502.5 109.5,502.5 111.5,506.0 109.5,509.5 105.4,509.5"/>
<polygon points="119.9,526.6 122.0,523.1 126.0,523.1 128.1,526.6 126.0,530.1 122.0,530.1"/>
<polygon points="200.7,425.9 202.8,422.4 206.9,422.4 208.9,425.9 206.9,429.4 202.8,429.4"/>
<polygon points="108.2,558.5 110.2,555.0 114.3,555.0 116.4,558.5 114.3,562.0 110.2,562.0"/>
<polygon points="148.0,509.6 150.0,506.1 154.2,506.1 156.2,509.6 154.2,513.1 150.0,513.1"/>
<polygon points="150.2,477.1 152.2,473.6 156.4,473.6 158.4,477.1 156.4,480.6 152.2,480.6"/>
<polygon points="75.1,555.0 77.2,551.5 81.2,551.5 83.3,555.0 81.2,558.5 77.2,558.5"/>
<polygon points="185.5,454.1 187.5,450.6 191.7,450.6 193.7,454.1 191.7,457.6 187.5,457.6"/>
<polygon points="176.7,483.0 178.8,479.5 182.9,479.5 184.9,483.0 182.9,486.5 178.8,486.5"/>
<polygon points="181.5,472.6 183.5,469.1 187.7,469.1 189.7,472.6 187.7,476.1 183.5,476.1"/>
<polygon points="127.0,496.8 129.0,493.3 133.2,493.3 135.2,496.8 133.2,500.3 129.0,500.3"/>
<polygon points="230.3,429.1 232.3,425.6 236.5,425.6 238.5,429.1 236.5,432.6 232.3,432.6"/>
<polygon points="159.3,511.3 161.3,507.8 165.5,507.8 167.5,511.3 165.5,514.8 161.3,514.8"/>
<polygon points="196.8,468.2 198.8,464.7 203.0,464.7 205.0,468.2 203.0,471.7 198.8,471.7"/>
<polygon points="196.6,476.4 198.6,472.9 202.8,472.9 204.8,476.4 202.8,479.9 198.6,479.9"/>
<polygon points="115.5,487.4 117.5,483.9 121.6,483.9 123.7,487.4 121.6,490.9 117.5,490.9"/>
<polygon points="118.7,471.6 120.8,468.1 124.8,468.1 126.9,471.6 124.8,475.1 120.8,475.1"/>
<polygon points="131.0,540.9 133.0,537.4 137.2,537.4 139.2,540.9 137.2,544.4 133.0,544.4"/>
<polygon points="210.7,448.6 212.8,445.1 216.9,445.1 218.9,448.6 216.9,452.1 212.8,452.1"/>
<polygon points="97.9,534.1 100.0,530.6 104.0,530.6 106.1,534.1 104.0,537.6 100.0,537.6"/>
<polygon points="182.1,434.3 184.1,430.8 188.2,430.8 190.3,434.3 188.2,437.8 184.1,437.8"/>
<polygon points="111.1,542.8 113.2,539.3 117.2,539.3 119.3,542.8 117.2,546.3 113.2,546.3"/>
<polygon points="102.3,526.3 104.4,522.8 108.5,522.8 110.5,526.3 108.5,529.8 104.4,529.8"/>
<polygon points="130.0,497.1 132.0,493.6 136.2,493.6 138.2,497.1 136.2,500.6 132.0,500.6"/>
<polygon points="138.6,506.4 140.6,502.9 144.8,502.9 146.8,506.4 144.8,509.9 140.6,509.9"/>
<polygon points="160.1,505.2 162.1,501.7 166.2,501.7 168.3,505.2 166.2,508.7 162.1,508.7"/>
<polygon points="135.3,479.9 137.3,476.4 141.5,476.4 143.5,479.9 141.5,483.4 137.3,483.4"/>
<polygon points="217.8,428.0 219.8,424.5 224.0,424.5 226.0,428.0 224.0,431.5 219.8,431.5"/>
<polygon points="183.9,470.5 185.9,467.0 190.1,467.0 192.1,470.5 190.1,474.0 185.9,474.0"/>
<polygon points="111.1,517.7 113.2,514.2 117.2,514.2 119.3,517.7 117.2,521.2 113.2,521.2"/>
<polygon points="191.7,478.9 193.8,475.4 197.9,475.4 199.9,478.9 197.9,482.4 193.8,482.4"/>
<polygon points="186.7,481.2 188.8,477.7 192.9,477.7 194.9,481.2 192.9,484.7 188.8,484.7"/>
<polygon points="181.2,470.2 183.2,466.7 187.4,466.7 189.4,470.2 187.4,473.7 183.2,473.7"/>
<polygon points="109.3,515.0 111.4,511.5 115.5,511.5 117.5,515.0 115.5,518.5 111.4,518.5"/>
<polygon points="148.9,531.9 150.9,528.4 155.1,528.4 157.1,531.9 155.1,535.4 150.9,535.4"/>
<polygon points="101.3,547.4 103.4,543.9 107.5,543.9 109.5,547.4 107.5,550.9 103.4,550.9"/>
<polygon points="146.9,519.4 148.9,515.9 153.1,515.9 155.1,519.4 153.1,522.9 148.9,522.9"/>
<polygon points="211.4,427.1 213.4,423.6 217.6,423.6 219.6,427.1 217.6,430.6 213.4,430.6"/>
<polygon points="203.5,439.4 205.5,435.9 209.7,435.9 211.7,439.4 209.7,442.9 205.5,442.9"/>
<polygon points="184.0,489.8 186.0,486.3 190.2,486.3 192.2,489.8 190.2,493.3 186.0,493.3"/>
<polygon points="181.7,477.1 183.8,473.6 187.9,473.6 189.9,477.1 187.9,480.6 183.8,480.6"/>
<polygon points="206.0,434.5 208.0,431.0 212.2,431.0 214.2,434.5 212.2,438.0 208.0,438.0"/>
<polygon points="144.1,477.1 146.1,473.6 150.2,473.6 152.3,477.1 150.2,480.6 146.1,480.6"/>
<polygon points="186.8,466.0 188.8,462.5 193.0,462.5 195.0,466.0 193.0,469.5 188.8,469.5"/>
<polygon points="138.6,520.5 140.6,517.0 144.8,517.0 146.8,520.5 144.8,524.0 140.6,524.0"/>
<polygon points="132.9,523.2 134.9,519.7 139.1,519.7 141.1,523.2 139.1,526.7 134.9,526.7"/>
<polygon points="157.2,497.1 159.2,493.6 163.4,493.6 165.4,497.1 163.4,500.6 159.2,500.6"/>
<polygon points="86.2,546.7 88.2,543.2 92.3,543.2 94.4,546.7 92.3,550.2 88.2,550.2"/>
<polygon points="186.6,495.0 188.6,491.5 192.8,491.5 194.8,495.0 192.8,498.5 188.6,498.5"/>
<polygon points="212.0,442.9 214.0,439.4 218.2,439.4 220.2,442.9 218.2,446.4 214.0,446.4"/>
<polygon points="154.9,485.3 156.9,481.8 161.1,481.8 163.1,485.3 161.1,488.8 156.9,488.8"/>
<polygon points="147.5,495.9 149.5,492.4 153.7,492.4 155.7,495.9 153.7,499.4 149.5,499.4"/>
<polygon points="166.4,476.9 168.4,473.4 172.6,473.4 174.6,476.9 172.6,480.4 168.4,480.4"/>
<polygon points="200.9,451.3 202.9,447.8 207.1,447.8 209.1,451.3 207.1,454.8 202.9,454.8"/>
<polygon points="158.4,483.6 160.4,480.1 164.6,480.1 166.6,483.6 164.6,487.1 160.4,487.1"/>
<polygon points="117.3,543.4 119.4,539.9 123.5,539.9 125.5,543.4 123.5,546.9 119.4,546.9"/>
<polygon points="210.6,431.5 212.6,428.0 216.8,428.0 218.8,431.5 216.8,435.0 212.6,435.0"/>
<polygon points="162.7,444.2 164.8,440.7 168.9,440.7 170.9,444.2 168.9,447.7 164.8,447.7"/>
<polygon points="207.2,443.9 209.2,440.4 213.4,440.4 215.4,443.9 213.4,447.4 209.2,447.4"/>
<polygon points="134.1,519.4 136.1,515.9 140.2,515.9 142.3,519.4 140.2,522.9 136.1,522.9"/>
<polygon points="109.4,504.7 111.5,501.2 115.5,501.2 117.6,504.7 115.5,508.2 111.5,508.2"/>
<polygon points="181.5,438.1 183.5,434.6 187.7,434.6 189.7,438.1 187.7,441.6 183.5,441.6"/>
<polygon points="168.6,503.9 170.6,500.4 174.8,500.4 176.8,503.9 174.8,507.4 170.6,507.4"/>
<polygon points="116.9,558.4 119.0,554.9 123.0,554.9 125.1,558.4 123.0,561.9 119.0,561.9"/>
<polygon points="207.8,455.5 209.8,452.0 214.0,452.0 216.0,455.5 214.0,459.0 209.8,459.0"/>
<polygon points="220.4,425.4 222.4,421.9 226.6,421.9 228.6,425.4 226.6,428.9 222.4,428.9"/>
<polygon points="102.3,542.1 104.4,538.6 108.5,538.6 110.5,542.1 108.5,545.6 104.4,545.6"/>
<polygon points="126.5,550.5 128.5,547.0 132.7,547.0 134.7,550.5 132.7,554.0 128.5,554.0"/>
<polygon points="152.5,503.2 154.5,499.7 158.7,499.7 160.7,503.2 158.7,506.7 154.5,506.7"/>
<polygon points="154.2,477.1 156.2,473.6 160.4,473.6 162.4,477.1 160.4,480.6 156.2,480.6"/>
<polygon points="112.0,555.1 114.0,551.6 118.1,551.6 120.2,555.1 118.1,558.6 114.0,558.6"/>
<polygon points="76.4,566.1 78.5,562.6 82.5,562.6 84.6,566.1 82.5,569.6 78.5,569.6"/>
<polygon points="156.0,465.5 158.0,462.0 162.2,462.0 164.2,465.5 162.2,469.0 158.0,469.0"/>
<polygon points="165.6,456.5 167.6,453.0 171.8,453.0 173.8,456.5 171.8,460.0 167.6,460.0"/>
<polygon points="229.6,426.8 231.6,423.3 235.8,423.3 237.8,426.8 235.8,430.3 231.6,430.3"/>
<polygon points="112.8,533.8 114.9,530.3 119.0,530.3 121.0,533.8 119.0,537.3 114.9,537.3"/>
<polygon points="181.5,443.8 183.5,440.3 187.7,440.3 189.7,443.8 187.7,447.3 183.5,447.3"/>
<polygon points="192.0,441.2 194.0,437.7 198.2,437.7 200.2,441.2 198.2,444.7 194.0,444.7"/>
<polygon points="167.5,487.7 169.5,484.2 173.7,484.2 175.7,487.7 173.7,491.2 169.5,491.2"/>
<polygon points="223.7,438.3 225.8,434.8 229.9,434.8 231.9,438.3 229.9,441.8 225.8,441.8"/>
<polygon points="113.9,549.9 116.0,546.4 120.0,546.4 122.1,549.9 120.0,553.4 116.0,553.4"/>
<polygon points="142.7,424.0 144.8,420.5 148.9,420.5 150.9,424.0 148.9,427.5 144.8,427.5"/>
<polygon points="164.6,424.7 166.6,421.2 170.8,421.2 172.8,424.7 170.8,428.2 166.6,428.2"/>
<polygon points="134.3,437.9 136.3,434.4 140.5,434.4 142.5,437.9 140.5,441.4 136.3,441.4"/>
<polygon points="154.7,438.4 156.8,434.9 160.9,434.9 162.9,438.4 160.9,441.9 156.8,441.9"/>
<polygon points="100.5,457.7 102.5,454.2 106.6,454.2 108.7,457.7 106.6,461.2 102.5,461.2"/>
<polygon points="127.4,450.8 129.4,447.3 133.6,447.3 135.6,450.8 133.6,454.3 129.4,454.3"/>
<polygon points="119.9,466.2 122.0,462.7 126.0,462.7 128.1,466.2 126.0,469.7 122.0,469.7"/>
<polygon points="116.9,475.6 119.0,472.1 123.0,472.1 125.1,475.6 123.0,479.1 119.0,479.1"/>
<polygon points="111.2,491.0 113.2,487.5 117.3,487.5 119.4,491.0 117.3,494.5 113.2,494.5"/>
<polygon points="105.0,499.9 107.0,496.4 111.1,496.4 113.2,499.9 111.1,503.4 107.0,503.4"/>
<polygon points="98.8,509.8 100.9,506.3 105.0,506.3 107.0,509.8 105.0,513.3 100.9,513.3"/>
<polygon points="212.2,464.4 214.2,460.9 218.4,460.9 220.4,464.4 218.4,467.9 214.2,467.9"/>
<polygon points="203.0,476.1 205.0,472.6 209.2,472.6 211.2,476.1 209.2,479.6 205.0,479.6"/>
<polygon points="194.4,487.5 196.4,484.0 200.6,484.0 202.6,487.5 200.6,491.0 196.4,491.0"/>
<polygon points="184.4,500.4 186.4,496.9 190.6,496.9 192.6,500.4 190.6,503.9 186.4,503.9"/>
<polygon points="175.7,502.4 177.8,498.9 181.9,498.9 183.9,502.4 181.9,505.9 177.8,505.9"/>
<polygon points="172.5,529.5 174.5,526.0 178.7,526.0 180.7,529.5 178.7,533.0 174.5,533.0"/>
<polygon points="177.0,529.0 179.0,525.5 183.2,525.5 185.2,529.0 183.2,532.5 179.0,532.5"/>
<polygon points="186.4,528.2 188.4,524.7 192.6,524.7 194.6,528.2 192.6,531.7 188.4,531.7"/>
<polygon points="159.6,530.2 161.6,526.7 165.8,526.7 167.8,530.2 165.8,533.7 161.6,533.7"/>
<polygon points="159.1,536.4 161.1,532.9 165.2,532.9 167.3,536.4 165.2,539.9 161.1,539.9"/>
<polygon points="152.2,529.7 154.2,526.2 158.4,526.2 160.4,529.7 158.4,533.2 154.2,533.2"/>
<polygon points="188.2,483.0 190.2,479.5 194.4,479.5 196.4,483.0 194.4,486.5 190.2,486.5"/>
<polygon points="191.9,480.6 193.9,477.1 198.1,477.1 200.1,480.6 198.1,484.1 193.9,484.1"/>
<polygon points="183.2,493.0 185.2,489.5 189.4,489.5 191.4,493.0 189.4,496.5 185.2,496.5"/>
<polygon points="163.3,502.9 165.3,499.4 169.5,499.4 171.5,502.9 169.5,506.4 165.3,506.4"/>
<polygon points="154.7,516.5 156.8,513.0 160.9,513.0 162.9,516.5 160.9,520.0 156.8,520.0"/>
<polygon points="148.4,520.3 150.4,516.8 154.6,516.8 156.6,520.3 154.6,523.8 150.4,523.8"/>
<polygon points="76.5,573.6 78.5,570.1 82.6,570.1 84.7,573.6 82.6,577.1 78.5,577.1"/>
<polygon points="98.8,569.2 100.9,565.7 105.0,565.7 107.0,569.2 105.0,572.7 100.9,572.7"/>
<polygon points="80.2,543.1 82.2,539.6 86.3,539.6 88.4,543.1 86.3,546.6 82.2,546.6"/>
<polygon points="75.7,552.5 77.8,549.0 81.8,549.0 83.9,552.5 81.8,556.0 77.8,556.0"/>
<polygon points="249.6,357.1 251.6,353.6 255.8,353.6 257.8,357.1 255.8,360.6 251.6,360.6"/>
<polygon points="295.5,357.8 297.6,354.3 301.7,354.3 303.7,357.8 301.7,361.3 297.6,361.3"/>
<polygon points="291.1,366.3 293.1,362.8 297.2,362.8 299.3,366.3 297.2,369.8 293.1,369.8"/>
<polygon points="272.0,370.7 274.1,367.2 278.2,367.2 280.2,370.7 278.2,374.2 274.1,374.2"/>
<polygon points="263.3,374.5 265.3,371.0 269.4,371.0 271.5,374.5 269.4,378.0 265.3,378.0"/>
<polygon points="269.0,378.7 271.1,375.2 275.2,375.2 277.2,378.7 275.2,382.2 271.1,382.2"/>
<polygon points="255.1,382.7 257.1,379.2 261.2,379.2 263.3,382.7 261.2,386.2 257.1,386.2"/>
<polygon points="221.8,375.7 223.8,372.2 228.0,372.2 230.0,375.7 228.0,379.2 223.8,379.2"/>
<polygon points="223.6,388.1 225.6,384.6 229.8,384.6 231.8,388.1 229.8,391.6 225.6,391.6"/>
<polygon points="236.0,384.4 238.0,380.9 242.2,380.9 244.2,384.4 242.2,387.9 238.0,387.9"/>
<polygon points="244.2,389.4 246.2,385.9 250.4,385.9 252.4,389.4 250.4,392.9 246.2,392.9"/>
<polygon points="238.4,394.3 240.4,390.8 244.6,390.8 246.6,394.3 244.6,397.8 240.4,397.8"/>
<polygon points="244.7,394.3 246.8,390.8 250.9,390.8 252.9,394.3 250.9,397.8 246.8,397.8"/>
<polygon points="252.1,404.7 254.1,401.2 258.2,401.2 260.3,404.7 258.2,408.2 254.1,408.2"/>
<polygon points="266.2,411.7 268.2,408.2 272.4,408.2 274.4,411.7 272.4,415.2 268.2,415.2"/>
<polygon points="278.7,406.7 280.8,403.2 284.9,403.2 286.9,406.7 284.9,410.2 280.8,410.2"/>
<polygon points="203.2,394.8 205.2,391.3 209.4,391.3 211.4,394.8 209.4,398.3 205.2,398.3"/>
<polygon points="202.0,403.0 204.0,399.5 208.2,399.5 210.2,403.0 208.2,406.5 204.0,406.5"/>
<polygon points="207.4,406.7 209.4,403.2 213.6,403.2 215.6,406.7 213.6,410.2 209.4,410.2"/>
<polygon points="183.8,409.7 185.8,406.2 190.0,406.2 192.0,409.7 190.0,413.2 185.8,413.2"/>
<polygon points="190.1,412.2 192.1,408.7 196.2,408.7 198.3,412.2 196.2,415.7 192.1,415.7"/>
<polygon points="198.0,410.5 200.0,407.0 204.2,407.0 206.2,410.5 204.2,414.0 200.0,414.0"/>
<polygon points="175.2,414.9 177.2,411.4 181.4,411.4 183.4,414.9 181.4,418.4 177.2,418.4"/>
<polygon points="164.0,424.8 166.0,421.3 170.2,421.3 172.2,424.8 170.2,428.3 166.0,428.3"/>
<polygon points="144.1,423.4 146.1,419.9 150.2,419.9 152.3,423.4 150.2,426.9 146.1,426.9"/>
<polygon points="154.6,438.5 156.6,435.0 160.8,435.0 162.8,438.5 160.8,442.0 156.6,442.0"/>
<polygon points="227.3,402.5 229.3,399.0 233.5,399.0 235.5,402.5 233.5,406.0 229.3,406.0"/>
<polygon points="224.8,406.7 226.8,403.2 231.0,403.2 233.0,406.7 231.0,410.2 226.8,410.2"/>
<polygon points="218.6,408.5 220.6,405.0 224.8,405.0 226.8,408.5 224.8,412.0 220.6,412.0"/>
<polygon points="233.5,408.5 235.5,405.0 239.7,405.0 241.7,408.5 239.7,412.0 235.5,412.0"/>
<polygon points="239.7,399.3 241.8,395.8 245.9,395.8 247.9,399.3 245.9,402.8 241.8,402.8"/>
<polygon points="240.9,417.9 242.9,414.4 247.1,414.4 249.1,417.9 247.1,421.4 242.9,421.4"/>
<polygon points="228.5,421.6 230.5,418.1 234.7,418.1 236.7,421.6 234.7,425.1 230.5,425.1"/>
<polygon points="239.7,425.3 241.8,421.8 245.9,421.8 247.9,425.3 245.9,428.8 241.8,428.8"/>
<polygon points="243.4,422.9 245.4,419.4 249.6,419.4 251.6,422.9 249.6,426.4 245.4,426.4"/>
<polygon points="218.6,424.1 220.6,420.6 224.8,420.6 226.8,424.1 224.8,427.6 220.6,427.6"/>
<polygon points="207.9,417.4 209.9,413.9 214.1,413.9 216.1,417.4 214.1,420.9 209.9,420.9"/>
<polygon points="203.7,424.1 205.8,420.6 209.9,420.6 211.9,424.1 209.9,427.6 205.8,427.6"/>
<polygon points="195.0,424.1 197.0,420.6 201.2,420.6 203.2,424.1 201.2,427.6 197.0,427.6"/>
<polygon points="188.8,426.6 190.8,423.1 195.0,423.1 197.0,426.6 195.0,430.1 190.8,430.1"/>
<polygon points="233.5,429.8 235.5,426.3 239.7,426.3 241.7,429.8 239.7,433.3 235.5,433.3"/>
<polygon points="229.8,434.0 231.8,430.5 236.0,430.5 238.0,434.0 236.0,437.5 231.8,437.5"/>
<polygon points="226.0,441.5 228.0,438.0 232.2,438.0 234.2,441.5 232.2,445.0 228.0,445.0"/>
<polygon points="219.8,439.0 221.8,435.5 226.0,435.5 228.0,439.0 226.0,442.5 221.8,442.5"/>
<polygon points="216.1,435.3 218.1,431.8 222.2,431.8 224.3,435.3 222.2,438.8 218.1,438.8"/>
<polygon points="212.4,429.1 214.4,425.6 218.6,425.6 220.6,429.1 218.6,432.6 214.4,432.6"/>
<polygon points="207.4,432.8 209.4,429.3 213.6,429.3 215.6,432.8 213.6,436.3 209.4,436.3"/>
<polygon points="202.5,434.0 204.5,430.5 208.7,430.5 210.7,434.0 208.7,437.5 204.5,437.5"/>
<polygon points="214.9,449.4 216.9,445.9 221.1,445.9 223.1,449.4 221.1,452.9 216.9,452.9"/>
<polygon points="209.4,442.7 211.4,439.2 215.6,439.2 217.6,442.7 215.6,446.2 211.4,446.2"/>
<polygon points="203.7,448.9 205.8,445.4 209.9,445.4 211.9,448.9 209.9,452.4 205.8,452.4"/>
<polygon points="212.4,464.3 214.4,460.8 218.6,460.8 220.6,464.3 218.6,467.8 214.4,467.8"/>
<polygon points="204.9,456.4 206.9,452.9 211.1,452.9 213.1,456.4 211.1,459.9 206.9,459.9"/>
<polygon points="200.0,470.0 202.0,466.5 206.2,466.5 208.2,470.0 206.2,473.5 202.0,473.5"/>
<polygon points="202.5,476.2 204.5,472.7 208.7,472.7 210.7,476.2 208.7,479.7 204.5,479.7"/>
<polygon points="193.8,483.7 195.8,480.2 200.0,480.2 202.0,483.7 200.0,487.2 195.8,487.2"/>
<polygon points="195.0,491.1 197.0,487.6 201.2,487.6 203.2,491.1 201.2,494.6 197.0,494.6"/>
<polygon points="183.8,493.6 185.8,490.1 190.0,490.1 192.0,493.6 190.0,497.1 185.8,497.1"/>
<polygon points="183.8,499.8 185.8,496.3 190.0,496.3 192.0,499.8 190.0,503.3 185.8,503.3"/>
<polygon points="172.7,501.0 174.8,497.5 178.9,497.5 180.9,501.0 178.9,504.5 174.8,504.5"/>
<polygon points="177.6,435.3 179.6,431.8 183.8,431.8 185.8,435.3 183.8,438.8 179.6,438.8"/>
<polygon points="180.1,431.5 182.1,428.0 186.2,428.0 188.3,431.5 186.2,435.0 182.1,435.0"/>
<polygon points="170.2,441.5 172.2,438.0 176.4,438.0 178.4,441.5 176.4,445.0 172.2,445.0"/>
<polygon points="159.0,450.2 161.0,446.7 165.2,446.7 167.2,450.2 165.2,453.7 161.0,453.7"/>
<polygon points="147.9,451.4 149.9,447.9 154.1,447.9 156.1,451.4 154.1,454.9 149.9,454.9"/>
<polygon points="195.0,442.7 197.0,439.2 201.2,439.2 203.2,442.7 201.2,446.2 197.0,446.2"/>
<polygon points="192.5,450.2 194.5,446.7 198.7,446.7 200.7,450.2 198.7,453.7 194.5,453.7"/>
<polygon points="191.3,462.6 193.3,459.1 197.5,459.1 199.5,462.6 197.5,466.1 193.3,466.1"/>
<polygon points="182.6,448.9 184.6,445.4 188.8,445.4 190.8,448.9 188.8,452.4 184.6,452.4"/>
<polygon points="201.2,463.8 203.2,460.3 207.4,460.3 209.4,463.8 207.4,467.3 203.2,467.3"/>
<polygon points="135.1,337.5 137.1,334.0 141.2,334.0 143.3,337.5 141.2,341.0 137.1,341.0"/>
<polygon points="134.6,351.0 136.6,347.5 140.8,347.5 142.8,351.0 140.8,354.5 136.6,354.5"/>
<polygon points="127.1,381.1 129.1,377.6 133.2,377.6 135.3,381.1 133.2,384.6 129.1,384.6"/>
<polygon points="103.6,391.1 105.7,387.6 109.8,387.6 111.8,391.1 109.8,394.6 105.7,394.6"/>
<polygon points="121.1,394.1 123.2,390.6 127.2,390.6 129.3,394.1 127.2,397.6 123.2,397.6"/>
<polygon points="113.6,407.6 115.7,404.1 119.8,404.1 121.8,407.6 119.8,411.1 115.7,411.1"/>
<polygon points="101.1,457.7 103.2,454.2 107.2,454.2 109.3,457.7 107.2,461.2 103.2,461.2"/>
</g>
<rect x="57.5" y="335.6" width="255.8" height="255.8" fill="none" stroke="#000" stroke-width="1.25"/>
<path d="M57.50 591.40v3.8M57.50 335.60v-3.8M57.50 591.40h-3.8M313.30 591.40h3.8M70.29 591.40v2.1M70.29 335.60v-2.1M57.50 578.61h-2.1M313.30 578.61h2.1M83.08 591.40v2.1M83.08 335.60v-2.1M57.50 565.82h-2.1M313.30 565.82h2.1M95.87 591.40v2.1M95.87 335.60v-2.1M57.50 553.03h-2.1M313.30 553.03h2.1M108.66 591.40v2.1M108.66 335.60v-2.1M57.50 540.24h-2.1M313.30 540.24h2.1M121.45 591.40v3.8M121.45 335.60v-3.8M57.50 527.45h-3.8M313.30 527.45h3.8M134.24 591.40v2.1M134.24 335.60v-2.1M57.50 514.66h-2.1M313.30 514.66h2.1M147.03 591.40v2.1M147.03 335.60v-2.1M57.50 501.87h-2.1M313.30 501.87h2.1M159.82 591.40v2.1M159.82 335.60v-2.1M57.50 489.08h-2.1M313.30 489.08h2.1M172.61 591.40v2.1M172.61 335.60v-2.1M57.50 476.29h-2.1M313.30 476.29h2.1M185.40 591.40v3.8M185.40 335.60v-3.8M57.50 463.50h-3.8M313.30 463.50h3.8M198.19 591.40v2.1M198.19 335.60v-2.1M57.50 450.71h-2.1M313.30 450.71h2.1M210.98 591.40v2.1M210.98 335.60v-2.1M57.50 437.92h-2.1M313.30 437.92h2.1M223.77 591.40v2.1M223.77 335.60v-2.1M57.50 425.13h-2.1M313.30 425.13h2.1M236.56 591.40v2.1M236.56 335.60v-2.1M57.50 412.34h-2.1M313.30 412.34h2.1M249.35 591.40v3.8M249.35 335.60v-3.8M57.50 399.55h-3.8M313.30 399.55h3.8M262.14 591.40v2.1M262.14 335.60v-2.1M57.50 386.76h-2.1M313.30 386.76h2.1M274.93 591.40v2.1M274.93 335.60v-2.1M57.50 373.97h-2.1M313.30 373.97h2.1M287.72 591.40v2.1M287.72 335.60v-2.1M57.50 361.18h-2.1M313.30 361.18h2.1M300.51 591.40v2.1M300.51 335.60v-2.1M57.50 348.39h-2.1M313.30 348.39h2.1M313.30 591.40v3.8M313.30 335.60v-3.8M57.50 335.60h-3.8M313.30 335.60h3.8" stroke="#000" stroke-width="1.3" fill="none"/>
<text x="57.5" y="608.0" text-anchor="middle" class="t">0</text>
<text x="51.9" y="595.6" text-anchor="end" class="t">0</text>
<text x="121.5" y="608.0" text-anchor="middle" class="t">300</text>
<text x="51.9" y="531.7" text-anchor="end" class="t">300</text>
<text x="185.4" y="608.0" text-anchor="middle" class="t">600</text>
<text x="51.9" y="467.7" text-anchor="end" class="t">600</text>
<text x="249.3" y="608.0" text-anchor="middle" class="t">900</text>
<text x="51.9" y="403.8" text-anchor="end" class="t">900</text>
<text x="313.3" y="608.0" text-anchor="middle" class="t">1200</text>
<text x="51.9" y="339.8" text-anchor="end" class="t">1200</text>
<text x="185.4" y="638.6" text-anchor="middle" class="l">Experimental Nusselt number, (-)</text>
<text transform="translate(10.3 459.5) rotate(-90)" text-anchor="middle" class="l">Predicted Nusselt number, (-)</text>
<rect x="186.8" y="544.3" width="70.1" height="21.0" fill="#fff" stroke="#222" stroke-width="0.9"/>
<text x="221.9" y="559.4" text-anchor="middle" class="b">Gupta et al.</text>
</g>
<g>
<g clip-path="url(#c3)">
<line x1="415.4" y1="591.4" x2="671.2" y2="335.6" stroke="#000" stroke-width="1.3"/>
<line x1="415.4" y1="591.4" x2="647.9" y2="335.6" stroke="#000" stroke-width="1.6" stroke-dasharray="5.1 3.8"/>
<line x1="415.4" y1="591.4" x2="671.2" y2="361.2" stroke="#000" stroke-width="1.6" stroke-dasharray="5.1 3.8"/>
</g>
<text transform="translate(608.5 374.7) rotate(-42)" text-anchor="middle" class="l">+ 10%</text>
<text transform="translate(643.3 412.2) rotate(-50)" text-anchor="middle" class="l">- 10%</text>
<g class="g">
<polygon points="503.2,508.3 505.2,504.8 509.4,504.8 511.4,508.3 509.4,511.8 505.2,511.8"/>
<polygon points="512.0,512.2 514.1,508.7 518.1,508.7 520.2,512.2 518.1,515.7 514.1,515.7"/>
<polygon points="461.1,501.6 463.1,498.1 467.2,498.1 469.3,501.6 467.2,505.1 463.1,505.1"/>
<polygon points="446.3,543.3 448.3,539.8 452.4,539.8 454.5,543.3 452.4,546.8 448.3,546.8"/>
<polygon points="535.0,516.1 537.1,512.6 541.1,512.6 543.2,516.1 541.1,519.6 537.1,519.6"/>
<polygon points="513.8,519.6 515.9,516.1 519.9,516.1 522.0,519.6 519.9,523.1 515.9,523.1"/>
<polygon points="510.7,522.7 512.8,519.2 516.8,519.2 518.9,522.7 516.8,526.2 512.8,526.2"/>
<polygon points="552.7,486.0 554.8,482.5 558.8,482.5 560.9,486.0 558.8,489.5 554.8,489.5"/>
<polygon points="565.3,484.1 567.4,480.6 571.4,480.6 573.5,484.1 571.4,487.6 567.4,487.6"/>
<polygon points="554.6,467.7 556.7,464.2 560.8,464.2 562.8,467.7 560.8,471.2 556.7,471.2"/>
<polygon points="557.5,454.9 559.6,451.4 563.6,451.4 565.7,454.9 563.6,458.4 559.6,458.4"/>
<polygon points="520.1,492.6 522.2,489.1 526.2,489.1 528.3,492.6 526.2,496.1 522.2,496.1"/>
<polygon points="462.0,532.4 464.1,528.9 468.2,528.9 470.2,532.4 468.2,535.9 464.1,535.9"/>
<polygon points="452.6,520.1 454.6,516.6 458.8,516.6 460.8,520.1 458.8,523.6 454.6,523.6"/>
<polygon points="553.7,476.0 555.8,472.5 559.8,472.5 561.9,476.0 559.8,479.5 555.8,479.5"/>
<polygon points="470.3,514.1 472.3,510.6 476.4,510.6 478.5,514.1 476.4,517.6 472.3,517.6"/>
<polygon points="438.1,564.7 440.1,561.2 444.2,561.2 446.3,564.7 444.2,568.2 440.1,568.2"/>
<polygon points="469.5,528.6 471.6,525.1 475.7,525.1 477.7,528.6 475.7,532.1 471.6,532.1"/>
<polygon points="472.5,545.2 474.6,541.7 478.7,541.7 480.7,545.2 478.7,548.7 474.6,548.7"/>
<polygon points="525.9,471.1 528.0,467.6 532.0,467.6 534.1,471.1 532.0,474.6 528.0,474.6"/>
<polygon points="459.6,530.8 461.6,527.3 465.8,527.3 467.8,530.8 465.8,534.3 461.6,534.3"/>
<polygon points="528.8,469.2 530.9,465.7 534.9,465.7 537.0,469.2 534.9,472.7 530.9,472.7"/>
<polygon points="576.5,458.5 578.6,455.0 582.6,455.0 584.7,458.5 582.6,462.0 578.6,462.0"/>
<polygon points="540.9,511.8 543.0,508.3 547.0,508.3 549.1,511.8 547.0,515.3 543.0,515.3"/>
<polygon points="434.8,557.3 436.8,553.8 440.9,553.8 443.0,557.3 440.9,560.8 436.8,560.8"/>
<polygon points="508.0,532.2 510.1,528.7 514.1,528.7 516.2,532.2 514.1,535.7 510.1,535.7"/>
<polygon points="487.4,525.9 489.4,522.4 493.6,522.4 495.6,525.9 493.6,529.4 489.4,529.4"/>
<polygon points="530.4,483.5 532.5,480.0 536.5,480.0 538.6,483.5 536.5,487.0 532.5,487.0"/>
<polygon points="523.8,515.2 525.9,511.7 529.9,511.7 532.0,515.2 529.9,518.7 525.9,518.7"/>
<polygon points="546.7,484.3 548.8,480.8 552.8,480.8 554.9,484.3 552.8,487.8 548.8,487.8"/>
<polygon points="547.8,511.3 549.9,507.8 553.9,507.8 556.0,511.3 553.9,514.8 549.9,514.8"/>
<polygon points="445.2,535.0 447.2,531.5 451.4,531.5 453.4,535.0 451.4,538.5 447.2,538.5"/>
<polygon points="542.0,499.6 544.1,496.1 548.1,496.1 550.2,499.6 548.1,503.1 544.1,503.1"/>
<polygon points="479.4,524.9 481.4,521.4 485.6,521.4 487.6,524.9 485.6,528.4 481.4,528.4"/>
<polygon points="483.5,523.2 485.6,519.7 489.7,519.7 491.7,523.2 489.7,526.7 485.6,526.7"/>
<polygon points="570.6,483.8 572.7,480.3 576.8,480.3 578.8,483.8 576.8,487.3 572.7,487.3"/>
<polygon points="523.8,474.3 525.9,470.8 529.9,470.8 532.0,474.3 529.9,477.8 525.9,477.8"/>
<polygon points="530.6,499.1 532.7,495.6 536.8,495.6 538.8,499.1 536.8,502.6 532.7,502.6"/>
<polygon points="543.6,509.8 545.7,506.3 549.8,506.3 551.8,509.8 549.8,513.3 545.7,513.3"/>
<polygon points="480.7,540.7 482.8,537.2 486.9,537.2 488.9,540.7 486.9,544.2 482.8,544.2"/>
<polygon points="562.7,463.2 564.8,459.7 568.8,459.7 570.9,463.2 568.8,466.7 564.8,466.7"/>
<polygon points="531.1,492.5 533.2,489.0 537.2,489.0 539.3,492.5 537.2,496.0 533.2,496.0"/>
<polygon points="531.2,521.6 533.2,518.1 537.3,518.1 539.4,521.6 537.3,525.1 533.2,525.1"/>
<polygon points="539.8,457.9 541.9,454.4 545.9,454.4 548.0,457.9 545.9,461.4 541.9,461.4"/>
<polygon points="544.5,455.1 546.6,451.6 550.6,451.6 552.7,455.1 550.6,458.6 546.6,458.6"/>
<polygon points="541.8,502.8 543.9,499.3 547.9,499.3 550.0,502.8 547.9,506.3 543.9,506.3"/>
<polygon points="494.0,540.8 496.1,537.3 500.2,537.3 502.2,540.8 500.2,544.3 496.1,544.3"/>
<polygon points="574.7,442.2 576.8,438.7 580.8,438.7 582.9,442.2 580.8,445.7 576.8,445.7"/>
<polygon points="491.3,509.6 493.3,506.1 497.4,506.1 499.5,509.6 497.4,513.1 493.3,513.1"/>
<polygon points="534.6,458.7 536.7,455.2 540.8,455.2 542.8,458.7 540.8,462.2 536.7,462.2"/>
<polygon points="465.6,555.9 467.6,552.4 471.8,552.4 473.8,555.9 471.8,559.4 467.6,559.4"/>
<polygon points="566.8,478.8 568.9,475.3 572.9,475.3 575.0,478.8 572.9,482.3 568.9,482.3"/>
<polygon points="559.4,439.0 561.5,435.5 565.5,435.5 567.6,439.0 565.5,442.5 561.5,442.5"/>
<polygon points="484.8,540.2 486.8,536.7 490.9,536.7 493.0,540.2 490.9,543.7 486.8,543.7"/>
<polygon points="513.4,531.2 515.5,527.7 519.5,527.7 521.6,531.2 519.5,534.7 515.5,534.7"/>
<polygon points="466.9,503.7 468.9,500.2 473.1,500.2 475.1,503.7 473.1,507.2 468.9,507.2"/>
<polygon points="477.7,532.0 479.8,528.5 483.9,528.5 485.9,532.0 483.9,535.5 479.8,535.5"/>
<polygon points="532.6,503.1 534.7,499.6 538.8,499.6 540.8,503.1 538.8,506.6 534.7,506.6"/>
<polygon points="464.8,549.0 466.8,545.5 470.9,545.5 473.0,549.0 470.9,552.5 466.8,552.5"/>
<polygon points="516.4,500.4 518.5,496.9 522.5,496.9 524.6,500.4 522.5,503.9 518.5,503.9"/>
<polygon points="520.7,498.7 522.8,495.2 526.8,495.2 528.9,498.7 526.8,502.2 522.8,502.2"/>
<polygon points="516.8,487.9 518.9,484.4 522.9,484.4 525.0,487.9 522.9,491.4 518.9,491.4"/>
<polygon points="462.2,516.4 464.2,512.9 468.4,512.9 470.4,516.4 468.4,519.9 464.2,519.9"/>
<polygon points="577.7,448.1 579.8,444.6 583.8,444.6 585.9,448.1 583.8,451.6 579.8,451.6"/>
<polygon points="540.2,475.1 542.2,471.6 546.3,471.6 548.4,475.1 546.3,478.6 542.2,478.6"/>
<polygon points="488.0,516.7 490.1,513.2 494.2,513.2 496.2,516.7 494.2,520.2 490.1,520.2"/>
<polygon points="448.5,532.3 450.6,528.8 454.7,528.8 456.7,532.3 454.7,535.8 450.6,535.8"/>
<polygon points="515.5,491.1 517.6,487.6 521.6,487.6 523.7,491.1 521.6,494.6 517.6,494.6"/>
<polygon points="464.2,518.3 466.2,514.8 470.4,514.8 472.4,518.3 470.4,521.8 466.2,521.8"/>
<polygon points="566.9,462.5 569.0,459.0 573.0,459.0 575.1,462.5 573.0,466.0 569.0,466.0"/>
<polygon points="574.2,474.2 576.2,470.7 580.3,470.7 582.4,474.2 580.3,477.7 576.2,477.7"/>
<polygon points="571.8,448.7 573.9,445.2 577.9,445.2 580.0,448.7 577.9,452.2 573.9,452.2"/>
<polygon points="469.7,531.6 471.8,528.1 475.9,528.1 477.9,531.6 475.9,535.1 471.8,535.1"/>
<polygon points="563.1,489.0 565.2,485.5 569.2,485.5 571.3,489.0 569.2,492.5 565.2,492.5"/>
<polygon points="556.4,447.6 558.5,444.1 562.5,444.1 564.6,447.6 562.5,451.1 558.5,451.1"/>
<polygon points="495.4,525.9 497.4,522.4 501.6,522.4 503.6,525.9 501.6,529.4 497.4,529.4"/>
<polygon points="511.2,525.9 513.2,522.4 517.3,522.4 519.4,525.9 517.3,529.4 513.2,529.4"/>
<polygon points="518.9,502.0 521.0,498.5 525.0,498.5 527.1,502.0 525.0,505.5 521.0,505.5"/>
<polygon points="441.8,563.1 443.8,559.6 447.9,559.6 450.0,563.1 447.9,566.6 443.8,566.6"/>
<polygon points="513.2,490.2 515.2,486.7 519.3,486.7 521.4,490.2 519.3,493.7 515.2,493.7"/>
<polygon points="548.4,486.7 550.5,483.2 554.5,483.2 556.6,486.7 554.5,490.2 550.5,490.2"/>
<polygon points="531.1,486.6 533.2,483.1 537.2,483.1 539.3,486.6 537.2,490.1 533.2,490.1"/>
<polygon points="526.4,500.5 528.5,497.0 532.5,497.0 534.6,500.5 532.5,504.0 528.5,504.0"/>
<polygon points="560.3,486.7 562.4,483.2 566.4,483.2 568.5,486.7 566.4,490.2 562.4,490.2"/>
<polygon points="532.6,517.3 534.7,513.8 538.8,513.8 540.8,517.3 538.8,520.8 534.7,520.8"/>
<polygon points="536.9,477.3 539.0,473.8 543.0,473.8 545.1,477.3 543.0,480.8 539.0,480.8"/>
<polygon points="535.9,509.7 538.0,506.2 542.0,506.2 544.1,509.7 542.0,513.2 538.0,513.2"/>
<polygon points="516.0,484.5 518.1,481.0 522.1,481.0 524.2,484.5 522.1,488.0 518.1,488.0"/>
<polygon points="439.1,560.1 441.1,556.6 445.2,556.6 447.3,560.1 445.2,563.6 441.1,563.6"/>
<polygon points="458.6,499.3 460.6,495.8 464.8,495.8 466.8,499.3 464.8,502.8 460.6,502.8"/>
<polygon points="515.0,513.6 517.1,510.1 521.1,510.1 523.2,513.6 521.1,517.1 517.1,517.1"/>
<polygon points="456.7,535.6 458.8,532.1 462.9,532.1 464.9,535.6 462.9,539.1 458.8,539.1"/>
<polygon points="443.6,556.7 445.6,553.2 449.8,553.2 451.8,556.7 449.8,560.2 445.6,560.2"/>
<polygon points="499.6,496.8 501.6,493.3 505.8,493.3 507.8,496.8 505.8,500.3 501.6,500.3"/>
<polygon points="585.3,464.1 587.4,460.6 591.4,460.6 593.5,464.1 591.4,467.6 587.4,467.6"/>
<polygon points="545.8,495.5 547.9,492.0 551.9,492.0 554.0,495.5 551.9,499.0 547.9,499.0"/>
<polygon points="501.8,523.4 503.8,519.9 507.9,519.9 510.0,523.4 507.9,526.9 503.8,526.9"/>
<polygon points="523.7,488.7 525.8,485.2 529.8,485.2 531.9,488.7 529.8,492.2 525.8,492.2"/>
<polygon points="554.5,504.3 556.6,500.8 560.6,500.8 562.7,504.3 560.6,507.8 556.6,507.8"/>
<polygon points="547.6,463.4 549.7,459.9 553.8,459.9 555.8,463.4 553.8,466.9 549.7,466.9"/>
<polygon points="449.9,554.9 451.9,551.4 456.1,551.4 458.1,554.9 456.1,558.4 451.9,558.4"/>
<polygon points="539.9,509.0 542.0,505.5 546.0,505.5 548.1,509.0 546.0,512.5 542.0,512.5"/>
<polygon points="525.2,518.6 527.2,515.1 531.3,515.1 533.4,518.6 531.3,522.1 527.2,522.1"/>
<polygon points="550.7,456.6 552.8,453.1 556.8,453.1 558.9,456.6 556.8,460.1 552.8,460.1"/>
<polygon points="445.6,524.6 447.6,521.1 451.8,521.1 453.8,524.6 451.8,528.1 447.6,528.1"/>
<polygon points="518.7,518.3 520.8,514.8 524.8,514.8 526.9,518.3 524.8,521.8 520.8,521.8"/>
<polygon points="553.1,459.8 555.2,456.3 559.2,456.3 561.3,459.8 559.2,463.3 555.2,463.3"/>
<polygon points="559.6,481.6 561.7,478.1 565.8,478.1 567.8,481.6 565.8,485.1 561.7,485.1"/>
<polygon points="483.2,506.8 485.2,503.3 489.4,503.3 491.4,506.8 489.4,510.3 485.2,510.3"/>
<polygon points="447.3,552.4 449.3,548.9 453.4,548.9 455.5,552.4 453.4,555.9 449.3,555.9"/>
<polygon points="539.9,471.8 542.0,468.3 546.0,468.3 548.1,471.8 546.0,475.3 542.0,475.3"/>
<polygon points="554.1,440.6 556.2,437.1 560.2,437.1 562.3,440.6 560.2,444.1 556.2,444.1"/>
<polygon points="465.6,522.6 467.6,519.1 471.8,519.1 473.8,522.6 471.8,526.1 467.6,526.1"/>
<polygon points="488.4,531.6 490.4,528.1 494.6,528.1 496.6,531.6 494.6,535.1 490.4,535.1"/>
<polygon points="558.5,472.6 560.6,469.1 564.6,469.1 566.7,472.6 564.6,476.1 560.6,476.1"/>
<polygon points="462.7,508.9 464.8,505.4 468.9,505.4 470.9,508.9 468.9,512.4 464.8,512.4"/>
<polygon points="557.5,505.6 559.6,502.1 563.6,502.1 565.7,505.6 563.6,509.1 559.6,509.1"/>
<polygon points="459.8,536.2 461.8,532.7 465.9,532.7 468.0,536.2 465.9,539.7 461.8,539.7"/>
<polygon points="570.7,469.4 572.8,465.9 576.8,465.9 578.9,469.4 576.8,472.9 572.8,472.9"/>
<polygon points="517.7,509.4 519.8,505.9 523.8,505.9 525.9,509.4 523.8,512.9 519.8,512.9"/>
<polygon points="534.2,464.3 536.2,460.8 540.3,460.8 542.4,464.3 540.3,467.8 536.2,467.8"/>
<polygon points="466.7,537.1 468.8,533.6 472.9,533.6 474.9,537.1 472.9,540.6 468.8,540.6"/>
<polygon points="509.8,505.2 511.8,501.7 515.9,501.7 518.0,505.2 515.9,508.7 511.8,508.7"/>
<polygon points="576.1,487.4 578.2,483.9 582.2,483.9 584.3,487.4 582.2,490.9 578.2,490.9"/>
<polygon points="558.4,489.0 560.5,485.5 564.5,485.5 566.6,489.0 564.5,492.5 560.5,492.5"/>
<polygon points="450.1,520.7 452.1,517.2 456.2,517.2 458.3,520.7 456.2,524.2 452.1,524.2"/>
<polygon points="554.2,455.1 556.2,451.6 560.3,451.6 562.4,455.1 560.3,458.6 556.2,458.6"/>
<polygon points="560.7,497.1 562.8,493.6 566.8,493.6 568.9,497.1 566.8,500.6 562.8,500.6"/>
<polygon points="576.0,477.9 578.1,474.4 582.1,474.4 584.2,477.9 582.1,481.4 578.1,481.4"/>
<polygon points="558.2,483.9 560.2,480.4 564.3,480.4 566.4,483.9 564.3,487.4 560.2,487.4"/>
<polygon points="490.5,541.5 492.6,538.0 496.7,538.0 498.7,541.5 496.7,545.0 492.6,545.0"/>
<polygon points="544.3,514.8 546.4,511.3 550.4,511.3 552.5,514.8 550.4,518.3 546.4,518.3"/>
<polygon points="507.6,495.6 509.6,492.1 513.8,492.1 515.8,495.6 513.8,499.1 509.6,499.1"/>
<polygon points="567.0,472.5 569.1,469.0 573.1,469.0 575.2,472.5 573.1,476.0 569.1,476.0"/>
<polygon points="562.1,459.2 564.2,455.7 568.2,455.7 570.3,459.2 568.2,462.7 564.2,462.7"/>
<polygon points="456.8,546.4 458.8,542.9 462.9,542.9 465.0,546.4 462.9,549.9 458.8,549.9"/>
<polygon points="505.6,530.0 507.6,526.5 511.8,526.5 513.8,530.0 511.8,533.5 507.6,533.5"/>
<polygon points="543.8,463.2 545.9,459.7 549.9,459.7 552.0,463.2 549.9,466.7 545.9,466.7"/>
<polygon points="433.6,568.7 435.6,565.2 439.8,565.2 441.8,568.7 439.8,572.2 435.6,572.2"/>
<polygon points="557.9,458.9 560.0,455.4 564.0,455.4 566.1,458.9 564.0,462.4 560.0,462.4"/>
<polygon points="491.2,505.5 493.2,502.0 497.4,502.0 499.4,505.5 497.4,509.0 493.2,509.0"/>
<polygon points="493.8,523.3 495.8,519.8 499.9,519.8 502.0,523.3 499.9,526.8 495.8,526.8"/>
<polygon points="547.2,476.1 549.2,472.6 553.3,472.6 555.4,476.1 553.3,479.6 549.2,479.6"/>
<polygon points="562.2,442.9 564.2,439.4 568.3,439.4 570.4,442.9 568.3,446.4 564.2,446.4"/>
<polygon points="485.9,521.0 487.9,517.5 492.1,517.5 494.1,521.0 492.1,524.5 487.9,524.5"/>
<polygon points="487.5,500.0 489.6,496.5 493.7,496.5 495.7,500.0 493.7,503.5 489.6,503.5"/>
<polygon points="454.3,529.8 456.3,526.3 460.4,526.3 462.5,529.8 460.4,533.3 456.3,533.3"/>
<polygon points="522.8,527.5 524.9,524.0 528.9,524.0 531.0,527.5 528.9,531.0 524.9,531.0"/>
<polygon points="453.4,556.5 455.4,553.0 459.6,553.0 461.6,556.5 459.6,560.0 455.4,560.0"/>
<polygon points="451.3,545.4 453.3,541.9 457.4,541.9 459.5,545.4 457.4,548.9 453.3,548.9"/>
<polygon points="469.9,510.2 471.9,506.7 476.1,506.7 478.1,510.2 476.1,513.7 471.9,513.7"/>
<polygon points="562.8,456.0 564.9,452.5 568.9,452.5 571.0,456.0 568.9,459.5 564.9,459.5"/>
<polygon points="535.7,473.0 537.8,469.5 541.8,469.5 543.9,473.0 541.8,476.5 537.8,476.5"/>
<polygon points="492.1,512.8 494.1,509.3 498.2,509.3 500.3,512.8 498.2,516.3 494.1,516.3"/>
<polygon points="521.5,476.5 523.6,473.0 527.6,473.0 529.7,476.5 527.6,480.0 523.6,480.0"/>
<polygon points="506.0,487.6 508.1,484.1 512.1,484.1 514.2,487.6 512.1,491.1 508.1,491.1"/>
<polygon points="530.2,526.4 532.2,522.9 536.3,522.9 538.4,526.4 536.3,529.9 532.2,529.9"/>
<polygon points="514.8,503.4 516.9,499.9 520.9,499.9 523.0,503.4 520.9,506.9 516.9,506.9"/>
<polygon points="550.4,472.6 552.5,469.1 556.5,469.1 558.6,472.6 556.5,476.1 552.5,476.1"/>
<polygon points="511.2,485.5 513.2,482.0 517.3,482.0 519.4,485.5 517.3,489.0 513.2,489.0"/>
<polygon points="466.9,534.5 468.9,531.0 473.1,531.0 475.1,534.5 473.1,538.0 468.9,538.0"/>
<polygon points="447.5,540.9 449.6,537.4 453.7,537.4 455.7,540.9 453.7,544.4 449.6,544.4"/>
<polygon points="436.9,555.7 438.9,552.2 443.1,552.2 445.1,555.7 443.1,559.2 438.9,559.2"/>
<polygon points="573.2,457.4 575.2,453.9 579.3,453.9 581.4,457.4 579.3,460.9 575.2,460.9"/>
<polygon points="564.0,479.5 566.1,476.0 570.1,476.0 572.2,479.5 570.1,483.0 566.1,483.0"/>
<polygon points="462.2,553.1 464.2,549.6 468.4,549.6 470.4,553.1 468.4,556.6 464.2,556.6"/>
<polygon points="546.3,473.8 548.4,470.3 552.4,470.3 554.5,473.8 552.4,477.3 548.4,477.3"/>
<polygon points="544.3,448.9 546.4,445.4 550.4,445.4 552.5,448.9 550.4,452.4 546.4,452.4"/>
<polygon points="543.9,457.5 546.0,454.0 550.0,454.0 552.1,457.5 550.0,461.0 546.0,461.0"/>
<polygon points="490.7,522.6 492.8,519.1 496.9,519.1 498.9,522.6 496.9,526.1 492.8,526.1"/>
<polygon points="475.6,519.5 477.6,516.0 481.8,516.0 483.8,519.5 481.8,523.0 477.6,523.0"/>
<polygon points="501.4,503.9 503.4,500.4 507.6,500.4 509.6,503.9 507.6,507.4 503.4,507.4"/>
<polygon points="471.5,542.4 473.6,538.9 477.7,538.9 479.7,542.4 477.7,545.9 473.6,545.9"/>
<polygon points="551.0,464.4 553.1,460.9 557.1,460.9 559.2,464.4 557.1,467.9 553.1,467.9"/>
<polygon points="476.0,506.7 478.1,503.2 482.2,503.2 484.2,506.7 482.2,510.2 478.1,510.2"/>
<polygon points="461.4,555.5 463.4,552.0 467.6,552.0 469.6,555.5 467.6,559.0 463.4,559.0"/>
<polygon points="504.7,535.0 506.8,531.5 510.9,531.5 512.9,535.0 510.9,538.5 506.8,538.5"/>
<polygon points="581.9,454.3 584.0,450.8 588.0,450.8 590.1,454.3 588.0,457.8 584.0,457.8"/>
<polygon points="527.8,462.9 529.9,459.4 533.9,459.4 536.0,462.9 533.9,466.4 529.9,466.4"/>
<polygon points="466.8,511.2 468.8,507.7 472.9,507.7 475.0,511.2 472.9,514.7 468.8,514.7"/>
<polygon points="500.5,491.8 502.6,488.3 506.7,488.3 508.7,491.8 506.7,495.3 502.6,495.3"/>
<polygon points="521.6,506.0 523.7,502.5 527.8,502.5 529.8,506.0 527.8,509.5 523.7,509.5"/>
<polygon points="556.7,463.3 558.8,459.8 562.8,459.8 564.9,463.3 562.8,466.8 558.8,466.8"/>
<polygon points="529.8,503.5 531.9,500.0 535.9,500.0 538.0,503.5 535.9,507.0 531.9,507.0"/>
<polygon points="473.7,512.4 475.8,508.9 479.9,508.9 481.9,512.4 479.9,515.9 475.8,515.9"/>
<polygon points="457.2,526.6 459.2,523.1 463.4,523.1 465.4,526.6 463.4,530.1 459.2,530.1"/>
<polygon points="492.0,539.3 494.1,535.8 498.2,535.8 500.2,539.3 498.2,542.8 494.1,542.8"/>
<polygon points="460.9,506.9 462.9,503.4 467.1,503.4 469.1,506.9 467.1,510.4 462.9,510.4"/>
<polygon points="567.9,458.6 570.0,455.1 574.0,455.1 576.1,458.6 574.0,462.1 570.0,462.1"/>
<polygon points="540.9,480.8 543.0,477.3 547.0,477.3 549.1,480.8 547.0,484.3 543.0,484.3"/>
<polygon points="544.6,467.6 546.7,464.1 550.8,464.1 552.8,467.6 550.8,471.1 546.7,471.1"/>
<polygon points="579.5,480.3 581.6,476.8 585.6,476.8 587.7,480.3 585.6,483.8 581.6,483.8"/>
<polygon points="445.1,553.4 447.1,549.9 451.2,549.9 453.3,553.4 451.2,556.9 447.1,556.9"/>
<polygon points="483.2,537.8 485.2,534.3 489.4,534.3 491.4,537.8 489.4,541.3 485.2,541.3"/>
<polygon points="476.2,529.7 478.2,526.2 482.4,526.2 484.4,529.7 482.4,533.2 478.2,533.2"/>
<polygon points="585.7,471.7 587.8,468.2 591.8,468.2 593.9,471.7 591.8,475.2 587.8,475.2"/>
<polygon points="466.1,526.4 468.1,522.9 472.2,522.9 474.3,526.4 472.2,529.9 468.1,529.9"/>
<polygon points="495.4,496.5 497.4,493.0 501.6,493.0 503.6,496.5 501.6,500.0 497.4,500.0"/>
<polygon points="458.3,523.1 460.3,519.6 464.4,519.6 466.5,523.1 464.4,526.6 460.3,526.6"/>
<polygon points="455.7,511.5 457.8,508.0 461.9,508.0 463.9,511.5 461.9,515.0 457.8,515.0"/>
<polygon points="542.5,507.4 544.6,503.9 548.6,503.9 550.7,507.4 548.6,510.9 544.6,510.9"/>
<polygon points="524.3,495.6 526.4,492.1 530.4,492.1 532.5,495.6 530.4,499.1 526.4,499.1"/>
<polygon points="473.2,523.5 475.2,520.0 479.4,520.0 481.4,523.5 479.4,527.0 475.2,527.0"/>
<polygon points="475.5,546.1 477.6,542.6 481.7,542.6 483.7,546.1 481.7,549.6 477.6,549.6"/>
<polygon points="585.9,451.0 588.0,447.5 592.0,447.5 594.1,451.0 592.0,454.5 588.0,454.5"/>
<polygon points="539.1,462.8 541.2,459.3 545.2,459.3 547.3,462.8 545.2,466.3 541.2,466.3"/>
<polygon points="584.6,476.7 586.7,473.2 590.8,473.2 592.8,476.7 590.8,480.2 586.7,480.2"/>
<polygon points="481.4,530.2 483.4,526.7 487.6,526.7 489.6,530.2 487.6,533.7 483.4,533.7"/>
<polygon points="457.1,517.0 459.1,513.5 463.2,513.5 465.3,517.0 463.2,520.5 459.1,520.5"/>
<polygon points="509.3,508.9 511.3,505.4 515.4,505.4 517.5,508.9 515.4,512.4 511.3,512.4"/>
<polygon points="550.0,504.7 552.1,501.2 556.1,501.2 558.2,504.7 556.1,508.2 552.1,508.2"/>
<polygon points="448.1,528.6 450.1,525.1 454.2,525.1 456.3,528.6 454.2,532.1 450.1,532.1"/>
<polygon points="553.6,497.2 555.7,493.7 559.8,493.7 561.8,497.2 559.8,500.7 555.7,500.7"/>
<polygon points="457.6,551.2 459.6,547.7 463.8,547.7 465.8,551.2 463.8,554.7 459.6,554.7"/>
<polygon points="569.0,437.5 571.1,434.0 575.1,434.0 577.2,437.5 575.1,441.0 571.1,441.0"/>
<polygon points="544.7,475.7 546.8,472.2 550.8,472.2 552.9,475.7 550.8,479.2 546.8,479.2"/>
<polygon points="543.3,517.2 545.4,513.7 549.4,513.7 551.5,517.2 549.4,520.7 545.4,520.7"/>
<polygon points="540.3,488.7 542.4,485.2 546.4,485.2 548.5,488.7 546.4,492.2 542.4,492.2"/>
<polygon points="517.5,497.6 519.6,494.1 523.6,494.1 525.7,497.6 523.6,501.1 519.6,501.1"/>
<polygon points="558.0,450.6 560.1,447.1 564.1,447.1 566.2,450.6 564.1,454.1 560.1,454.1"/>
<polygon points="579.0,465.2 581.1,461.7 585.1,461.7 587.2,465.2 585.1,468.7 581.1,468.7"/>
<polygon points="488.5,535.4 490.6,531.9 494.7,531.9 496.7,535.4 494.7,538.9 490.6,538.9"/>
<polygon points="489.4,519.3 491.4,515.8 495.6,515.8 497.6,519.3 495.6,522.8 491.4,522.8"/>
<polygon points="548.8,459.6 550.9,456.1 554.9,456.1 557.0,459.6 554.9,463.1 550.9,463.1"/>
<polygon points="539.1,454.8 541.2,451.3 545.2,451.3 547.3,454.8 545.2,458.3 541.2,458.3"/>
<polygon points="581.3,475.1 583.4,471.6 587.4,471.6 589.5,475.1 587.4,478.6 583.4,478.6"/>
<polygon points="540.6,493.4 542.7,489.9 546.8,489.9 548.8,493.4 546.8,496.9 542.7,496.9"/>
<polygon points="536.8,488.7 538.9,485.2 542.9,485.2 545.0,488.7 542.9,492.2 538.9,492.2"/>
<polygon points="526.6,510.1 528.7,506.6 532.8,506.6 534.8,510.1 532.8,513.6 528.7,513.6"/>
<polygon points="525.5,513.2 527.6,509.7 531.6,509.7 533.7,513.2 531.6,516.7 527.6,516.7"/>
<polygon points="578.7,451.3 580.8,447.8 584.8,447.8 586.9,451.3 584.8,454.8 580.8,454.8"/>
<polygon points="557.6,501.6 559.7,498.1 563.8,498.1 565.8,501.6 563.8,505.1 559.7,505.1"/>
<polygon points="556.0,498.7 558.1,495.2 562.1,495.2 564.2,498.7 562.1,502.2 558.1,502.2"/>
<polygon points="463.0,523.5 465.1,520.0 469.2,520.0 471.2,523.5 469.2,527.0 465.1,527.0"/>
<polygon points="527.0,527.2 529.1,523.7 533.1,523.7 535.2,527.2 533.1,530.7 529.1,530.7"/>
<polygon points="548.0,480.4 550.1,476.9 554.1,476.9 556.2,480.4 554.1,483.9 550.1,483.9"/>
<polygon points="455.0,518.3 457.1,514.8 461.2,514.8 463.2,518.3 461.2,521.8 457.1,521.8"/>
<polygon points="496.4,493.9 498.4,490.4 502.6,490.4 504.6,493.9 502.6,497.4 498.4,497.4"/>
<polygon points="486.6,528.4 488.6,524.9 492.8,524.9 494.8,528.4 492.8,531.9 488.6,531.9"/>
<polygon points="579.1,484.2 581.2,480.7 585.2,480.7 587.3,484.2 585.2,487.7 581.2,487.7"/>
<polygon points="549.1,514.1 551.2,510.6 555.2,510.6 557.3,514.1 555.2,517.6 551.2,517.6"/>
<polygon points="478.1,527.2 480.1,523.7 484.2,523.7 486.3,527.2 484.2,530.7 480.1,530.7"/>
<polygon points="573.0,465.2 575.1,461.7 579.1,461.7 581.2,465.2 579.1,468.7 575.1,468.7"/>
<polygon points="525.0,506.4 527.1,502.9 531.1,502.9 533.2,506.4 531.1,509.9 527.1,509.9"/>
<polygon points="491.0,531.2 493.1,527.7 497.2,527.7 499.2,531.2 497.2,534.7 493.1,534.7"/>
<polygon points="537.7,514.7 539.8,511.2 543.8,511.2 545.9,514.7 543.8,518.2 539.8,518.2"/>
<polygon points="434.5,550.3 436.6,546.8 440.7,546.8 442.7,550.3 440.7,553.8 436.6,553.8"/>
<polygon points="554.5,464.5 556.6,461.0 560.6,461.0 562.7,464.5 560.6,468.0 556.6,468.0"/>
<polygon points="566.0,444.6 568.1,441.1 572.1,441.1 574.2,444.6 572.1,448.1 568.1,448.1"/>
<polygon points="565.9,451.7 568.0,448.2 572.0,448.2 574.1,451.7 572.0,455.2 568.0,455.2"/>
<polygon points="496.0,515.6 498.1,512.1 502.2,512.1 504.2,515.6 502.2,519.1 498.1,519.1"/>
<polygon points="456.7,504.3 458.8,500.8 462.9,500.8 464.9,504.3 462.9,507.8 458.8,507.8"/>
<polygon points="449.6,558.5 451.6,555.0 455.8,555.0 457.8,558.5 455.8,562.0 451.6,562.0"/>
<polygon points="548.4,466.1 550.5,462.6 554.5,462.6 556.6,466.1 554.5,469.6 550.5,469.6"/>
<polygon points="439.8,546.9 441.8,543.4 445.9,543.4 448.0,546.9 445.9,550.4 441.8,550.4"/>
<polygon points="518.2,485.9 520.2,482.4 524.3,482.4 526.4,485.9 524.3,489.4 520.2,489.4"/>
<polygon points="550.0,498.2 552.1,494.7 556.1,494.7 558.2,498.2 556.1,501.7 552.1,501.7"/>
<polygon points="489.6,513.7 491.6,510.2 495.8,510.2 497.8,513.7 495.8,517.2 491.6,517.2"/>
<polygon points="527.9,512.5 530.0,509.0 534.0,509.0 536.1,512.5 534.0,516.0 530.0,516.0"/>
<polygon points="567.5,486.3 569.6,482.8 573.6,482.8 575.7,486.3 573.6,489.8 569.6,489.8"/>
<polygon points="563.0,475.9 565.1,472.4 569.1,472.4 571.2,475.9 569.1,479.4 565.1,479.4"/>
<polygon points="482.0,544.6 484.1,541.1 488.2,541.1 490.2,544.6 488.2,548.1 484.1,548.1"/>
<polygon points="440.9,536.8 442.9,533.3 447.1,533.3 449.1,536.8 447.1,540.3 442.9,540.3"/>
<polygon points="555.1,491.6 557.2,488.1 561.2,488.1 563.3,491.6 561.2,495.1 557.2,495.1"/>
<polygon points="550.4,482.9 552.5,479.4 556.5,479.4 558.6,482.9 556.5,486.4 552.5,486.4"/>
<polygon points="536.9,506.7 539.0,503.2 543.0,503.2 545.1,506.7 543.0,510.2 539.0,510.2"/>
<polygon points="451.4,552.2 453.4,548.7 457.6,548.7 459.6,552.2 457.6,555.7 453.4,555.7"/>
<polygon points="458.2,512.0 460.2,508.5 464.4,508.5 466.4,512.0 464.4,515.5 460.2,515.5"/>
<polygon points="525.1,502.7 527.2,499.2 531.2,499.2 533.3,502.7 531.2,506.2 527.2,506.2"/>
<polygon points="473.1,532.2 475.1,528.7 479.2,528.7 481.3,532.2 479.2,535.7 475.1,535.7"/>
<polygon points="442.1,545.4 444.1,541.9 448.2,541.9 450.3,545.4 448.2,548.9 444.1,548.9"/>
<polygon points="500.2,516.4 502.2,512.9 506.4,512.9 508.4,516.4 506.4,519.9 502.2,519.9"/>
<polygon points="550.6,444.3 552.7,440.8 556.8,440.8 558.8,444.3 556.8,447.8 552.7,447.8"/>
<polygon points="558.9,443.7 561.0,440.2 565.0,440.2 567.1,443.7 565.0,447.2 561.0,447.2"/>
<polygon points="555.5,460.6 557.6,457.1 561.6,457.1 563.7,460.6 561.6,464.1 557.6,464.1"/>
<polygon points="463.4,504.8 465.4,501.3 469.6,501.3 471.6,504.8 469.6,508.3 465.4,508.3"/>
<polygon points="552.5,511.5 554.6,508.0 558.6,508.0 560.7,511.5 558.6,515.0 554.6,515.0"/>
<polygon points="569.6,452.4 571.7,448.9 575.8,448.9 577.8,452.4 575.8,455.9 571.7,455.9"/>
<polygon points="528.0,506.1 530.1,502.6 534.1,502.6 536.2,506.1 534.1,509.6 530.1,509.6"/>
<polygon points="449.4,561.6 451.4,558.1 455.6,558.1 457.6,561.6 455.6,565.1 451.4,565.1"/>
<polygon points="587.7,473.3 589.8,469.8 593.8,469.8 595.9,473.3 593.8,476.8 589.8,476.8"/>
<polygon points="515.0,479.6 517.1,476.1 521.1,476.1 523.2,479.6 521.1,483.1 517.1,483.1"/>
<polygon points="543.0,488.4 545.1,484.9 549.1,484.9 551.2,488.4 549.1,491.9 545.1,491.9"/>
<polygon points="528.5,515.8 530.6,512.3 534.6,512.3 536.7,515.8 534.6,519.3 530.6,519.3"/>
<polygon points="514.9,476.9 517.0,473.4 521.0,473.4 523.1,476.9 521.0,480.4 517.0,480.4"/>
<polygon points="468.9,553.4 470.9,549.9 475.1,549.9 477.1,553.4 475.1,556.9 470.9,556.9"/>
<polygon points="469.5,521.5 471.6,518.0 475.7,518.0 477.7,521.5 475.7,525.0 471.6,525.0"/>
<polygon points="576.0,450.1 578.1,446.6 582.1,446.6 584.2,450.1 582.1,453.6 578.1,453.6"/>
<polygon points="580.9,457.0 583.0,453.5 587.0,453.5 589.1,457.0 587.0,460.5 583.0,460.5"/>
<polygon points="453.4,524.9 455.4,521.4 459.6,521.4 461.6,524.9 459.6,528.4 455.4,528.4"/>
<polygon points="480.7,536.4 482.8,532.9 486.9,532.9 488.9,536.4 486.9,539.9 482.8,539.9"/>
<polygon points="521.5,471.2 523.6,467.7 527.6,467.7 529.7,471.2 527.6,474.7 523.6,474.7"/>
<polygon points="504.4,514.4 506.4,510.9 510.6,510.9 512.6,514.4 510.6,517.9 506.4,517.9"/>
<polygon points="565.2,495.1 567.2,491.6 571.3,491.6 573.4,495.1 571.3,498.6 567.2,498.6"/>
<polygon points="466.6,541.8 468.6,538.3 472.8,538.3 474.8,541.8 472.8,545.3 468.6,545.3"/>
<polygon points="506.5,517.3 508.6,513.8 512.6,513.8 514.7,517.3 512.6,520.8 508.6,520.8"/>
<polygon points="497.7,505.6 499.8,502.1 503.9,502.1 505.9,505.6 503.9,509.1 499.8,509.1"/>
<polygon points="575.9,462.6 578.0,459.1 582.0,459.1 584.1,462.6 582.0,466.1 578.0,466.1"/>
<polygon points="581.2,469.7 583.2,466.2 587.3,466.2 589.4,469.7 587.3,473.2 583.2,473.2"/>
<polygon points="486.7,508.3 488.8,504.8 492.9,504.8 494.9,508.3 492.9,511.8 488.8,511.8"/>
<polygon points="513.0,483.0 515.1,479.5 519.1,479.5 521.2,483.0 519.1,486.5 515.1,486.5"/>
<polygon points="507.9,519.7 509.9,516.2 514.0,516.2 516.1,519.7 514.0,523.2 509.9,523.2"/>
<polygon points="584.8,469.2 586.9,465.7 590.9,465.7 593.0,469.2 590.9,472.7 586.9,472.7"/>
<polygon points="477.8,547.7 479.8,544.2 483.9,544.2 486.0,547.7 483.9,551.2 479.8,551.2"/>
<polygon points="511.2,477.9 513.2,474.4 517.3,474.4 519.4,477.9 517.3,481.4 513.2,481.4"/>
<polygon points="569.2,473.5 571.2,470.0 575.3,470.0 577.4,473.5 575.3,477.0 571.2,477.0"/>
<polygon points="461.3,527.1 463.3,523.6 467.4,523.6 469.5,527.1 467.4,530.6 463.3,530.6"/>
<polygon points="461.5,520.6 463.6,517.1 467.7,517.1 469.7,520.6 467.7,524.1 463.6,524.1"/>
<polygon points="575.6,470.6 577.7,467.1 581.8,467.1 583.8,470.6 581.8,474.1 577.7,474.1"/>
<polygon points="514.3,498.3 516.4,494.8 520.4,494.8 522.5,498.3 520.4,501.8 516.4,501.8"/>
<polygon points="437.6,550.7 439.6,547.2 443.8,547.2 445.8,550.7 443.8,554.2 439.6,554.2"/>
<polygon points="463.4,511.3 465.4,507.8 469.6,507.8 471.6,511.3 469.6,514.8 465.4,514.8"/>
<polygon points="488.0,503.7 490.1,500.2 494.2,500.2 496.2,503.7 494.2,507.2 490.1,507.2"/>
<polygon points="500.2,525.9 502.2,522.4 506.4,522.4 508.4,525.9 506.4,529.4 502.2,529.4"/>
<polygon points="552.1,507.7 554.2,504.2 558.2,504.2 560.3,507.7 558.2,511.2 554.2,511.2"/>
<polygon points="455.7,507.1 457.8,503.6 461.9,503.6 463.9,507.1 461.9,510.6 457.8,510.6"/>
<polygon points="543.2,493.9 545.2,490.4 549.3,490.4 551.4,493.9 549.3,497.4 545.2,497.4"/>
<polygon points="495.5,520.9 497.6,517.4 501.7,517.4 503.7,520.9 501.7,524.4 497.6,524.4"/>
<polygon points="508.6,512.2 510.7,508.7 514.8,508.7 516.8,512.2 514.8,515.7 510.7,515.7"/>
<polygon points="466.8,551.1 468.8,547.6 472.9,547.6 475.0,551.1 472.9,554.6 468.8,554.6"/>
<polygon points="503.7,496.2 505.8,492.7 509.9,492.7 511.9,496.2 509.9,499.7 505.8,499.7"/>
<polygon points="570.5,493.6 572.6,490.1 576.6,490.1 578.7,493.6 576.6,497.1 572.6,497.1"/>
<polygon points="535.3,523.6 537.4,520.1 541.4,520.1 543.5,523.6 541.4,527.1 537.4,527.1"/>
<polygon points="463.0,557.7 465.1,554.2 469.2,554.2 471.2,557.7 469.2,561.2 465.1,561.2"/>
<polygon points="475.2,509.3 477.2,505.8 481.4,505.8 483.4,509.3 481.4,512.8 477.2,512.8"/>
<polygon points="477.5,542.8 479.6,539.3 483.7,539.3 485.7,542.8 483.7,546.3 479.6,546.3"/>
<polygon points="527.4,494.4 529.5,490.9 533.5,490.9 535.6,494.4 533.5,497.9 529.5,497.9"/>
<polygon points="562.5,483.2 564.6,479.7 568.6,479.7 570.7,483.2 568.6,486.7 564.6,486.7"/>
<polygon points="542.1,477.2 544.2,473.7 548.2,473.7 550.3,477.2 548.2,480.7 544.2,480.7"/>
<polygon points="570.4,460.6 572.5,457.1 576.5,457.1 578.6,460.6 576.5,464.1 572.5,464.1"/>
<polygon points="587.5,461.3 589.6,457.8 593.6,457.8 595.7,461.3 593.6,464.8 589.6,464.8"/>
<polygon points="467.1,516.7 469.1,513.2 473.2,513.2 475.3,516.7 473.2,520.2 469.1,520.2"/>
<polygon points="543.3,460.2 545.4,456.7 549.4,456.7 551.5,460.2 549.4,463.7 545.4,463.7"/>
<polygon points="480.9,512.8 482.9,509.3 487.1,509.3 489.1,512.8 487.1,516.3 482.9,516.3"/>
<polygon points="511.4,495.6 513.5,492.1 517.5,492.1 519.6,495.6 517.5,499.1 513.5,499.1"/>
<polygon points="549.3,493.6 551.4,490.1 555.4,490.1 557.5,493.6 555.4,497.1 551.4,497.1"/>
<polygon points="494.6,507.3 496.6,503.8 500.8,503.8 502.8,507.3 500.8,510.8 496.6,510.8"/>
<polygon points="500.6,536.7 502.6,533.2 506.8,533.2 508.8,536.7 506.8,540.2 502.6,540.2"/>
<polygon points="476.7,470.6 478.8,467.1 482.9,467.1 484.9,470.6 482.9,474.1 478.8,474.1"/>
<polygon points="509.6,462.7 511.7,459.2 515.8,459.2 517.8,462.7 515.8,466.2 511.7,466.2"/>
<polygon points="470.3,489.7 472.3,486.2 476.4,486.2 478.5,489.7 476.4,493.2 472.3,493.2"/>
<polygon points="476.5,487.5 478.6,484.0 482.7,484.0 484.7,487.5 482.7,491.0 478.6,491.0"/>
<polygon points="489.6,477.8 491.6,474.3 495.8,474.3 497.8,477.8 495.8,481.3 491.6,481.3"/>
<polygon points="494.1,444.2 496.1,440.7 500.2,440.7 502.3,444.2 500.2,447.7 496.1,447.7"/>
<polygon points="493.5,477.1 495.6,473.6 499.7,473.6 501.7,477.1 499.7,480.6 495.6,480.6"/>
<polygon points="496.4,440.8 498.4,437.3 502.6,437.3 504.6,440.8 502.6,444.3 498.4,444.3"/>
<polygon points="516.3,440.1 518.4,436.6 522.4,436.6 524.5,440.1 522.4,443.6 518.4,443.6"/>
<polygon points="485.5,489.4 487.6,485.9 491.7,485.9 493.7,489.4 491.7,492.9 487.6,492.9"/>
<polygon points="473.5,487.9 475.6,484.4 479.7,484.4 481.7,487.9 479.7,491.4 475.6,491.4"/>
<polygon points="483.3,473.8 485.3,470.3 489.4,470.3 491.5,473.8 489.4,477.3 485.3,477.3"/>
<polygon points="469.7,500.0 471.8,496.5 475.9,496.5 477.9,500.0 475.9,503.5 471.8,503.5"/>
<polygon points="496.3,474.4 498.3,470.9 502.4,470.9 504.5,474.4 502.4,477.9 498.3,477.9"/>
<polygon points="495.0,460.9 497.1,457.4 501.2,457.4 503.2,460.9 501.2,464.4 497.1,464.4"/>
<polygon points="493.6,456.0 495.6,452.5 499.8,452.5 501.8,456.0 499.8,459.5 495.6,459.5"/>
<polygon points="482.8,486.0 484.8,482.5 488.9,482.5 491.0,486.0 488.9,489.5 484.8,489.5"/>
<polygon points="491.4,448.8 493.4,445.3 497.6,445.3 499.6,448.8 497.6,452.3 493.4,452.3"/>
<polygon points="500.1,430.5 502.1,427.0 506.2,427.0 508.3,430.5 506.2,434.0 502.1,434.0"/>
<polygon points="510.3,426.6 512.4,423.1 516.4,423.1 518.5,426.6 516.4,430.1 512.4,430.1"/>
<polygon points="495.4,436.6 497.4,433.1 501.6,433.1 503.6,436.6 501.6,440.1 497.4,440.1"/>
<polygon points="506.0,419.6 508.1,416.1 512.1,416.1 514.2,419.6 512.1,423.1 508.1,423.1"/>
<polygon points="489.3,457.1 491.3,453.6 495.4,453.6 497.5,457.1 495.4,460.6 491.3,460.6"/>
<polygon points="511.1,411.5 513.2,408.0 517.2,408.0 519.3,411.5 517.2,415.0 513.2,415.0"/>
<polygon points="508.8,422.5 510.8,419.0 514.9,419.0 517.0,422.5 514.9,426.0 510.8,426.0"/>
<polygon points="469.3,482.8 471.3,479.3 475.4,479.3 477.5,482.8 475.4,486.3 471.3,486.3"/>
<polygon points="480.3,492.0 482.3,488.5 486.4,488.5 488.5,492.0 486.4,495.5 482.3,495.5"/>
<polygon points="511.4,415.4 513.5,411.9 517.5,411.9 519.6,415.4 517.5,418.9 513.5,418.9"/>
<polygon points="481.6,482.6 483.6,479.1 487.8,479.1 489.8,482.6 487.8,486.1 483.6,486.1"/>
<polygon points="474.1,474.0 476.1,470.5 480.2,470.5 482.3,474.0 480.2,477.5 476.1,477.5"/>
<polygon points="487.0,459.0 489.1,455.5 493.2,455.5 495.2,459.0 493.2,462.5 489.1,462.5"/>
<polygon points="508.2,455.0 510.2,451.5 514.3,451.5 516.4,455.0 514.3,458.5 510.2,458.5"/>
<polygon points="479.0,499.1 481.1,495.6 485.2,495.6 487.2,499.1 485.2,502.6 481.1,502.6"/>
<polygon points="486.1,464.1 488.1,460.6 492.2,460.6 494.3,464.1 492.2,467.6 488.1,467.6"/>
<polygon points="478.5,478.5 480.6,475.0 484.7,475.0 486.7,478.5 484.7,482.0 480.6,482.0"/>
<polygon points="518.7,448.5 520.8,445.0 524.8,445.0 526.9,448.5 524.8,452.0 520.8,452.0"/>
<polygon points="480.8,496.5 482.8,493.0 486.9,493.0 489.0,496.5 486.9,500.0 482.8,500.0"/>
<polygon points="510.6,442.9 512.7,439.4 516.8,439.4 518.8,442.9 516.8,446.4 512.7,446.4"/>
<polygon points="488.2,492.9 490.2,489.4 494.4,489.4 496.4,492.9 494.4,496.4 490.2,496.4"/>
<polygon points="512.4,451.2 514.5,447.7 518.5,447.7 520.6,451.2 518.5,454.7 514.5,454.7"/>
<polygon points="491.6,486.0 493.6,482.5 497.8,482.5 499.8,486.0 497.8,489.5 493.6,489.5"/>
<polygon points="474.1,476.8 476.1,473.3 480.2,473.3 482.3,476.8 480.2,480.3 476.1,480.3"/>
<polygon points="498.9,444.1 500.9,440.6 505.1,440.6 507.1,444.1 505.1,447.6 500.9,447.6"/>
<polygon points="514.7,426.5 516.8,423.0 520.8,423.0 522.9,426.5 520.8,430.0 516.8,430.0"/>
<polygon points="489.6,462.6 491.6,459.1 495.8,459.1 497.8,462.6 495.8,466.1 491.6,466.1"/>
<polygon points="505.2,435.0 507.2,431.5 511.4,431.5 513.4,435.0 511.4,438.5 507.2,438.5"/>
<polygon points="501.8,444.0 503.8,440.5 507.9,440.5 510.0,444.0 507.9,447.5 503.8,447.5"/>
<polygon points="467.6,494.2 469.6,490.7 473.8,490.7 475.8,494.2 473.8,497.7 469.6,497.7"/>
<polygon points="503.0,468.7 505.1,465.2 509.2,465.2 511.2,468.7 509.2,472.2 505.1,472.2"/>
<polygon points="498.5,462.8 500.6,459.3 504.7,459.3 506.7,462.8 504.7,466.3 500.6,466.3"/>
<polygon points="511.9,439.3 514.0,435.8 518.0,435.8 520.1,439.3 518.0,442.8 514.0,442.8"/>
<polygon points="508.3,451.4 510.3,447.9 514.4,447.9 516.5,451.4 514.4,454.9 510.3,454.9"/>
<polygon points="515.1,445.8 517.2,442.3 521.2,442.3 523.3,445.8 521.2,449.3 517.2,449.3"/>
<polygon points="516.2,434.8 518.2,431.3 522.3,431.3 524.4,434.8 522.3,438.3 518.2,438.3"/>
<polygon points="500.9,438.7 502.9,435.2 507.1,435.2 509.1,438.7 507.1,442.2 502.9,442.2"/>
<polygon points="485.5,483.8 487.6,480.3 491.7,480.3 493.7,483.8 491.7,487.3 487.6,487.3"/>
<polygon points="473.7,496.1 475.8,492.6 479.9,492.6 481.9,496.1 479.9,499.6 475.8,499.6"/>
<polygon points="517.4,409.2 519.5,405.7 523.5,405.7 525.6,409.2 523.5,412.7 519.5,412.7"/>
<polygon points="499.5,473.0 501.6,469.5 505.7,469.5 507.7,473.0 505.7,476.5 501.6,476.5"/>
<polygon points="491.5,453.7 493.6,450.2 497.7,450.2 499.7,453.7 497.7,457.2 493.6,457.2"/>
<polygon points="477.9,473.7 479.9,470.2 484.1,470.2 486.1,473.7 484.1,477.2 479.9,477.2"/>
<polygon points="502.0,459.3 504.1,455.8 508.2,455.8 510.2,459.3 508.2,462.8 504.1,462.8"/>
<polygon points="512.5,409.1 514.6,405.6 518.6,405.6 520.7,409.1 518.6,412.6 514.6,412.6"/>
<polygon points="508.5,446.1 510.6,442.6 514.6,442.6 516.7,446.1 514.6,449.6 510.6,449.6"/>
<polygon points="482.6,477.4 484.6,473.9 488.8,473.9 490.8,477.4 488.8,480.9 484.6,480.9"/>
<polygon points="512.7,457.5 514.8,454.0 518.8,454.0 520.9,457.5 518.8,461.0 514.8,461.0"/>
<polygon points="504.1,447.3 506.1,443.8 510.2,443.8 512.3,447.3 510.2,450.8 506.1,450.8"/>
<polygon points="505.9,444.4 507.9,440.9 512.0,440.9 514.1,444.4 512.0,447.9 507.9,447.9"/>
<polygon points="503.2,463.0 505.2,459.5 509.4,459.5 511.4,463.0 509.4,466.5 505.2,466.5"/>
<polygon points="515.2,452.8 517.2,449.3 521.3,449.3 523.4,452.8 521.3,456.3 517.2,456.3"/>
<polygon points="507.4,465.8 509.4,462.3 513.5,462.3 515.6,465.8 513.5,469.3 509.4,469.3"/>
<polygon points="485.8,496.3 487.8,492.8 491.9,492.8 494.0,496.3 491.9,499.8 487.8,499.8"/>
<polygon points="511.5,447.9 513.6,444.4 517.6,444.4 519.7,447.9 517.6,451.4 513.6,451.4"/>
<polygon points="499.9,450.9 501.9,447.4 506.1,447.4 508.1,450.9 506.1,454.4 501.9,454.4"/>
<polygon points="491.7,481.1 493.8,477.6 497.9,477.6 499.9,481.1 497.9,484.6 493.8,484.6"/>
<polygon points="522.6,529.5 524.7,526.0 528.8,526.0 530.8,529.5 528.8,533.0 524.7,533.0"/>
<polygon points="532.5,529.5 534.6,526.0 538.6,526.0 540.7,529.5 538.6,533.0 534.6,533.0"/>
<polygon points="542.4,524.0 544.5,520.5 548.5,520.5 550.6,524.0 548.5,527.5 544.5,527.5"/>
<polygon points="506.4,535.2 508.4,531.7 512.5,531.7 514.6,535.2 512.5,538.7 508.4,538.7"/>
<polygon points="551.1,514.8 553.2,511.3 557.2,511.3 559.3,514.8 557.2,518.3 553.2,518.3"/>
<polygon points="559.8,506.6 561.9,503.1 565.9,503.1 568.0,506.6 565.9,510.1 561.9,510.1"/>
<polygon points="573.5,493.0 575.6,489.5 579.6,489.5 581.7,493.0 579.6,496.5 575.6,496.5"/>
<polygon points="569.7,499.9 571.8,496.4 575.8,496.4 577.9,499.9 575.8,503.4 571.8,503.4"/>
<polygon points="573.5,459.5 575.6,456.0 579.6,456.0 581.7,459.5 579.6,463.0 575.6,463.0"/>
<polygon points="515.1,452.0 517.2,448.5 521.2,448.5 523.3,452.0 521.2,455.5 517.2,455.5"/>
<polygon points="506.4,459.5 508.4,456.0 512.5,456.0 514.6,459.5 512.5,463.0 508.4,463.0"/>
<polygon points="497.8,453.3 499.8,449.8 503.9,449.8 506.0,453.3 503.9,456.8 499.8,456.8"/>
<polygon points="495.3,437.1 497.3,433.6 501.4,433.6 503.5,437.1 501.4,440.6 497.3,440.6"/>
<polygon points="455.6,506.1 457.6,502.6 461.8,502.6 463.8,506.1 461.8,509.6 457.6,509.6"/>
<polygon points="449.4,521.5 451.4,518.0 455.6,518.0 457.6,521.5 455.6,525.0 451.4,525.0"/>
<polygon points="466.7,484.3 468.8,480.8 472.9,480.8 474.9,484.3 472.9,487.8 468.8,487.8"/>
<polygon points="485.4,458.2 487.4,454.7 491.6,454.7 493.6,458.2 491.6,461.7 487.4,461.7"/>
<polygon points="481.6,464.4 483.6,460.9 487.8,460.9 489.8,464.4 487.8,467.9 483.6,467.9"/>
<polygon points="636.2,374.8 638.2,371.3 642.3,371.3 644.4,374.8 642.3,378.3 638.2,378.3"/>
<polygon points="512.8,404.5 514.9,401.0 518.9,401.0 521.0,404.5 518.9,408.0 514.9,408.0"/>
<polygon points="512.2,411.4 514.2,407.9 518.3,407.9 520.4,411.4 518.3,414.9 514.2,414.9"/>
<polygon points="505.0,419.2 507.1,415.7 511.2,415.7 513.2,419.2 511.2,422.7 507.1,422.7"/>
<polygon points="500.3,426.1 502.3,422.6 506.4,422.6 508.5,426.1 506.4,429.6 502.3,429.6"/>
<polygon points="515.6,427.5 517.7,424.0 521.8,424.0 523.8,427.5 521.8,431.0 517.7,431.0"/>
<polygon points="569.1,478.8 571.2,475.3 575.2,475.3 577.3,478.8 575.2,482.3 571.2,482.3"/>
<polygon points="561.3,479.4 563.4,475.9 567.4,475.9 569.5,479.4 567.4,482.9 563.4,482.9"/>
<polygon points="573.8,494.1 575.9,490.6 579.9,490.6 582.0,494.1 579.9,497.6 575.9,497.6"/>
<polygon points="569.1,500.2 571.2,496.7 575.2,496.7 577.3,500.2 575.2,503.7 571.2,503.7"/>
<polygon points="560.0,489.9 562.1,486.4 566.1,486.4 568.2,489.9 566.1,493.4 562.1,493.4"/>
<polygon points="551.6,496.0 553.7,492.5 557.8,492.5 559.8,496.0 557.8,499.5 553.7,499.5"/>
<polygon points="559.4,507.1 561.5,503.6 565.5,503.6 567.6,507.1 565.5,510.6 561.5,510.6"/>
<polygon points="552.2,508.0 554.2,504.5 558.3,504.5 560.4,508.0 558.3,511.5 554.2,511.5"/>
<polygon points="552.5,514.9 554.6,511.4 558.6,511.4 560.7,514.9 558.6,518.4 554.6,518.4"/>
<polygon points="543.3,516.3 545.4,512.8 549.4,512.8 551.5,516.3 549.4,519.8 545.4,519.8"/>
<polygon points="494.8,435.9 496.8,432.4 500.9,432.4 503.0,435.9 500.9,439.4 496.8,439.4"/>
<polygon points="493.9,444.2 495.9,440.7 500.1,440.7 502.1,444.2 500.1,447.7 495.9,447.7"/>
<polygon points="497.5,448.3 499.6,444.8 503.7,444.8 505.7,448.3 503.7,451.8 499.6,451.8"/>
<polygon points="493.4,452.5 495.4,449.0 499.6,449.0 501.6,452.5 499.6,456.0 495.4,456.0"/>
<polygon points="508.6,437.8 510.7,434.3 514.8,434.3 516.8,437.8 514.8,441.3 510.7,441.3"/>
<polygon points="507.3,445.6 509.3,442.1 513.4,442.1 515.5,445.6 513.4,449.1 509.3,449.1"/>
<polygon points="515.6,438.6 517.7,435.1 521.8,435.1 523.8,438.6 521.8,442.1 517.7,442.1"/>
<polygon points="514.2,451.1 516.2,447.6 520.3,447.6 522.4,451.1 520.3,454.6 516.2,454.6"/>
<polygon points="505.9,460.8 507.9,457.3 512.0,457.3 514.1,460.8 512.0,464.3 507.9,464.3"/>
<polygon points="497.5,455.3 499.6,451.8 503.7,451.8 505.7,455.3 503.7,458.8 499.6,458.8"/>
<polygon points="485.1,458.0 487.1,454.5 491.2,454.5 493.3,458.0 491.2,461.5 487.1,461.5"/>
<polygon points="486.4,466.4 488.4,462.9 492.6,462.9 494.6,466.4 492.6,469.9 488.4,469.9"/>
<polygon points="555.8,458.0 557.9,454.5 561.9,454.5 564.0,458.0 561.9,461.5 557.9,461.5"/>
<polygon points="564.1,462.2 566.2,458.7 570.2,458.7 572.3,462.2 570.2,465.7 566.2,465.7"/>
<polygon points="548.9,463.6 551.0,460.1 555.0,460.1 557.1,463.6 555.0,467.1 551.0,467.1"/>
<polygon points="540.5,466.4 542.6,462.9 546.6,462.9 548.7,466.4 546.6,469.9 542.6,469.9"/>
<polygon points="532.2,465.0 534.2,461.5 538.3,461.5 540.4,465.0 538.3,468.5 534.2,468.5"/>
<polygon points="522.5,471.1 524.6,467.6 528.6,467.6 530.7,471.1 528.6,474.6 524.6,474.6"/>
<polygon points="532.2,473.9 534.2,470.4 538.3,470.4 540.4,473.9 538.3,477.4 534.2,477.4"/>
<polygon points="540.5,478.8 542.6,475.3 546.6,475.3 548.7,478.8 546.6,482.3 542.6,482.3"/>
<polygon points="548.9,473.3 551.0,469.8 555.0,469.8 557.1,473.3 555.0,476.8 551.0,476.8"/>
<polygon points="558.6,469.1 560.7,465.6 564.8,465.6 566.8,469.1 564.8,472.6 560.7,472.6"/>
<polygon points="566.9,470.0 569.0,466.5 573.0,466.5 575.1,470.0 573.0,473.5 569.0,473.5"/>
<polygon points="435.7,569.9 437.8,566.4 441.9,566.4 443.9,569.9 441.9,573.4 437.8,573.4"/>
<polygon points="440.7,564.9 442.8,561.4 446.9,561.4 448.9,564.9 446.9,568.4 442.8,568.4"/>
<polygon points="434.5,560.0 436.6,556.5 440.7,556.5 442.7,560.0 440.7,563.5 436.6,563.5"/>
<polygon points="433.2,553.8 435.2,550.3 439.4,550.3 441.4,553.8 439.4,557.3 435.2,557.3"/>
<polygon points="439.4,556.3 441.4,552.8 445.6,552.8 447.6,556.3 445.6,559.8 441.4,559.8"/>
<polygon points="445.6,560.0 447.6,556.5 451.8,556.5 453.8,560.0 451.8,563.5 447.6,563.5"/>
<polygon points="451.8,562.5 453.8,559.0 457.9,559.0 460.0,562.5 457.9,566.0 453.8,566.0"/>
<polygon points="437.0,543.8 439.1,540.3 443.2,540.3 445.2,543.8 443.2,547.3 439.1,547.3"/>
<polygon points="443.2,550.1 445.2,546.6 449.4,546.6 451.4,550.1 449.4,553.6 445.2,553.6"/>
<polygon points="448.1,567.4 450.1,563.9 454.2,563.9 456.3,567.4 454.2,570.9 450.1,570.9"/>
<polygon points="441.9,572.4 443.9,568.9 448.1,568.9 450.1,572.4 448.1,575.9 443.9,575.9"/>
<polygon points="586.8,338.6 588.9,335.1 592.9,335.1 595.0,338.6 592.9,342.1 588.9,342.1"/>
<polygon points="586.3,343.4 588.4,339.9 592.4,339.9 594.5,343.4 592.4,346.9 588.4,346.9"/>
<polygon points="621.4,339.9 623.5,336.4 627.5,336.4 629.6,339.9 627.5,343.4 623.5,343.4"/>
<polygon points="541.8,354.9 543.9,351.4 547.9,351.4 550.0,354.9 547.9,358.4 543.9,358.4"/>
<polygon points="579.3,354.0 581.4,350.5 585.4,350.5 587.5,354.0 585.4,357.5 581.4,357.5"/>
<polygon points="607.0,358.4 609.1,354.9 613.1,354.9 615.2,358.4 613.1,361.9 609.1,361.9"/>
<polygon points="596.0,364.0 598.1,360.5 602.1,360.5 604.2,364.0 602.1,367.5 598.1,367.5"/>
<polygon points="564.4,364.4 566.5,360.9 570.5,360.9 572.6,364.4 570.5,367.9 566.5,367.9"/>
<polygon points="534.3,366.7 536.4,363.2 540.4,363.2 542.5,366.7 540.4,370.2 536.4,370.2"/>
<polygon points="531.7,369.3 533.8,365.8 537.8,365.8 539.9,369.3 537.8,372.8 533.8,372.8"/>
<polygon points="529.0,377.2 531.1,373.7 535.1,373.7 537.2,377.2 535.1,380.7 531.1,380.7"/>
<polygon points="556.2,371.0 558.2,367.5 562.3,367.5 564.4,371.0 562.3,374.5 558.2,374.5"/>
<polygon points="562.3,373.7 564.4,370.2 568.4,370.2 570.5,373.7 568.4,377.2 564.4,377.2"/>
<polygon points="567.6,373.1 569.7,369.6 573.8,369.6 575.8,373.1 573.8,376.6 569.7,376.6"/>
<polygon points="561.8,378.0 563.9,374.5 567.9,374.5 570.0,378.0 567.9,381.5 563.9,381.5"/>
<polygon points="579.3,377.5 581.4,374.0 585.4,374.0 587.5,377.5 585.4,381.0 581.4,381.0"/>
<polygon points="582.1,385.1 584.2,381.6 588.2,381.6 590.3,385.1 588.2,388.6 584.2,388.6"/>
<polygon points="522.6,385.6 524.7,382.1 528.8,382.1 530.8,385.6 528.8,389.1 524.7,389.1"/>
<polygon points="630.3,364.9 632.4,361.4 636.4,361.4 638.5,364.9 636.4,368.4 632.4,368.4"/>
<polygon points="625.9,375.9 628.0,372.4 632.0,372.4 634.1,375.9 632.0,379.4 628.0,379.4"/>
<polygon points="627.5,379.8 629.6,376.3 633.6,376.3 635.7,379.8 633.6,383.3 629.6,383.3"/>
<polygon points="624.0,386.8 626.1,383.3 630.1,383.3 632.2,386.8 630.1,390.3 626.1,390.3"/>
<polygon points="635.0,374.5 637.1,371.0 641.1,371.0 643.2,374.5 641.1,378.0 637.1,378.0"/>
<polygon points="517.7,394.7 519.8,391.2 523.8,391.2 525.9,394.7 523.8,398.2 519.8,398.2"/>
<polygon points="548.3,387.7 550.4,384.2 554.4,384.2 556.5,387.7 554.4,391.2 550.4,391.2"/>
<polygon points="553.6,389.4 555.7,385.9 559.8,385.9 561.8,389.4 559.8,392.9 555.7,392.9"/>
<polygon points="543.9,393.8 546.0,390.3 550.0,390.3 552.1,393.8 550.0,397.3 546.0,397.3"/>
<polygon points="547.4,399.1 549.5,395.6 553.5,395.6 555.6,399.1 553.5,402.6 549.5,402.6"/>
<polygon points="536.0,398.7 538.1,395.2 542.1,395.2 544.2,398.7 542.1,402.2 538.1,402.2"/>
<polygon points="540.4,399.9 542.5,396.4 546.5,396.4 548.6,399.9 546.5,403.4 542.5,403.4"/>
<polygon points="546.6,405.2 548.7,401.7 552.8,401.7 554.8,405.2 552.8,408.7 548.7,408.7"/>
<polygon points="538.7,407.5 540.8,404.0 544.8,404.0 546.9,407.5 544.8,411.0 540.8,411.0"/>
<polygon points="541.3,412.2 543.4,408.7 547.4,408.7 549.5,412.2 547.4,415.7 543.4,415.7"/>
<polygon points="559.7,402.2 561.8,398.7 565.8,398.7 567.9,402.2 565.8,405.7 561.8,405.7"/>
<polygon points="564.4,405.7 566.5,402.2 570.5,402.2 572.6,405.7 570.5,409.2 566.5,409.2"/>
<polygon points="603.0,393.5 605.1,390.0 609.1,390.0 611.2,393.5 609.1,397.0 605.1,397.0"/>
<polygon points="603.5,400.8 605.6,397.3 609.6,397.3 611.7,400.8 609.6,404.3 605.6,404.3"/>
<polygon points="597.4,403.4 599.5,399.9 603.5,399.9 605.6,403.4 603.5,406.9 599.5,406.9"/>
<polygon points="593.9,409.6 596.0,406.1 600.0,406.1 602.1,409.6 600.0,413.1 596.0,413.1"/>
<polygon points="590.9,417.5 593.0,414.0 597.0,414.0 599.1,417.5 597.0,421.0 593.0,421.0"/>
<polygon points="603.0,418.0 605.1,414.5 609.1,414.5 611.2,418.0 609.1,421.5 605.1,421.5"/>
<polygon points="574.6,415.7 576.7,412.2 580.8,412.2 582.8,415.7 580.8,419.2 576.7,419.2"/>
<polygon points="577.2,414.0 579.2,410.5 583.3,410.5 585.4,414.0 583.3,417.5 579.2,417.5"/>
<polygon points="527.8,414.0 529.9,410.5 533.9,410.5 536.0,414.0 533.9,417.5 529.9,417.5"/>
<polygon points="533.4,416.9 535.5,413.4 539.5,413.4 541.6,416.9 539.5,420.4 535.5,420.4"/>
<polygon points="539.5,418.0 541.6,414.5 545.6,414.5 547.7,418.0 545.6,421.5 541.6,421.5"/>
<polygon points="529.0,421.3 531.1,417.8 535.1,417.8 537.2,421.3 535.1,424.8 531.1,424.8"/>
<polygon points="522.0,424.5 524.1,421.0 528.1,421.0 530.2,424.5 528.1,428.0 524.1,428.0"/>
<polygon points="529.6,427.4 531.7,423.9 535.8,423.9 537.8,427.4 535.8,430.9 531.7,430.9"/>
<polygon points="541.8,427.4 543.9,423.9 547.9,423.9 550.0,427.4 547.9,430.9 543.9,430.9"/>
<polygon points="536.0,431.5 538.1,428.0 542.1,428.0 544.2,431.5 542.1,435.0 538.1,435.0"/>
<polygon points="522.9,433.2 525.0,429.7 529.0,429.7 531.1,433.2 529.0,436.7 525.0,436.7"/>
<polygon points="516.8,427.1 518.9,423.6 522.9,423.6 525.0,427.1 522.9,430.6 518.9,430.6"/>
<polygon points="517.7,437.6 519.8,434.1 523.8,434.1 525.9,437.6 523.8,441.1 519.8,441.1"/>
<polygon points="521.2,441.1 523.2,437.6 527.3,437.6 529.4,441.1 527.3,444.6 523.2,444.6"/>
<polygon points="530.8,442.9 532.9,439.4 536.9,439.4 539.0,442.9 536.9,446.4 532.9,446.4"/>
<polygon points="565.8,426.2 567.9,422.7 571.9,422.7 574.0,426.2 571.9,429.7 567.9,429.7"/>
<polygon points="561.8,429.7 563.9,426.2 567.9,426.2 570.0,429.7 567.9,433.2 563.9,433.2"/>
<polygon points="552.2,433.6 554.2,430.1 558.3,430.1 560.4,433.6 558.3,437.1 554.2,437.1"/>
<polygon points="558.8,435.9 560.9,432.4 564.9,432.4 567.0,435.9 564.9,439.4 560.9,439.4"/>
<polygon points="606.6,432.0 608.7,428.5 612.8,428.5 614.8,432.0 612.8,435.5 608.7,435.5"/>
<polygon points="613.1,441.1 615.2,437.6 619.2,437.6 621.3,441.1 619.2,444.6 615.2,444.6"/>
<polygon points="593.5,442.3 595.6,438.8 599.6,438.8 601.7,442.3 599.6,445.8 595.6,445.8"/>
<polygon points="577.2,443.2 579.2,439.7 583.3,439.7 585.4,443.2 583.3,446.7 579.2,446.7"/>
<polygon points="582.5,445.5 584.6,442.0 588.6,442.0 590.7,445.5 588.6,449.0 584.6,449.0"/>
<polygon points="574.6,446.4 576.7,442.9 580.8,442.9 582.8,446.4 580.8,449.9 576.7,449.9"/>
<polygon points="563.5,445.5 565.6,442.0 569.6,442.0 571.7,445.5 569.6,449.0 565.6,449.0"/>
<polygon points="547.4,447.2 549.5,443.7 553.5,443.7 555.6,447.2 553.5,450.7 549.5,450.7"/>
<polygon points="554.4,449.0 556.5,445.5 560.5,445.5 562.6,449.0 560.5,452.5 556.5,452.5"/>
<polygon points="562.3,449.9 564.4,446.4 568.4,446.4 570.5,449.9 568.4,453.4 564.4,453.4"/>
<polygon points="549.2,450.7 551.2,447.2 555.3,447.2 557.4,450.7 555.3,454.2 551.2,454.2"/>
<polygon points="539.5,450.7 541.6,447.2 545.6,447.2 547.7,450.7 545.6,454.2 541.6,454.2"/>
<polygon points="540.4,453.4 542.5,449.9 546.5,449.9 548.6,453.4 546.5,456.9 542.5,456.9"/>
<polygon points="599.6,453.7 601.7,450.2 605.8,450.2 607.8,453.7 605.8,457.2 601.7,457.2"/>
<polygon points="612.3,442.1 614.4,438.6 618.4,438.6 620.5,442.1 618.4,445.6 614.4,445.6"/>
<polygon points="593.0,442.6 595.1,439.1 599.1,439.1 601.2,442.6 599.1,446.1 595.1,446.1"/>
<polygon points="583.3,445.3 585.4,441.8 589.4,441.8 591.5,445.3 589.4,448.8 585.4,448.8"/>
<polygon points="577.2,446.1 579.2,442.6 583.3,442.6 585.4,446.1 583.3,449.6 579.2,449.6"/>
<polygon points="599.6,454.4 601.7,450.9 605.8,450.9 607.8,454.4 605.8,457.9 601.7,457.9"/>
<polygon points="610.1,457.5 612.2,454.0 616.2,454.0 618.3,457.5 616.2,461.0 612.2,461.0"/>
<polygon points="574.6,458.4 576.7,454.9 580.8,454.9 582.8,458.4 580.8,461.9 576.7,461.9"/>
<polygon points="583.3,458.4 585.4,454.9 589.4,454.9 591.5,458.4 589.4,461.9 585.4,461.9"/>
<polygon points="586.0,457.5 588.1,454.0 592.1,454.0 594.2,457.5 592.1,461.0 588.1,461.0"/>
<polygon points="599.6,469.8 601.7,466.3 605.8,466.3 607.8,469.8 605.8,473.3 601.7,473.3"/>
<polygon points="583.3,467.2 585.4,463.7 589.4,463.7 591.5,467.2 589.4,470.7 585.4,470.7"/>
<polygon points="586.8,471.5 588.9,468.0 592.9,468.0 595.0,471.5 592.9,475.0 588.9,475.0"/>
<polygon points="576.3,474.2 578.4,470.7 582.4,470.7 584.5,474.2 582.4,477.7 578.4,477.7"/>
<polygon points="592.1,477.7 594.2,474.2 598.2,474.2 600.3,477.7 598.2,481.2 594.2,481.2"/>
<polygon points="587.7,482.0 589.8,478.5 593.8,478.5 595.9,482.0 593.8,485.5 589.8,485.5"/>
<polygon points="579.0,484.7 581.1,481.2 585.1,481.2 587.2,484.7 585.1,488.2 581.1,488.2"/>
<polygon points="584.6,487.3 586.7,483.8 590.8,483.8 592.8,487.3 590.8,490.8 586.7,490.8"/>
<polygon points="572.8,492.6 574.9,489.1 578.9,489.1 581.0,492.6 578.9,496.1 574.9,496.1"/>
<polygon points="569.3,500.4 571.4,496.9 575.4,496.9 577.5,500.4 575.4,503.9 571.4,503.9"/>
<polygon points="560.6,507.4 562.7,503.9 566.8,503.9 568.8,507.4 566.8,510.9 562.7,510.9"/>
<polygon points="551.8,515.3 553.9,511.8 557.9,511.8 560.0,515.3 557.9,518.8 553.9,518.8"/>
<polygon points="543.1,524.1 545.2,520.6 549.2,520.6 551.3,524.1 549.2,527.6 545.2,527.6"/>
<polygon points="533.4,529.3 535.5,525.8 539.5,525.8 541.6,529.3 539.5,532.8 535.5,532.8"/>
<polygon points="522.6,530.2 524.7,526.7 528.8,526.7 530.8,530.2 528.8,533.7 524.7,533.7"/>
<polygon points="515.9,525.8 518.0,522.3 522.0,522.3 524.1,525.8 522.0,529.3 518.0,529.3"/>
<polygon points="522.0,515.3 524.1,511.8 528.1,511.8 530.2,515.3 528.1,518.8 524.1,518.8"/>
<polygon points="530.8,518.8 532.9,515.3 536.9,515.3 539.0,518.8 536.9,522.3 532.9,522.3"/>
<polygon points="542.2,517.1 544.2,513.6 548.3,513.6 550.4,517.1 548.3,520.6 544.2,520.6"/>
<polygon points="540.4,510.9 542.5,507.4 546.5,507.4 548.6,510.9 546.5,514.4 542.5,514.4"/>
<polygon points="554.4,509.2 556.5,505.7 560.5,505.7 562.6,509.2 560.5,512.7 556.5,512.7"/>
<polygon points="481.9,503.5 483.9,500.0 488.1,500.0 490.1,503.5 488.1,507.0 483.9,507.0"/>
<polygon points="486.4,498.0 488.4,494.5 492.6,494.5 494.6,498.0 492.6,501.5 488.4,501.5"/>
<polygon points="490.9,495.5 492.9,492.0 497.1,492.0 499.1,495.5 497.1,499.0 492.9,499.0"/>
<polygon points="494.9,489.0 496.9,485.5 501.1,485.5 503.1,489.0 501.1,492.5 496.9,492.5"/>
</g>
<rect x="415.4" y="335.6" width="255.8" height="255.8" fill="none" stroke="#000" stroke-width="1.25"/>
<path d="M415.40 591.40v3.8M415.40 335.60v-3.8M415.40 591.40h-3.8M671.20 591.40h3.8M428.19 591.40v2.1M428.19 335.60v-2.1M415.40 578.61h-2.1M671.20 578.61h2.1M440.98 591.40v2.1M440.98 335.60v-2.1M415.40 565.82h-2.1M671.20 565.82h2.1M453.77 591.40v2.1M453.77 335.60v-2.1M415.40 553.03h-2.1M671.20 553.03h2.1M466.56 591.40v2.1M466.56 335.60v-2.1M415.40 540.24h-2.1M671.20 540.24h2.1M479.35 591.40v3.8M479.35 335.60v-3.8M415.40 527.45h-3.8M671.20 527.45h3.8M492.14 591.40v2.1M492.14 335.60v-2.1M415.40 514.66h-2.1M671.20 514.66h2.1M504.93 591.40v2.1M504.93 335.60v-2.1M415.40 501.87h-2.1M671.20 501.87h2.1M517.72 591.40v2.1M517.72 335.60v-2.1M415.40 489.08h-2.1M671.20 489.08h2.1M530.51 591.40v2.1M530.51 335.60v-2.1M415.40 476.29h-2.1M671.20 476.29h2.1M543.30 591.40v3.8M543.30 335.60v-3.8M415.40 463.50h-3.8M671.20 463.50h3.8M556.09 591.40v2.1M556.09 335.60v-2.1M415.40 450.71h-2.1M671.20 450.71h2.1M568.88 591.40v2.1M568.88 335.60v-2.1M415.40 437.92h-2.1M671.20 437.92h2.1M581.67 591.40v2.1M581.67 335.60v-2.1M415.40 425.13h-2.1M671.20 425.13h2.1M594.46 591.40v2.1M594.46 335.60v-2.1M415.40 412.34h-2.1M671.20 412.34h2.1M607.25 591.40v3.8M607.25 335.60v-3.8M415.40 399.55h-3.8M671.20 399.55h3.8M620.04 591.40v2.1M620.04 335.60v-2.1M415.40 386.76h-2.1M671.20 386.76h2.1M632.83 591.40v2.1M632.83 335.60v-2.1M415.40 373.97h-2.1M671.20 373.97h2.1M645.62 591.40v2.1M645.62 335.60v-2.1M415.40 361.18h-2.1M671.20 361.18h2.1M658.41 591.40v2.1M658.41 335.60v-2.1M415.40 348.39h-2.1M671.20 348.39h2.1M671.20 591.40v3.8M671.20 335.60v-3.8M415.40 335.60h-3.8M671.20 335.60h3.8" stroke="#000" stroke-width="1.3" fill="none"/>
<text x="415.4" y="608.0" text-anchor="middle" class="t">0</text>
<text x="409.8" y="595.6" text-anchor="end" class="t">0</text>
<text x="479.3" y="608.0" text-anchor="middle" class="t">300</text>
<text x="409.8" y="531.7" text-anchor="end" class="t">300</text>
<text x="543.3" y="608.0" text-anchor="middle" class="t">600</text>
<text x="409.8" y="467.7" text-anchor="end" class="t">600</text>
<text x="607.2" y="608.0" text-anchor="middle" class="t">900</text>
<text x="409.8" y="403.8" text-anchor="end" class="t">900</text>
<text x="671.2" y="608.0" text-anchor="middle" class="t">1200</text>
<text x="409.8" y="339.8" text-anchor="end" class="t">1200</text>
<text x="543.3" y="638.6" text-anchor="middle" class="l">Experimental Nusselt number, (-)</text>
<text transform="translate(368.2 459.5) rotate(-90)" text-anchor="middle" class="l">Predicted Nusselt number, (-)</text>
<rect x="545.2" y="544.7" width="114.8" height="21.0" fill="#fff" stroke="#222" stroke-width="0.9"/>
<text x="602.6" y="559.8" text-anchor="middle" class="b">Solanki and Kumar</text>
</g>
<g>
<g clip-path="url(#c4)">
<line x1="57.5" y1="922.9" x2="313.3" y2="667.1" stroke="#000" stroke-width="1.3"/>
<line x1="57.5" y1="922.9" x2="290.0" y2="667.1" stroke="#000" stroke-width="1.6" stroke-dasharray="5.1 3.8"/>
<line x1="57.5" y1="922.9" x2="313.3" y2="692.7" stroke="#000" stroke-width="1.6" stroke-dasharray="5.1 3.8"/>
</g>
<text transform="translate(208.5 737.0) rotate(-43)" text-anchor="middle" class="l">+ 10%</text>
<text transform="translate(251.7 782.7) rotate(-50)" text-anchor="middle" class="l">- 10%</text>
<g class="y">
<polygon points="76.9,897.6 81.2,893.3 85.5,897.6 81.2,901.9"/>
<polygon points="79.9,892.1 84.2,887.8 88.5,892.1 84.2,896.4"/>
<polygon points="85.1,892.5 89.4,888.2 93.7,892.5 89.4,896.8"/>
<polygon points="85.8,884.9 90.1,880.6 94.4,884.9 90.1,889.2"/>
<polygon points="91.7,884.4 96.0,880.1 100.3,884.4 96.0,888.7"/>
<polygon points="94.6,881.7 98.9,877.4 103.2,881.7 98.9,886.0"/>
<polygon points="100.9,880.2 105.2,875.9 109.5,880.2 105.2,884.5"/>
<polygon points="101.7,876.8 106.0,872.5 110.3,876.8 106.0,881.1"/>
<polygon points="108.9,877.6 113.2,873.3 117.5,877.6 113.2,881.9"/>
<polygon points="110.0,869.0 114.3,864.7 118.6,869.0 114.3,873.3"/>
<polygon points="111.9,863.6 116.2,859.3 120.5,863.6 116.2,867.9"/>
<polygon points="113.4,862.1 117.7,857.8 122.0,862.1 117.7,866.4"/>
<polygon points="120.3,861.5 124.6,857.2 128.9,861.5 124.6,865.8"/>
<polygon points="122.8,858.4 127.1,854.1 131.4,858.4 127.1,862.7"/>
<polygon points="123.1,853.7 127.4,849.4 131.7,853.7 127.4,858.0"/>
<polygon points="127.8,846.9 132.1,842.6 136.4,846.9 132.1,851.2"/>
<polygon points="128.8,844.6 133.1,840.3 137.4,844.6 133.1,848.9"/>
<polygon points="133.0,842.1 137.3,837.8 141.6,842.1 137.3,846.4"/>
<polygon points="138.8,843.4 143.1,839.1 147.4,843.4 143.1,847.7"/>
<polygon points="139.9,837.7 144.2,833.4 148.5,837.7 144.2,842.0"/>
<polygon points="145.2,833.0 149.5,828.7 153.8,833.0 149.5,837.3"/>
<polygon points="151.7,832.4 156.0,828.1 160.3,832.4 156.0,836.7"/>
<polygon points="150.6,825.8 154.9,821.5 159.2,825.8 154.9,830.1"/>
<polygon points="151.6,820.4 155.9,816.1 160.2,820.4 155.9,824.7"/>
<polygon points="152.0,818.3 156.3,814.0 160.6,818.3 156.3,822.6"/>
<polygon points="158.8,818.2 163.1,813.9 167.4,818.2 163.1,822.5"/>
<polygon points="165.1,813.4 169.4,809.1 173.7,813.4 169.4,817.7"/>
<polygon points="164.3,809.7 168.6,805.4 172.9,809.7 168.6,814.0"/>
<polygon points="165.0,803.5 169.3,799.2 173.6,803.5 169.3,807.8"/>
<polygon points="175.1,807.6 179.4,803.3 183.7,807.6 179.4,811.9"/>
<polygon points="175.9,804.3 180.2,800.0 184.5,804.3 180.2,808.6"/>
<polygon points="181.6,797.3 185.9,793.0 190.2,797.3 185.9,801.6"/>
<polygon points="179.9,792.3 184.2,788.0 188.5,792.3 184.2,796.6"/>
<polygon points="186.0,790.3 190.3,786.0 194.6,790.3 190.3,794.6"/>
<polygon points="185.9,787.2 190.2,782.9 194.5,787.2 190.2,791.5"/>
<polygon points="190.7,782.9 195.0,778.6 199.3,782.9 195.0,787.2"/>
<polygon points="194.4,783.1 198.7,778.8 203.0,783.1 198.7,787.4"/>
<polygon points="200.6,778.0 204.9,773.7 209.2,778.0 204.9,782.3"/>
<polygon points="199.6,774.3 203.9,770.0 208.2,774.3 203.9,778.6"/>
<polygon points="202.3,772.2 206.6,767.9 210.9,772.2 206.6,776.5"/>
<polygon points="207.3,770.9 211.6,766.6 215.9,770.9 211.6,775.2"/>
<polygon points="207.9,763.2 212.2,758.9 216.5,763.2 212.2,767.5"/>
<polygon points="213.1,760.0 217.4,755.7 221.7,760.0 217.4,764.3"/>
<polygon points="215.8,754.4 220.1,750.1 224.4,754.4 220.1,758.7"/>
<polygon points="224.2,759.9 228.5,755.6 232.8,759.9 228.5,764.2"/>
<polygon points="223.7,751.8 228.0,747.5 232.3,751.8 228.0,756.1"/>
<polygon points="226.7,746.4 231.0,742.1 235.3,746.4 231.0,750.7"/>
<polygon points="229.4,746.9 233.7,742.6 238.0,746.9 233.7,751.2"/>
<polygon points="234.9,741.8 239.2,737.5 243.5,741.8 239.2,746.1"/>
<polygon points="238.1,739.0 242.4,734.7 246.7,739.0 242.4,743.3"/>
<polygon points="75.5,898.3 79.8,894.0 84.1,898.3 79.8,902.6"/>
<polygon points="80.2,894.5 84.5,890.2 88.8,894.5 84.5,898.8"/>
<polygon points="81.2,885.0 85.5,880.7 89.8,885.0 85.5,889.3"/>
<polygon points="77.4,891.6 81.7,887.3 86.0,891.6 81.7,895.9"/>
<polygon points="97.3,890.7 101.6,886.4 105.9,890.7 101.6,895.0"/>
<polygon points="106.8,878.4 111.1,874.1 115.4,878.4 111.1,882.7"/>
<polygon points="103.9,885.0 108.2,880.7 112.5,885.0 108.2,889.3"/>
<polygon points="127.7,876.1 132.0,871.8 136.3,876.1 132.0,880.4"/>
<polygon points="120.1,872.7 124.4,868.4 128.7,872.7 124.4,877.0"/>
<polygon points="116.3,868.9 120.6,864.6 124.9,868.9 120.6,873.2"/>
<polygon points="122.0,865.1 126.3,860.8 130.6,865.1 126.3,869.4"/>
<polygon points="140.0,853.7 144.3,849.4 148.6,853.7 144.3,858.0"/>
<polygon points="138.1,847.0 142.4,842.7 146.7,847.0 142.4,851.3"/>
<polygon points="148.5,841.3 152.8,837.0 157.1,841.3 152.8,845.6"/>
<polygon points="157.1,836.6 161.4,832.3 165.7,836.6 161.4,840.9"/>
<polygon points="151.4,835.6 155.7,831.3 160.0,835.6 155.7,839.9"/>
<polygon points="156.1,826.2 160.4,821.9 164.7,826.2 160.4,830.5"/>
<polygon points="146.6,822.4 150.9,818.1 155.2,822.4 150.9,826.7"/>
<polygon points="153.3,811.9 157.6,807.6 161.9,811.9 157.6,816.2"/>
<polygon points="157.1,809.1 161.4,804.8 165.7,809.1 161.4,813.4"/>
<polygon points="156.1,806.2 160.4,801.9 164.7,806.2 160.4,810.5"/>
<polygon points="168.5,800.5 172.8,796.2 177.1,800.5 172.8,804.8"/>
<polygon points="182.7,814.8 187.0,810.5 191.3,814.8 187.0,819.1"/>
<polygon points="174.2,810.0 178.5,805.7 182.8,810.0 178.5,814.3"/>
<polygon points="112.5,853.7 116.8,849.4 121.1,853.7 116.8,858.0"/>
<polygon points="129.6,853.7 133.9,849.4 138.2,853.7 133.9,858.0"/>
<polygon points="93.5,876.5 97.8,872.2 102.1,876.5 97.8,880.8"/>
<polygon points="85.9,881.2 90.2,876.9 94.5,881.2 90.2,885.5"/>
<polygon points="295.8,680.6 300.1,676.3 304.4,680.6 300.1,684.9"/>
<polygon points="283.1,693.3 287.4,689.0 291.7,693.3 287.4,697.6"/>
<polygon points="278.1,698.8 282.4,694.5 286.7,698.8 282.4,703.1"/>
<polygon points="267.4,709.0 271.7,704.7 276.0,709.0 271.7,713.3"/>
<polygon points="263.4,713.0 267.7,708.7 272.0,713.0 267.7,717.3"/>
<polygon points="268.2,716.3 272.5,712.0 276.8,716.3 272.5,720.6"/>
<polygon points="250.9,724.4 255.2,720.1 259.5,724.4 255.2,728.7"/>
<polygon points="248.5,728.3 252.8,724.0 257.1,728.3 252.8,732.6"/>
<polygon points="244.8,731.6 249.1,727.3 253.4,731.6 249.1,735.9"/>
<polygon points="240.4,733.8 244.7,729.5 249.0,733.8 244.7,738.1"/>
<polygon points="243.7,740.4 248.0,736.1 252.3,740.4 248.0,744.7"/>
<polygon points="232.8,743.2 237.1,738.9 241.4,743.2 237.1,747.5"/>
<polygon points="226.2,761.2 230.5,756.9 234.8,761.2 230.5,765.5"/>
<polygon points="216.3,765.5 220.6,761.2 224.9,765.5 220.6,769.8"/>
<polygon points="212.0,769.9 216.3,765.6 220.6,769.9 216.3,774.2"/>
<polygon points="209.8,773.2 214.1,768.9 218.4,773.2 214.1,777.5"/>
<polygon points="202.1,786.3 206.4,782.0 210.7,786.3 206.4,790.6"/>
<polygon points="195.5,780.9 199.8,776.6 204.1,780.9 199.8,785.2"/>
<polygon points="189.0,777.6 193.3,773.3 197.6,777.6 193.3,781.9"/>
<polygon points="191.2,786.3 195.5,782.0 199.8,786.3 195.5,790.6"/>
<polygon points="194.5,803.9 198.8,799.6 203.1,803.9 198.8,808.2"/>
<polygon points="183.5,805.0 187.8,800.7 192.1,805.0 187.8,809.3"/>
<polygon points="182.8,813.7 187.1,809.4 191.4,813.7 187.1,818.0"/>
<polygon points="169.3,799.5 173.6,795.2 177.9,799.5 173.6,803.8"/>
<polygon points="166.0,807.1 170.3,802.8 174.6,807.1 170.3,811.4"/>
<polygon points="238.2,739.3 242.5,735.0 246.8,739.3 242.5,743.6"/>
<polygon points="228.4,749.1 232.7,744.8 237.0,749.1 232.7,753.4"/>
<polygon points="221.8,754.6 226.1,750.3 230.4,754.6 226.1,758.9"/>
<polygon points="214.2,759.0 218.5,754.7 222.8,759.0 218.5,763.3"/>
<polygon points="205.4,765.5 209.7,761.2 214.0,765.5 209.7,769.8"/>
<polygon points="197.7,772.1 202.0,767.8 206.3,772.1 202.0,776.4"/>
<polygon points="186.8,791.8 191.1,787.5 195.4,791.8 191.1,796.1"/>
<polygon points="175.8,798.4 180.1,794.1 184.4,798.4 180.1,802.7"/>
</g><g class="u">
<polygon points="88.6,888.2 90.7,884.7 94.8,884.7 96.8,888.2 94.8,891.7 90.7,891.7"/>
<polygon points="94.1,882.9 96.2,879.4 100.2,879.4 102.3,882.9 100.2,886.4 96.2,886.4"/>
<polygon points="96.6,883.5 98.7,880.0 102.8,880.0 104.8,883.5 102.8,887.0 98.7,887.0"/>
<polygon points="102.6,877.4 104.7,873.9 108.8,873.9 110.8,877.4 108.8,880.9 104.7,880.9"/>
<polygon points="109.3,868.1 111.4,864.6 115.5,864.6 117.5,868.1 115.5,871.6 111.4,871.6"/>
<polygon points="115.6,870.0 117.7,866.5 121.8,866.5 123.8,870.0 121.8,873.5 117.7,873.5"/>
<polygon points="120.1,861.3 122.2,857.8 126.2,857.8 128.3,861.3 126.2,864.8 122.2,864.8"/>
<polygon points="123.3,850.7 125.4,847.2 129.5,847.2 131.5,850.7 129.5,854.2 125.4,854.2"/>
<polygon points="132.1,851.4 134.1,847.9 138.2,847.9 140.3,851.4 138.2,854.9 134.1,854.9"/>
<polygon points="134.2,844.4 136.2,840.9 140.4,840.9 142.4,844.4 140.4,847.9 136.2,847.9"/>
<polygon points="138.1,840.8 140.1,837.3 144.2,837.3 146.3,840.8 144.2,844.3 140.1,844.3"/>
<polygon points="146.7,836.2 148.8,832.7 152.9,832.7 154.9,836.2 152.9,839.7 148.8,839.7"/>
<polygon points="151.1,826.6 153.1,823.1 157.2,823.1 159.3,826.6 157.2,830.1 153.1,830.1"/>
<polygon points="149.0,818.0 151.0,814.5 155.2,814.5 157.2,818.0 155.2,821.5 151.0,821.5"/>
<polygon points="158.4,815.7 160.4,812.2 164.6,812.2 166.6,815.7 164.6,819.2 160.4,819.2"/>
<polygon points="165.1,809.3 167.1,805.8 171.2,805.8 173.3,809.3 171.2,812.8 167.1,812.8"/>
<polygon points="168.8,809.3 170.8,805.8 175.0,805.8 177.0,809.3 175.0,812.8 170.8,812.8"/>
<polygon points="170.3,797.0 172.3,793.5 176.5,793.5 178.5,797.0 176.5,800.5 172.3,800.5"/>
<polygon points="178.6,800.2 180.6,796.7 184.8,796.7 186.8,800.2 184.8,803.7 180.6,803.7"/>
<polygon points="180.3,791.1 182.3,787.6 186.5,787.6 188.5,791.1 186.5,794.6 182.3,794.6"/>
<polygon points="186.8,788.6 188.8,785.1 193.0,785.1 195.0,788.6 193.0,792.1 188.8,792.1"/>
<polygon points="196.8,779.3 198.8,775.8 203.0,775.8 205.0,779.3 203.0,782.8 198.8,782.8"/>
<polygon points="198.1,774.5 200.1,771.0 204.2,771.0 206.3,774.5 204.2,778.0 200.1,778.0"/>
<polygon points="205.7,770.2 207.8,766.7 211.9,766.7 213.9,770.2 211.9,773.7 207.8,773.7"/>
<polygon points="211.8,763.2 213.8,759.7 218.0,759.7 220.0,763.2 218.0,766.7 213.8,766.7"/>
<polygon points="217.5,762.1 219.5,758.6 223.7,758.6 225.7,762.1 223.7,765.6 219.5,765.6"/>
<polygon points="217.7,754.8 219.8,751.3 223.9,751.3 225.9,754.8 223.9,758.3 219.8,758.3"/>
<polygon points="224.2,749.5 226.2,746.0 230.4,746.0 232.4,749.5 230.4,753.0 226.2,753.0"/>
<polygon points="88.0,881.2 90.0,877.7 94.1,877.7 96.2,881.2 94.1,884.7 90.0,884.7"/>
<polygon points="91.8,885.0 93.9,881.5 98.0,881.5 100.0,885.0 98.0,888.5 93.9,888.5"/>
<polygon points="87.1,890.7 89.2,887.2 93.2,887.2 95.3,890.7 93.2,894.2 89.2,894.2"/>
<polygon points="97.5,879.3 99.5,875.8 103.6,875.8 105.7,879.3 103.6,882.8 99.5,882.8"/>
<polygon points="108.9,888.8 111.0,885.3 115.0,885.3 117.1,888.8 115.0,892.3 111.0,892.3"/>
<polygon points="99.4,871.7 101.5,868.2 105.5,868.2 107.6,871.7 105.5,875.2 101.5,875.2"/>
<polygon points="103.2,867.0 105.2,863.5 109.3,863.5 111.4,867.0 109.3,870.5 105.2,870.5"/>
<polygon points="107.9,867.9 110.0,864.4 114.0,864.4 116.1,867.9 114.0,871.4 110.0,871.4"/>
<polygon points="102.2,859.4 104.2,855.9 108.3,855.9 110.4,859.4 108.3,862.9 104.2,862.9"/>
<polygon points="105.1,851.8 107.2,848.3 111.2,848.3 113.3,851.8 111.2,855.3 107.2,855.3"/>
<polygon points="109.8,858.4 111.9,854.9 116.0,854.9 118.0,858.4 116.0,861.9 111.9,861.9"/>
<polygon points="114.6,859.4 116.7,855.9 120.8,855.9 122.8,859.4 120.8,862.9 116.7,862.9"/>
<polygon points="124.1,856.5 126.1,853.0 130.2,853.0 132.3,856.5 130.2,860.0 126.1,860.0"/>
<polygon points="124.1,863.2 126.1,859.7 130.2,859.7 132.3,863.2 130.2,866.7 126.1,866.7"/>
<polygon points="116.5,846.1 118.5,842.6 122.6,842.6 124.7,846.1 122.6,849.6 118.5,849.6"/>
<polygon points="123.1,847.0 125.2,843.5 129.2,843.5 131.3,847.0 129.2,850.5 125.2,850.5"/>
<polygon points="129.8,847.0 131.8,843.5 136.0,843.5 138.0,847.0 136.0,850.5 131.8,850.5"/>
<polygon points="134.5,851.8 136.5,848.3 140.7,848.3 142.7,851.8 140.7,855.3 136.5,855.3"/>
<polygon points="131.7,841.3 133.8,837.8 137.9,837.8 139.9,841.3 137.9,844.8 133.8,844.8"/>
<polygon points="126.9,834.7 128.9,831.2 133.1,831.2 135.1,834.7 133.1,838.2 128.9,838.2"/>
<polygon points="129.4,828.1 131.4,824.6 135.6,824.6 137.6,828.1 135.6,831.6 131.4,831.6"/>
<polygon points="139.3,828.1 141.3,824.6 145.5,824.6 147.5,828.1 145.5,831.6 141.3,831.6"/>
<polygon points="142.1,831.9 144.1,828.4 148.2,828.4 150.3,831.9 148.2,835.4 144.1,835.4"/>
<polygon points="139.3,837.5 141.3,834.0 145.5,834.0 147.5,837.5 145.5,841.0 141.3,841.0"/>
<polygon points="146.8,829.0 148.8,825.5 153.0,825.5 155.0,829.0 153.0,832.5 148.8,832.5"/>
<polygon points="149.7,831.9 151.8,828.4 155.9,828.4 157.9,831.9 155.9,835.4 151.8,835.4"/>
<polygon points="154.8,839.1 156.8,835.6 161.0,835.6 163.0,839.1 161.0,842.6 156.8,842.6"/>
<polygon points="163.9,826.2 165.9,822.7 170.1,822.7 172.1,826.2 170.1,829.7 165.9,829.7"/>
<polygon points="152.5,820.5 154.5,817.0 158.7,817.0 160.7,820.5 158.7,824.0 154.5,824.0"/>
<polygon points="157.3,818.6 159.3,815.1 163.5,815.1 165.5,818.6 163.5,822.1 159.3,822.1"/>
<polygon points="163.0,814.8 165.0,811.3 169.2,811.3 171.2,814.8 169.2,818.3 165.0,818.3"/>
<polygon points="168.7,815.7 170.8,812.2 174.9,812.2 176.9,815.7 174.9,819.2 170.8,819.2"/>
<polygon points="163.0,806.2 165.0,802.7 169.2,802.7 171.2,806.2 169.2,809.7 165.0,809.7"/>
<polygon points="163.0,799.6 165.0,796.1 169.2,796.1 171.2,799.6 169.2,803.1 165.0,803.1"/>
<polygon points="174.4,805.3 176.4,801.8 180.6,801.8 182.6,805.3 180.6,808.8 176.4,808.8"/>
<polygon points="171.5,793.9 173.5,790.4 177.7,790.4 179.7,793.9 177.7,797.4 173.5,797.4"/>
<polygon points="178.2,794.8 180.2,791.3 184.4,791.3 186.4,794.8 184.4,798.3 180.2,798.3"/>
<polygon points="180.1,799.6 182.1,796.1 186.2,796.1 188.3,799.6 186.2,803.1 182.1,803.1"/>
<polygon points="116.5,854.6 118.5,851.1 122.6,851.1 124.7,854.6 122.6,858.1 118.5,858.1"/>
<polygon points="119.3,850.8 121.4,847.3 125.5,847.3 127.5,850.8 125.5,854.3 121.4,854.3"/>
<polygon points="291.0,699.2 293.1,695.7 297.2,695.7 299.2,699.2 297.2,702.7 293.1,702.7"/>
<polygon points="272.4,707.1 274.4,703.6 278.6,703.6 280.6,707.1 278.6,710.6 274.4,710.6"/>
<polygon points="255.3,727.7 257.3,724.2 261.4,724.2 263.5,727.7 261.4,731.2 257.3,731.2"/>
<polygon points="239.5,737.5 241.5,734.0 245.7,734.0 247.7,737.5 245.7,741.0 241.5,741.0"/>
<polygon points="226.4,745.4 228.4,741.9 232.6,741.9 234.6,745.4 232.6,748.9 228.4,748.9"/>
<polygon points="239.5,744.7 241.5,741.2 245.7,741.2 247.7,744.7 245.7,748.2 241.5,748.2"/>
<polygon points="234.1,749.1 236.1,745.6 240.2,745.6 242.3,749.1 240.2,752.6 236.1,752.6"/>
<polygon points="226.4,754.2 228.4,750.7 232.6,750.7 234.6,754.2 232.6,757.7 228.4,757.7"/>
<polygon points="223.1,753.5 225.1,750.0 229.2,750.0 231.3,753.5 229.2,757.0 225.1,757.0"/>
<polygon points="228.6,754.6 230.6,751.1 234.8,751.1 236.8,754.6 234.8,758.1 230.6,758.1"/>
<polygon points="214.8,757.9 216.8,754.4 221.0,754.4 223.0,757.9 221.0,761.4 216.8,761.4"/>
<polygon points="205.6,759.6 207.6,756.1 211.8,756.1 213.8,759.6 211.8,763.1 207.6,763.1"/>
<polygon points="218.7,762.3 220.8,758.8 224.9,758.8 226.9,762.3 224.9,765.8 220.8,765.8"/>
<polygon points="208.9,766.6 210.9,763.1 215.1,763.1 217.1,766.6 215.1,770.1 210.9,770.1"/>
<polygon points="197.9,769.3 199.9,765.8 204.1,765.8 206.1,769.3 204.1,772.8 199.9,772.8"/>
<polygon points="202.3,775.4 204.3,771.9 208.5,771.9 210.5,775.4 208.5,778.9 204.3,778.9"/>
<polygon points="201.2,778.7 203.2,775.2 207.4,775.2 209.4,778.7 207.4,782.2 203.2,782.2"/>
<polygon points="206.7,771.0 208.8,767.5 212.9,767.5 214.9,771.0 212.9,774.5 208.8,774.5"/>
<polygon points="182.6,780.2 184.6,776.7 188.8,776.7 190.8,780.2 188.8,783.7 184.6,783.7"/>
<polygon points="171.0,790.7 173.0,787.2 177.2,787.2 179.2,790.7 177.2,794.2 173.0,794.2"/>
<polygon points="190.3,789.6 192.3,786.1 196.5,786.1 198.5,789.6 196.5,793.1 192.3,793.1"/>
<polygon points="184.8,794.0 186.8,790.5 191.0,790.5 193.0,794.0 191.0,797.5 186.8,797.5"/>
<polygon points="183.7,797.3 185.8,793.8 189.9,793.8 191.9,797.3 189.9,800.8 185.8,800.8"/>
<polygon points="195.7,797.3 197.8,793.8 201.9,793.8 203.9,797.3 201.9,800.8 197.8,800.8"/>
<polygon points="176.0,796.2 178.0,792.7 182.2,792.7 184.2,796.2 182.2,799.7 178.0,799.7"/>
<polygon points="174.9,806.1 176.9,802.6 181.1,802.6 183.1,806.1 181.1,809.6 176.9,809.6"/>
<polygon points="162.9,799.5 164.9,796.0 169.1,796.0 171.1,799.5 169.1,803.0 164.9,803.0"/>
<polygon points="167.3,809.3 169.3,805.8 173.5,805.8 175.5,809.3 173.5,812.8 169.3,812.8"/>
<polygon points="179.3,794.0 181.3,790.5 185.5,790.5 187.5,794.0 185.5,797.5 181.3,797.5"/>
</g>
<rect x="57.5" y="667.1" width="255.8" height="255.8" fill="none" stroke="#000" stroke-width="1.25"/>
<path d="M57.50 922.90v3.8M57.50 667.10v-3.8M57.50 922.90h-3.8M313.30 922.90h3.8M70.29 922.90v2.1M70.29 667.10v-2.1M57.50 910.11h-2.1M313.30 910.11h2.1M83.08 922.90v2.1M83.08 667.10v-2.1M57.50 897.32h-2.1M313.30 897.32h2.1M95.87 922.90v2.1M95.87 667.10v-2.1M57.50 884.53h-2.1M313.30 884.53h2.1M108.66 922.90v2.1M108.66 667.10v-2.1M57.50 871.74h-2.1M313.30 871.74h2.1M121.45 922.90v3.8M121.45 667.10v-3.8M57.50 858.95h-3.8M313.30 858.95h3.8M134.24 922.90v2.1M134.24 667.10v-2.1M57.50 846.16h-2.1M313.30 846.16h2.1M147.03 922.90v2.1M147.03 667.10v-2.1M57.50 833.37h-2.1M313.30 833.37h2.1M159.82 922.90v2.1M159.82 667.10v-2.1M57.50 820.58h-2.1M313.30 820.58h2.1M172.61 922.90v2.1M172.61 667.10v-2.1M57.50 807.79h-2.1M313.30 807.79h2.1M185.40 922.90v3.8M185.40 667.10v-3.8M57.50 795.00h-3.8M313.30 795.00h3.8M198.19 922.90v2.1M198.19 667.10v-2.1M57.50 782.21h-2.1M313.30 782.21h2.1M210.98 922.90v2.1M210.98 667.10v-2.1M57.50 769.42h-2.1M313.30 769.42h2.1M223.77 922.90v2.1M223.77 667.10v-2.1M57.50 756.63h-2.1M313.30 756.63h2.1M236.56 922.90v2.1M236.56 667.10v-2.1M57.50 743.84h-2.1M313.30 743.84h2.1M249.35 922.90v3.8M249.35 667.10v-3.8M57.50 731.05h-3.8M313.30 731.05h3.8M262.14 922.90v2.1M262.14 667.10v-2.1M57.50 718.26h-2.1M313.30 718.26h2.1M274.93 922.90v2.1M274.93 667.10v-2.1M57.50 705.47h-2.1M313.30 705.47h2.1M287.72 922.90v2.1M287.72 667.10v-2.1M57.50 692.68h-2.1M313.30 692.68h2.1M300.51 922.90v2.1M300.51 667.10v-2.1M57.50 679.89h-2.1M313.30 679.89h2.1M313.30 922.90v3.8M313.30 667.10v-3.8M57.50 667.10h-3.8M313.30 667.10h3.8" stroke="#000" stroke-width="1.3" fill="none"/>
<text x="57.5" y="939.5" text-anchor="middle" class="t">0</text>
<text x="51.9" y="927.1" text-anchor="end" class="t">0</text>
<text x="121.5" y="939.5" text-anchor="middle" class="t">300</text>
<text x="51.9" y="863.2" text-anchor="end" class="t">300</text>
<text x="185.4" y="939.5" text-anchor="middle" class="t">600</text>
<text x="51.9" y="799.2" text-anchor="end" class="t">600</text>
<text x="249.3" y="939.5" text-anchor="middle" class="t">900</text>
<text x="51.9" y="735.3" text-anchor="end" class="t">900</text>
<text x="313.3" y="939.5" text-anchor="middle" class="t">1200</text>
<text x="51.9" y="671.3" text-anchor="end" class="t">1200</text>
<text x="185.4" y="970.1" text-anchor="middle" class="l">Experimental Nusselt number, (-)</text>
<text transform="translate(10.3 791.0) rotate(-90)" text-anchor="middle" class="l">Predicted Nusselt number, (-)</text>
<rect x="201.3" y="831.4" width="77.5" height="20.0" fill="#fff" stroke="#222" stroke-width="0.9"/>
<text x="241.4" y="846.0" text-anchor="middle" class="b">SVM model</text>
<rect x="180.4" y="862.0" width="122.1" height="56.5" rx="5.5" ry="5.5" fill="#d3d3d3" stroke="#333" stroke-width="1"/>
<g class="y"><polygon points="191.5,878.0 196.1,873.4 200.7,878.0 196.1,882.6"/></g>
<g class="u"><polygon points="191.7,903.6 193.9,899.8 198.3,899.8 200.5,903.6 198.3,907.4 193.9,907.4"/></g>
<text x="206.6" y="882.6" class="b">Training data</text>
<text x="206.6" y="908.2" class="b">Testing data</text>
</g>
<g>
<g clip-path="url(#c5)">
<line x1="415.4" y1="922.9" x2="671.2" y2="667.1" stroke="#000" stroke-width="1.3"/>
<line x1="415.4" y1="922.9" x2="647.9" y2="667.1" stroke="#000" stroke-width="1.6" stroke-dasharray="5.1 3.8"/>
<line x1="415.4" y1="922.9" x2="671.2" y2="692.7" stroke="#000" stroke-width="1.6" stroke-dasharray="5.1 3.8"/>
</g>
<text transform="translate(566.5 737.0) rotate(-43)" text-anchor="middle" class="l">+ 10%</text>
<text transform="translate(609.7 782.7) rotate(-50)" text-anchor="middle" class="l">- 10%</text>
<g class="y">
<polygon points="432.1,901.9 436.4,897.6 440.7,901.9 436.4,906.2"/>
<polygon points="436.1,897.9 440.4,893.6 444.7,897.9 440.4,902.2"/>
<polygon points="440.1,893.9 444.4,889.6 448.7,893.9 444.4,898.2"/>
<polygon points="445.1,888.9 449.4,884.6 453.7,888.9 449.4,893.2"/>
<polygon points="452.1,881.9 456.4,877.6 460.7,881.9 456.4,886.2"/>
<polygon points="459.1,874.9 463.4,870.6 467.7,874.9 463.4,879.2"/>
<polygon points="466.1,867.9 470.4,863.6 474.7,867.9 470.4,872.2"/>
<polygon points="473.1,860.9 477.4,856.6 481.7,860.9 477.4,865.2"/>
<polygon points="480.1,853.9 484.4,849.6 488.7,853.9 484.4,858.2"/>
<polygon points="487.1,846.9 491.4,842.6 495.7,846.9 491.4,851.2"/>
<polygon points="494.1,839.9 498.4,835.6 502.7,839.9 498.4,844.2"/>
<polygon points="501.1,832.9 505.4,828.6 509.7,832.9 505.4,837.2"/>
<polygon points="508.1,825.9 512.4,821.6 516.7,825.9 512.4,830.2"/>
<polygon points="515.1,818.9 519.4,814.6 523.7,818.9 519.4,823.2"/>
<polygon points="522.1,811.9 526.4,807.6 530.7,811.9 526.4,816.2"/>
<polygon points="529.1,804.9 533.4,800.6 537.7,804.9 533.4,809.2"/>
<polygon points="536.1,797.9 540.4,793.6 544.7,797.9 540.4,802.2"/>
<polygon points="543.1,790.9 547.4,786.6 551.7,790.9 547.4,795.2"/>
<polygon points="550.1,783.9 554.4,779.6 558.7,783.9 554.4,788.2"/>
<polygon points="557.1,776.9 561.4,772.6 565.7,776.9 561.4,781.2"/>
<polygon points="564.1,769.9 568.4,765.6 572.7,769.9 568.4,774.2"/>
<polygon points="571.1,762.9 575.4,758.6 579.7,762.9 575.4,767.2"/>
<polygon points="578.1,755.9 582.4,751.6 586.7,755.9 582.4,760.2"/>
<polygon points="585.1,748.9 589.4,744.6 593.7,748.9 589.4,753.2"/>
<polygon points="592.1,741.9 596.4,737.6 600.7,741.9 596.4,746.2"/>
<polygon points="599.1,734.9 603.4,730.6 607.7,734.9 603.4,739.2"/>
<polygon points="606.1,727.9 610.4,723.6 614.7,727.9 610.4,732.2"/>
<polygon points="434.4,899.2 438.7,894.9 443.0,899.2 438.7,903.5"/>
<polygon points="438.2,895.4 442.5,891.1 446.8,895.4 442.5,899.7"/>
<polygon points="441.1,892.6 445.4,888.3 449.7,892.6 445.4,896.9"/>
<polygon points="653.8,680.6 658.1,676.3 662.4,680.6 658.1,684.9"/>
<polygon points="641.1,693.3 645.4,689.0 649.7,693.3 645.4,697.6"/>
<polygon points="636.1,698.8 640.4,694.5 644.7,698.8 640.4,703.1"/>
<polygon points="627.3,706.9 631.6,702.6 635.9,706.9 631.6,711.2"/>
<polygon points="623.6,710.1 627.9,705.8 632.2,710.1 627.9,714.4"/>
<polygon points="620.3,713.0 624.6,708.7 628.9,713.0 624.6,717.3"/>
<polygon points="609.4,724.4 613.7,720.1 618.0,724.4 613.7,728.7"/>
<polygon points="606.1,727.2 610.4,722.9 614.7,727.2 610.4,731.5"/>
<polygon points="602.8,730.5 607.1,726.2 611.4,730.5 607.1,734.8"/>
<polygon points="580.9,753.5 585.2,749.2 589.5,753.5 585.2,757.8"/>
<polygon points="577.6,755.7 581.9,751.4 586.2,755.7 581.9,760.0"/>
<polygon points="553.5,780.4 557.8,776.1 562.1,780.4 557.8,784.7"/>
<polygon points="550.3,783.1 554.6,778.8 558.9,783.1 554.6,787.4"/>
<polygon points="571.1,763.4 575.4,759.1 579.7,763.4 575.4,767.7"/>
<polygon points="586.4,746.9 590.7,742.6 595.0,746.9 590.7,751.2"/>
</g><g class="u">
<polygon points="448.1,889.5 450.1,886.0 454.2,886.0 456.3,889.5 454.2,893.0 450.1,893.0"/>
<polygon points="446.3,886.7 448.3,883.2 452.4,883.2 454.5,886.7 452.4,890.2 448.3,890.2"/>
<polygon points="451.0,881.4 453.1,877.9 457.2,877.9 459.2,881.4 457.2,884.9 453.1,884.9"/>
<polygon points="454.2,881.0 456.2,877.5 460.4,877.5 462.4,881.0 460.4,884.5 456.2,884.5"/>
<polygon points="456.7,876.4 458.8,872.9 462.9,872.9 464.9,876.4 462.9,879.9 458.8,879.9"/>
<polygon points="461.6,873.0 463.6,869.5 467.8,869.5 469.8,873.0 467.8,876.5 463.6,876.5"/>
<polygon points="464.5,872.0 466.6,868.5 470.7,868.5 472.7,872.0 470.7,875.5 466.6,875.5"/>
<polygon points="468.7,866.9 470.8,863.4 474.9,863.4 476.9,866.9 474.9,870.4 470.8,870.4"/>
<polygon points="471.5,862.5 473.6,859.0 477.7,859.0 479.7,862.5 477.7,866.0 473.6,866.0"/>
<polygon points="472.6,860.0 474.6,856.5 478.8,856.5 480.8,860.0 478.8,863.5 474.6,863.5"/>
<polygon points="478.1,854.0 480.1,850.5 484.2,850.5 486.3,854.0 484.2,857.5 480.1,857.5"/>
<polygon points="481.3,851.6 483.3,848.1 487.4,848.1 489.5,851.6 487.4,855.1 483.3,855.1"/>
<polygon points="485.5,846.8 487.6,843.3 491.7,843.3 493.7,846.8 491.7,850.3 487.6,850.3"/>
<polygon points="488.8,847.5 490.8,844.0 494.9,844.0 497.0,847.5 494.9,851.0 490.8,851.0"/>
<polygon points="491.4,842.1 493.4,838.6 497.6,838.6 499.6,842.1 497.6,845.6 493.4,845.6"/>
<polygon points="492.8,840.1 494.8,836.6 498.9,836.6 501.0,840.1 498.9,843.6 494.8,843.6"/>
<polygon points="497.8,835.9 499.8,832.4 503.9,832.4 506.0,835.9 503.9,839.4 499.8,839.4"/>
<polygon points="500.2,831.8 502.2,828.3 506.4,828.3 508.4,831.8 506.4,835.3 502.2,835.3"/>
<polygon points="505.5,829.1 507.6,825.6 511.7,825.6 513.7,829.1 511.7,832.6 507.6,832.6"/>
<polygon points="508.0,827.1 510.1,823.6 514.1,823.6 516.2,827.1 514.1,830.6 510.1,830.6"/>
<polygon points="512.7,821.8 514.8,818.3 518.8,818.3 520.9,821.8 518.8,825.3 514.8,825.3"/>
<polygon points="513.8,821.1 515.9,817.6 519.9,817.6 522.0,821.1 519.9,824.6 515.9,824.6"/>
<polygon points="516.4,817.4 518.5,813.9 522.5,813.9 524.6,817.4 522.5,820.9 518.5,820.9"/>
<polygon points="523.6,812.8 525.7,809.3 529.8,809.3 531.8,812.8 529.8,816.3 525.7,816.3"/>
<polygon points="523.7,809.5 525.8,806.0 529.8,806.0 531.9,809.5 529.8,813.0 525.8,813.0"/>
<polygon points="527.9,807.3 530.0,803.8 534.0,803.8 536.1,807.3 534.0,810.8 530.0,810.8"/>
<polygon points="531.7,801.2 533.8,797.7 537.8,797.7 539.9,801.2 537.8,804.7 533.8,804.7"/>
<polygon points="533.2,800.6 535.2,797.1 539.3,797.1 541.4,800.6 539.3,804.1 535.2,804.1"/>
<polygon points="538.6,794.8 540.7,791.3 544.8,791.3 546.8,794.8 544.8,798.3 540.7,798.3"/>
<polygon points="539.0,792.1 541.1,788.6 545.1,788.6 547.2,792.1 545.1,795.6 541.1,795.6"/>
<polygon points="545.9,790.3 548.0,786.8 552.0,786.8 554.1,790.3 552.0,793.8 548.0,793.8"/>
<polygon points="549.0,784.1 551.1,780.6 555.1,780.6 557.2,784.1 555.1,787.6 551.1,787.6"/>
<polygon points="550.5,784.2 552.6,780.7 556.6,780.7 558.7,784.2 556.6,787.7 552.6,787.7"/>
<polygon points="554.4,779.7 556.5,776.2 560.5,776.2 562.6,779.7 560.5,783.2 556.5,783.2"/>
<polygon points="556.9,778.2 559.0,774.7 563.0,774.7 565.1,778.2 563.0,781.7 559.0,781.7"/>
<polygon points="561.7,770.1 563.8,766.6 567.8,766.6 569.9,770.1 567.8,773.6 563.8,773.6"/>
<polygon points="566.7,769.5 568.8,766.0 572.8,766.0 574.9,769.5 572.8,773.0 568.8,773.0"/>
<polygon points="569.3,764.3 571.4,760.8 575.4,760.8 577.5,764.3 575.4,767.8 571.4,767.8"/>
<polygon points="570.8,760.8 572.9,757.3 576.9,757.3 579.0,760.8 576.9,764.3 572.9,764.3"/>
<polygon points="576.1,761.9 578.2,758.4 582.2,758.4 584.3,761.9 582.2,765.4 578.2,765.4"/>
<polygon points="446.0,885.0 448.1,881.5 452.2,881.5 454.2,885.0 452.2,888.5 448.1,888.5"/>
<polygon points="448.9,887.8 450.9,884.3 455.1,884.3 457.1,887.8 455.1,891.3 450.9,891.3"/>
<polygon points="449.8,882.1 451.8,878.6 455.9,878.6 458.0,882.1 455.9,885.6 451.8,885.6"/>
<polygon points="451.7,876.5 453.8,873.0 457.9,873.0 459.9,876.5 457.9,880.0 453.8,880.0"/>
<polygon points="456.4,881.2 458.4,877.7 462.6,877.7 464.6,881.2 462.6,884.7 458.4,884.7"/>
<polygon points="458.3,875.5 460.3,872.0 464.4,872.0 466.5,875.5 464.4,879.0 460.3,879.0"/>
<polygon points="461.2,872.7 463.2,869.2 467.4,869.2 469.4,872.7 467.4,876.2 463.2,876.2"/>
<polygon points="465.0,867.9 467.1,864.4 471.2,864.4 473.2,867.9 471.2,871.4 467.1,871.4"/>
<polygon points="467.8,865.1 469.8,861.6 473.9,861.6 476.0,865.1 473.9,868.6 469.8,868.6"/>
<polygon points="462.1,859.4 464.1,855.9 468.2,855.9 470.3,859.4 468.2,862.9 464.1,862.9"/>
<polygon points="466.9,863.2 468.9,859.7 473.1,859.7 475.1,863.2 473.1,866.7 468.9,866.7"/>
<polygon points="473.5,858.4 475.6,854.9 479.7,854.9 481.7,858.4 479.7,861.9 475.6,861.9"/>
<polygon points="482.1,858.4 484.1,854.9 488.2,854.9 490.3,858.4 488.2,861.9 484.1,861.9"/>
<polygon points="477.3,850.8 479.3,847.3 483.4,847.3 485.5,850.8 483.4,854.3 479.3,854.3"/>
<polygon points="481.1,848.9 483.1,845.4 487.2,845.4 489.3,848.9 487.2,852.4 483.1,852.4"/>
<polygon points="485.9,847.0 487.9,843.5 492.1,843.5 494.1,847.0 492.1,850.5 487.9,850.5"/>
<polygon points="489.7,848.9 491.8,845.4 495.9,845.4 497.9,848.9 495.9,852.4 491.8,852.4"/>
<polygon points="485.9,838.5 487.9,835.0 492.1,835.0 494.1,838.5 492.1,842.0 487.9,842.0"/>
<polygon points="489.7,843.2 491.8,839.7 495.9,839.7 497.9,843.2 495.9,846.7 491.8,846.7"/>
<polygon points="494.4,836.6 496.4,833.1 500.6,833.1 502.6,836.6 500.6,840.1 496.4,840.1"/>
<polygon points="498.2,832.8 500.2,829.3 504.4,829.3 506.4,832.8 504.4,836.3 500.2,836.3"/>
<polygon points="500.1,825.2 502.1,821.7 506.2,821.7 508.3,825.2 506.2,828.7 502.1,828.7"/>
<polygon points="504.8,828.1 506.8,824.6 510.9,824.6 513.0,828.1 510.9,831.6 506.8,831.6"/>
<polygon points="513.4,830.0 515.5,826.5 519.5,826.5 521.6,830.0 519.5,833.5 515.5,833.5"/>
<polygon points="508.6,824.3 510.7,820.8 514.8,820.8 516.8,824.3 514.8,827.8 510.7,827.8"/>
<polygon points="510.5,821.4 512.6,817.9 516.6,817.9 518.7,821.4 516.6,824.9 512.6,824.9"/>
<polygon points="515.3,817.6 517.4,814.1 521.4,814.1 523.5,817.6 521.4,821.1 517.4,821.1"/>
<polygon points="521.0,812.9 523.1,809.4 527.1,809.4 529.2,812.9 527.1,816.4 523.1,816.4"/>
<polygon points="524.8,811.9 526.9,808.4 530.9,808.4 533.0,811.9 530.9,815.4 526.9,815.4"/>
<polygon points="532.4,806.2 534.5,802.7 538.5,802.7 540.6,806.2 538.5,809.7 534.5,809.7"/>
<polygon points="535.2,807.2 537.2,803.7 541.3,803.7 543.4,807.2 541.3,810.7 537.2,810.7"/>
<polygon points="533.3,799.6 535.4,796.1 539.4,796.1 541.5,799.6 539.4,803.1 535.4,803.1"/>
<polygon points="529.5,792.0 531.6,788.5 535.6,788.5 537.7,792.0 535.6,795.5 531.6,795.5"/>
<polygon points="538.1,794.8 540.2,791.3 544.2,791.3 546.3,794.8 544.2,798.3 540.2,798.3"/>
<polygon points="502.9,824.3 504.9,820.8 509.1,820.8 511.1,824.3 509.1,827.8 504.9,827.8"/>
<polygon points="630.4,694.4 632.5,690.9 636.5,690.9 638.6,694.4 636.5,697.9 632.5,697.9"/>
<polygon points="649.0,698.8 651.1,695.3 655.1,695.3 657.2,698.8 655.1,702.3 651.1,702.3"/>
<polygon points="613.3,727.9 615.4,724.4 619.4,724.4 621.5,727.9 619.4,731.4 615.4,731.4"/>
<polygon points="597.5,736.0 599.6,732.5 603.6,732.5 605.7,736.0 603.6,739.5 599.6,739.5"/>
<polygon points="591.4,742.1 593.5,738.6 597.5,738.6 599.6,742.1 597.5,745.6 593.5,745.6"/>
<polygon points="597.5,743.6 599.6,740.1 603.6,740.1 605.7,743.6 603.6,747.1 599.6,747.1"/>
<polygon points="583.3,746.3 585.4,742.8 589.4,742.8 591.5,746.3 589.4,749.8 585.4,749.8"/>
<polygon points="580.0,748.0 582.1,744.5 586.1,744.5 588.2,748.0 586.1,751.5 582.1,751.5"/>
<polygon points="586.6,749.1 588.7,745.6 592.8,745.6 594.8,749.1 592.8,752.6 588.7,752.6"/>
<polygon points="573.5,759.0 575.6,755.5 579.6,755.5 581.7,759.0 579.6,762.5 575.6,762.5"/>
<polygon points="576.7,761.2 578.8,757.7 582.8,757.7 584.9,761.2 582.8,764.7 578.8,764.7"/>
<polygon points="566.9,766.6 569.0,763.1 573.0,763.1 575.1,766.6 573.0,770.1 569.0,770.1"/>
<polygon points="563.6,773.2 565.7,769.7 569.8,769.7 571.8,773.2 569.8,776.7 565.7,776.7"/>
<polygon points="555.9,773.2 558.0,769.7 562.0,769.7 564.1,773.2 562.0,776.7 558.0,776.7"/>
<polygon points="560.3,775.4 562.4,771.9 566.4,771.9 568.5,775.4 566.4,778.9 562.4,778.9"/>
<polygon points="553.7,799.5 555.8,796.0 559.8,796.0 561.9,799.5 559.8,803.0 555.8,803.0"/>
<polygon points="549.4,786.3 551.5,782.8 555.5,782.8 557.6,786.3 555.5,789.8 551.5,789.8"/>
<polygon points="541.7,787.4 543.8,783.9 547.8,783.9 549.9,787.4 547.8,790.9 543.8,790.9"/>
<polygon points="529.0,790.7 531.1,787.2 535.1,787.2 537.2,790.7 535.1,794.2 531.1,794.2"/>
<polygon points="540.6,792.9 542.7,789.4 546.8,789.4 548.8,792.9 546.8,796.4 542.7,796.4"/>
<polygon points="534.0,795.1 536.1,791.6 540.1,791.6 542.2,795.1 540.1,798.6 536.1,798.6"/>
<polygon points="539.5,798.4 541.6,794.9 545.6,794.9 547.7,798.4 545.6,801.9 541.6,801.9"/>
<polygon points="532.9,799.5 535.0,796.0 539.0,796.0 541.1,799.5 539.0,803.0 535.0,803.0"/>
<polygon points="532.9,806.1 535.0,802.6 539.0,802.6 541.1,806.1 539.0,809.6 535.0,809.6"/>
<polygon points="526.4,810.4 528.5,806.9 532.5,806.9 534.6,810.4 532.5,813.9 528.5,813.9"/>
<polygon points="520.9,811.5 523.0,808.0 527.0,808.0 529.1,811.5 527.0,815.0 523.0,815.0"/>
<polygon points="523.1,807.1 525.2,803.6 529.2,803.6 531.3,807.1 529.2,810.6 525.2,810.6"/>
<polygon points="597.1,735.3 599.2,731.8 603.2,731.8 605.3,735.3 603.2,738.8 599.2,738.8"/>
<polygon points="591.9,741.4 594.0,737.9 598.0,737.9 600.1,741.4 598.0,744.9 594.0,744.9"/>
<polygon points="598.0,743.1 600.1,739.6 604.1,739.6 606.2,743.1 604.1,746.6 600.1,746.6"/>
<polygon points="582.3,746.6 584.4,743.1 588.4,743.1 590.5,746.6 588.4,750.1 584.4,750.1"/>
<polygon points="578.7,747.5 580.8,744.0 584.8,744.0 586.9,747.5 584.8,751.0 580.8,751.0"/>
<polygon points="586.6,748.4 588.7,744.9 592.8,744.9 594.8,748.4 592.8,751.9 588.7,751.9"/>
<polygon points="573.5,758.0 575.6,754.5 579.6,754.5 581.7,758.0 579.6,761.5 575.6,761.5"/>
<polygon points="577.0,760.7 579.1,757.2 583.1,757.2 585.2,760.7 583.1,764.2 579.1,764.2"/>
<polygon points="567.4,766.8 569.5,763.3 573.5,763.3 575.6,766.8 573.5,770.3 569.5,770.3"/>
<polygon points="563.0,773.8 565.1,770.3 569.1,770.3 571.2,773.8 569.1,777.3 565.1,777.3"/>
<polygon points="556.0,772.9 558.1,769.4 562.1,769.4 564.2,772.9 562.1,776.4 558.1,776.4"/>
<polygon points="558.6,776.4 560.7,772.9 564.8,772.9 566.8,776.4 564.8,779.9 560.7,779.9"/>
<polygon points="548.1,786.9 550.2,783.4 554.2,783.4 556.3,786.9 554.2,790.4 550.2,790.4"/>
<polygon points="542.8,786.1 544.9,782.6 548.9,782.6 551.0,786.1 548.9,789.6 544.9,789.6"/>
<polygon points="528.8,790.4 530.9,786.9 534.9,786.9 537.0,790.4 534.9,793.9 530.9,793.9"/>
<polygon points="540.2,792.2 542.2,788.7 546.3,788.7 548.4,792.2 546.3,795.7 542.2,795.7"/>
<polygon points="535.8,794.8 537.9,791.3 541.9,791.3 544.0,794.8 541.9,798.3 537.9,798.3"/>
<polygon points="533.2,798.3 535.2,794.8 539.3,794.8 541.4,798.3 539.3,801.8 535.2,801.8"/>
<polygon points="554.2,799.2 556.2,795.7 560.3,795.7 562.4,799.2 560.3,802.7 556.2,802.7"/>
<polygon points="538.5,797.4 540.6,793.9 544.6,793.9 546.7,797.4 544.6,800.9 540.6,800.9"/>
<polygon points="532.3,806.2 534.4,802.7 538.4,802.7 540.5,806.2 538.4,809.7 534.4,809.7"/>
<polygon points="527.1,807.1 529.2,803.6 533.2,803.6 535.3,807.1 533.2,810.6 529.2,810.6"/>
<polygon points="521.8,811.5 523.9,808.0 527.9,808.0 530.0,811.5 527.9,815.0 523.9,815.0"/>
<polygon points="514.8,816.7 516.9,813.2 520.9,813.2 523.0,816.7 520.9,820.2 516.9,820.2"/>
<polygon points="520.1,815.8 522.2,812.3 526.2,812.3 528.3,815.8 526.2,819.3 522.2,819.3"/>
<polygon points="512.2,822.8 514.2,819.3 518.3,819.3 520.4,822.8 518.3,826.3 514.2,826.3"/>
<polygon points="500.8,824.6 502.8,821.1 506.9,821.1 509.0,824.6 506.9,828.1 502.8,828.1"/>
<polygon points="505.2,828.1 507.2,824.6 511.4,824.6 513.4,828.1 511.4,831.6 507.2,831.6"/>
<polygon points="513.1,829.9 515.2,826.4 519.2,826.4 521.3,829.9 519.2,833.4 515.2,833.4"/>
<polygon points="498.2,833.4 500.2,829.9 504.4,829.9 506.4,833.4 504.4,836.9 500.2,836.9"/>
<polygon points="494.7,836.9 496.8,833.4 500.9,833.4 502.9,836.9 500.9,840.4 496.8,840.4"/>
<polygon points="489.4,838.6 491.4,835.1 495.6,835.1 497.6,838.6 495.6,842.1 491.4,842.1"/>
<polygon points="489.4,844.7 491.4,841.2 495.6,841.2 497.6,844.7 495.6,848.2 491.4,848.2"/>
<polygon points="496.4,835.1 498.4,831.6 502.6,831.6 504.6,835.1 502.6,838.6 498.4,838.6"/>
</g>
<rect x="415.4" y="667.1" width="255.8" height="255.8" fill="none" stroke="#000" stroke-width="1.25"/>
<path d="M415.40 922.90v3.8M415.40 667.10v-3.8M415.40 922.90h-3.8M671.20 922.90h3.8M428.19 922.90v2.1M428.19 667.10v-2.1M415.40 910.11h-2.1M671.20 910.11h2.1M440.98 922.90v2.1M440.98 667.10v-2.1M415.40 897.32h-2.1M671.20 897.32h2.1M453.77 922.90v2.1M453.77 667.10v-2.1M415.40 884.53h-2.1M671.20 884.53h2.1M466.56 922.90v2.1M466.56 667.10v-2.1M415.40 871.74h-2.1M671.20 871.74h2.1M479.35 922.90v3.8M479.35 667.10v-3.8M415.40 858.95h-3.8M671.20 858.95h3.8M492.14 922.90v2.1M492.14 667.10v-2.1M415.40 846.16h-2.1M671.20 846.16h2.1M504.93 922.90v2.1M504.93 667.10v-2.1M415.40 833.37h-2.1M671.20 833.37h2.1M517.72 922.90v2.1M517.72 667.10v-2.1M415.40 820.58h-2.1M671.20 820.58h2.1M530.51 922.90v2.1M530.51 667.10v-2.1M415.40 807.79h-2.1M671.20 807.79h2.1M543.30 922.90v3.8M543.30 667.10v-3.8M415.40 795.00h-3.8M671.20 795.00h3.8M556.09 922.90v2.1M556.09 667.10v-2.1M415.40 782.21h-2.1M671.20 782.21h2.1M568.88 922.90v2.1M568.88 667.10v-2.1M415.40 769.42h-2.1M671.20 769.42h2.1M581.67 922.90v2.1M581.67 667.10v-2.1M415.40 756.63h-2.1M671.20 756.63h2.1M594.46 922.90v2.1M594.46 667.10v-2.1M415.40 743.84h-2.1M671.20 743.84h2.1M607.25 922.90v3.8M607.25 667.10v-3.8M415.40 731.05h-3.8M671.20 731.05h3.8M620.04 922.90v2.1M620.04 667.10v-2.1M415.40 718.26h-2.1M671.20 718.26h2.1M632.83 922.90v2.1M632.83 667.10v-2.1M415.40 705.47h-2.1M671.20 705.47h2.1M645.62 922.90v2.1M645.62 667.10v-2.1M415.40 692.68h-2.1M671.20 692.68h2.1M658.41 922.90v2.1M658.41 667.10v-2.1M415.40 679.89h-2.1M671.20 679.89h2.1M671.20 922.90v3.8M671.20 667.10v-3.8M415.40 667.10h-3.8M671.20 667.10h3.8" stroke="#000" stroke-width="1.3" fill="none"/>
<text x="415.4" y="939.5" text-anchor="middle" class="t">0</text>
<text x="409.8" y="927.1" text-anchor="end" class="t">0</text>
<text x="479.3" y="939.5" text-anchor="middle" class="t">300</text>
<text x="409.8" y="863.2" text-anchor="end" class="t">300</text>
<text x="543.3" y="939.5" text-anchor="middle" class="t">600</text>
<text x="409.8" y="799.2" text-anchor="end" class="t">600</text>
<text x="607.2" y="939.5" text-anchor="middle" class="t">900</text>
<text x="409.8" y="735.3" text-anchor="end" class="t">900</text>
<text x="671.2" y="939.5" text-anchor="middle" class="t">1200</text>
<text x="409.8" y="671.3" text-anchor="end" class="t">1200</text>
<text x="543.3" y="970.1" text-anchor="middle" class="l">Experimental Nusselt number, (-)</text>
<text transform="translate(368.2 791.0) rotate(-90)" text-anchor="middle" class="l">Predicted Nusselt number, (-)</text>
<rect x="559.2" y="831.6" width="77.5" height="20.0" fill="#fff" stroke="#222" stroke-width="0.9"/>
<text x="599.2" y="846.2" text-anchor="middle" class="b">GPM model</text>
<rect x="538.3" y="862.0" width="122.1" height="56.5" rx="5.5" ry="5.5" fill="#d3d3d3" stroke="#333" stroke-width="1"/>
<g class="y"><polygon points="549.4,878.0 554.0,873.4 558.6,878.0 554.0,882.6"/></g>
<g class="u"><polygon points="549.6,903.6 551.8,899.8 556.2,899.8 558.4,903.6 556.2,907.4 551.8,907.4"/></g>
<text x="564.5" y="882.6" class="b">Training data</text>
<text x="564.5" y="908.2" class="b">Testing data</text>
</g>
</svg></body></html>
